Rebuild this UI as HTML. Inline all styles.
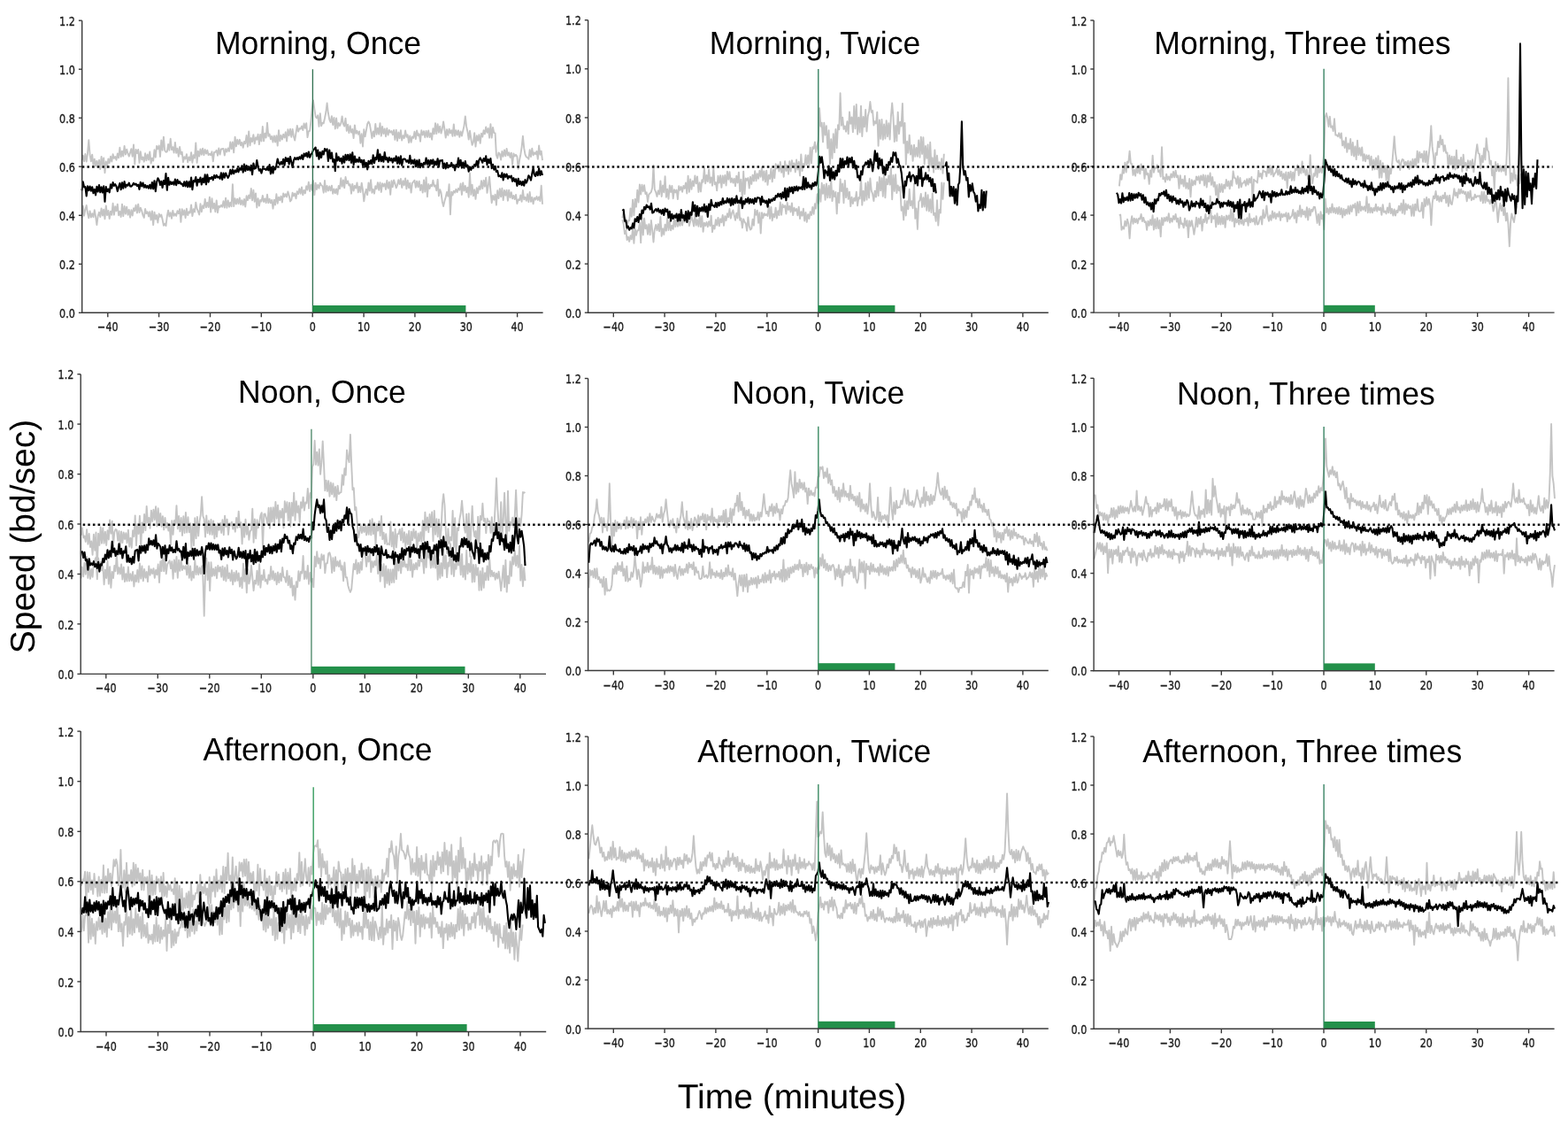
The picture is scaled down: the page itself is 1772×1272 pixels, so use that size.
<!DOCTYPE html>
<html><head><meta charset="utf-8"><title>Speed plots</title>
<style>
html,body{margin:0;padding:0;background:#fff;}
body{width:1772px;height:1272px;overflow:hidden;}
svg{display:block;}
svg text{font-family:'DejaVu Sans',sans-serif;fill:#1a1a1a;stroke:#1a1a1a;stroke-width:0.35px;}
svg text.ti{font-family:'Liberation Sans',Arial,sans-serif;font-size:35.55px;fill:#000;stroke:none;text-rendering:geometricPrecision;}
svg text.lab{font-family:'Liberation Sans',Arial,sans-serif;font-size:39.0px;fill:#000;stroke:none;text-rendering:geometricPrecision;}
</style></head><body>
<svg width="1772" height="1272" viewBox="0 0 1772 1272">
<rect width="1772" height="1272" fill="#fff"/>
<path d="M92.5 181.0 93.8 175.7 95.1 182.3 96.4 173.9 97.7 182.6 99.0 173.4 100.3 158.3 101.6 174.6 102.9 182.3 104.2 174.7 105.5 187.1 106.8 179.7 108.1 187.5 109.4 181.7 110.7 188.1 112.0 180.8 113.3 191.1 114.6 176.9 115.9 186.3 117.2 178.4 118.5 195.2 119.8 182.5 121.1 189.2 122.4 179.5 123.7 184.0 125.0 176.8 126.3 182.5 127.6 174.3 128.9 178.9 130.2 177.1 131.5 180.8 132.8 173.4 134.1 178.4 135.4 166.8 136.7 177.1 138.0 170.7 139.3 176.5 140.6 164.9 141.9 174.6 143.2 168.6 144.5 173.4 145.8 176.6 147.1 172.4 148.4 168.1 149.7 176.8 151.0 163.5 152.3 185.5 153.6 168.9 154.9 173.0 156.2 169.0 157.5 183.9 158.8 171.3 160.2 180.4 161.5 177.6 162.8 182.7 164.1 173.3 165.4 181.3 166.7 174.4 168.0 180.5 169.3 171.4 170.6 184.5 171.9 178.7 173.2 181.7 174.5 169.3 175.8 177.7 177.1 164.9 178.4 168.3 179.7 164.5 181.0 177.0 182.3 158.4 183.6 169.7 184.9 154.6 186.2 170.0 187.5 171.8 188.8 171.3 190.1 163.0 191.4 169.7 192.7 156.8 194.0 169.1 195.3 166.2 196.6 172.6 197.9 160.9 199.2 172.8 200.5 167.7 201.8 176.8 203.1 166.0 204.4 174.4 205.7 171.7 207.0 183.1 208.3 177.2 209.6 179.4 210.9 174.2 212.2 183.4 213.5 177.5 214.8 181.3 216.1 172.2 217.4 183.7 218.7 175.1 220.0 178.8 221.3 161.4 222.6 183.9 223.9 170.7 225.2 176.5 226.5 168.4 227.8 174.7 229.1 167.6 230.4 175.3 231.7 169.0 233.0 173.6 234.3 169.7 235.6 175.2 236.9 173.7 238.2 175.3 239.5 171.3 240.8 182.3 242.1 171.9 243.4 171.9 244.7 169.7 246.0 175.7 247.3 167.5 248.6 174.5 249.9 168.5 251.2 168.2 252.5 167.9 253.8 175.6 255.1 168.3 256.4 171.5 257.7 167.5 259.0 170.9 260.3 160.4 261.6 168.3 262.9 160.5 264.2 172.4 265.6 154.6 266.9 165.3 268.2 157.8 269.5 162.9 270.8 157.8 272.1 164.3 273.4 160.8 274.7 166.7 276.0 160.0 277.3 162.2 278.6 153.0 279.9 165.7 281.2 148.4 282.5 164.3 283.8 156.0 285.1 160.1 286.4 152.1 287.7 162.3 289.0 155.3 290.3 157.7 291.6 151.7 292.9 163.1 294.2 152.0 295.5 159.5 296.8 143.0 298.1 159.3 299.4 150.8 300.7 155.5 302.0 138.8 303.3 153.7 304.6 151.5 305.9 157.4 307.2 153.8 308.5 160.5 309.8 153.4 311.1 160.5 312.4 153.1 313.7 164.6 315.0 147.1 316.3 159.4 317.6 153.0 318.9 157.5 320.2 151.8 321.5 155.5 322.8 149.3 324.1 159.5 325.4 146.3 326.7 153.1 328.0 145.8 329.3 154.8 330.6 145.9 331.9 154.0 333.2 158.5 334.5 150.1 335.8 142.0 337.1 148.6 338.4 145.1 339.7 145.7 341.0 142.5 342.3 147.1 343.6 139.5 344.9 144.8 346.2 139.1 347.5 155.1 348.8 148.2 350.1 147.9 351.4 136.8 352.7 122.4 354.0 113.5 355.3 123.1 356.6 131.7 357.9 133.3 359.2 130.3 360.5 142.8 361.8 128.2 363.1 142.2 364.4 138.8 365.7 139.3 367.0 133.5 368.3 127.0 369.6 116.5 370.9 127.8 372.3 135.1 373.6 138.2 374.9 131.3 376.2 141.1 377.5 133.0 378.8 145.5 380.1 133.5 381.4 144.7 382.7 139.0 384.0 142.1 385.3 139.4 386.6 131.4 387.9 140.1 389.2 142.6 390.5 133.6 391.8 147.9 393.1 140.8 394.4 150.2 395.7 142.2 397.0 149.7 398.3 146.0 399.6 156.1 400.9 141.4 402.2 150.8 403.5 147.8 404.8 151.7 406.1 148.5 407.4 161.7 408.7 151.2 410.0 165.5 411.3 146.3 412.6 154.2 413.9 147.4 415.2 140.0 416.5 137.4 417.8 140.2 419.1 147.7 420.4 156.1 421.7 148.5 423.0 154.3 424.3 139.9 425.6 151.8 426.9 144.6 428.2 151.7 429.5 139.2 430.8 153.6 432.1 142.9 433.4 151.1 434.7 145.5 436.0 154.2 437.3 145.0 438.6 152.5 439.9 146.9 441.2 149.7 442.5 148.1 443.8 152.2 445.1 147.0 446.4 157.9 447.7 146.7 449.0 159.0 450.3 149.4 451.6 156.4 452.9 147.1 454.2 158.6 455.5 153.1 456.8 156.0 458.1 147.4 459.4 154.8 460.7 152.3 462.0 161.2 463.3 153.5 464.6 160.8 465.9 154.4 467.2 155.9 468.5 148.6 469.8 157.0 471.1 147.4 472.4 153.3 473.7 151.2 475.0 159.9 476.3 147.2 477.7 152.6 479.0 148.1 480.3 155.2 481.6 147.9 482.9 154.8 484.2 147.5 485.5 155.1 486.8 150.4 488.1 157.7 489.4 145.2 490.7 151.4 492.0 139.1 493.3 151.1 494.6 140.2 495.9 149.7 497.2 142.6 498.5 150.6 499.8 145.4 501.1 137.4 502.4 146.0 503.7 155.6 505.0 146.3 506.3 152.9 507.6 145.6 508.9 150.5 510.2 147.2 511.5 153.9 512.8 140.4 514.1 153.5 515.4 147.3 516.7 152.5 518.0 147.3 519.3 154.9 520.6 148.5 521.9 153.5 523.2 147.9 524.5 142.1 525.8 131.4 527.1 142.9 528.4 148.7 529.7 157.5 531.0 147.8 532.3 156.8 533.6 163.9 534.9 160.7 536.2 150.1 537.5 165.6 538.8 153.3 540.1 158.9 541.4 152.3 542.7 161.9 544.0 150.7 545.3 154.5 546.6 147.2 547.9 151.4 549.2 143.5 550.5 149.7 551.8 144.9 553.1 155.7 554.4 140.1 555.7 155.6 557.0 143.9 558.3 150.1 559.6 150.4 560.9 175.2 562.2 178.7 563.5 172.5 564.8 173.8 566.1 180.5 567.4 170.9 568.7 176.7 570.0 169.5 571.3 176.3 572.6 167.9 573.9 175.6 575.2 172.3 576.5 177.9 577.8 172.6 579.1 186.0 580.4 173.4 581.7 176.5 583.0 174.7 584.4 177.1 585.7 190.8 587.0 181.0 588.3 174.7 589.6 166.3 590.9 153.8 592.2 167.2 593.5 174.5 594.8 177.3 596.1 177.8 597.4 179.8 598.7 169.1 600.0 177.1 601.3 167.8 602.6 175.4 603.9 172.3 605.2 174.1 606.5 170.9 607.8 179.8 609.1 164.5 610.4 174.7 611.7 170.6 613.0 181.1" fill="none" stroke="#c4c4c4" stroke-width="1.9" stroke-linejoin="round"/>
<path d="M92.5 246.1 93.8 232.8 95.1 243.7 96.4 236.4 97.7 232.0 99.0 240.9 100.3 246.4 101.6 238.5 102.9 245.6 104.2 241.2 105.5 245.3 106.8 237.3 108.1 244.7 109.4 254.1 110.7 244.0 112.0 239.8 113.3 245.0 114.6 235.4 115.9 243.5 117.2 236.8 118.5 247.3 119.8 232.4 121.1 243.1 122.4 238.0 123.7 247.1 125.0 238.7 126.3 242.8 127.6 229.8 128.9 242.7 130.2 233.2 131.5 238.4 132.8 230.6 134.1 243.2 135.4 239.0 136.7 245.0 138.0 230.7 139.3 244.2 140.6 233.0 141.9 241.7 143.2 233.7 144.5 242.7 145.8 236.9 147.1 245.7 148.4 237.3 149.7 243.6 151.0 235.2 152.3 238.3 153.6 231.6 154.9 240.6 156.2 230.6 157.5 240.1 158.8 234.7 160.2 238.3 161.5 243.2 162.8 245.9 164.1 236.0 165.4 241.2 166.7 239.3 168.0 244.5 169.3 239.2 170.6 248.6 171.9 238.4 173.2 254.1 174.5 239.7 175.8 247.7 177.1 243.0 178.4 251.5 179.7 241.5 181.0 244.8 182.3 242.6 183.6 247.9 184.9 254.9 186.2 252.6 187.5 255.1 188.8 244.3 190.1 237.6 191.4 244.6 192.7 240.2 194.0 246.9 195.3 237.9 196.6 243.8 197.9 241.4 199.2 243.9 200.5 238.1 201.8 241.2 203.1 236.2 204.4 250.9 205.7 236.2 207.0 242.9 208.3 237.4 209.6 246.2 210.9 235.8 212.2 243.1 213.5 239.2 214.8 240.6 216.1 231.4 217.4 244.1 218.7 236.3 220.0 239.5 221.3 228.6 222.6 235.6 223.9 238.9 225.2 242.5 226.5 230.3 227.8 239.4 229.1 232.1 230.4 235.2 231.7 224.9 233.0 234.3 234.3 228.8 235.6 234.1 236.9 222.6 238.2 239.6 239.5 224.3 240.8 235.5 242.1 229.6 243.4 239.3 244.7 226.4 246.0 240.2 247.3 232.8 248.6 233.9 249.9 231.8 251.2 233.7 252.5 227.1 253.8 234.6 255.1 223.6 256.4 234.7 257.7 226.5 259.0 233.7 260.3 228.6 261.6 233.2 262.9 208.1 264.2 233.1 265.6 224.2 266.9 230.5 268.2 224.8 269.5 230.2 270.8 223.4 272.1 231.0 273.4 226.2 274.7 231.7 276.0 224.9 277.3 233.5 278.6 221.3 279.9 226.2 281.2 220.5 282.5 224.3 283.8 213.0 285.1 226.4 286.4 214.8 287.7 227.9 289.0 218.4 290.3 234.5 291.6 224.2 292.9 232.6 294.2 225.9 295.5 227.6 296.8 221.0 298.1 228.0 299.4 224.4 300.7 229.2 302.0 219.8 303.3 229.3 304.6 224.7 305.9 229.4 307.2 225.9 308.5 235.7 309.8 225.8 311.1 231.5 312.4 219.3 313.7 229.7 315.0 222.8 316.3 226.2 317.6 221.6 318.9 228.5 320.2 218.4 321.5 222.3 322.8 219.2 324.1 222.5 325.4 216.5 326.7 221.0 328.0 227.5 329.3 226.0 330.6 217.7 331.9 221.4 333.2 218.5 334.5 224.3 335.8 216.2 337.1 219.1 338.4 213.1 339.7 218.9 341.0 211.5 342.3 220.3 343.6 214.9 344.9 218.4 346.2 210.3 347.5 214.6 348.8 205.8 350.1 216.0 351.4 208.6 352.7 214.8 354.0 204.1 355.3 220.3 356.6 206.7 357.9 214.0 359.2 208.8 360.5 212.7 361.8 206.6 363.1 209.3 364.4 210.3 365.7 217.7 367.0 204.0 368.3 216.7 369.6 209.9 370.9 215.5 372.3 210.5 373.6 215.4 374.9 209.6 376.2 218.9 377.5 213.5 378.8 218.3 380.1 213.4 381.4 219.5 382.7 209.9 384.0 213.2 385.3 201.3 386.6 210.9 387.9 203.4 389.2 212.4 390.5 200.0 391.8 207.3 393.1 204.4 394.4 209.6 395.7 208.2 397.0 218.7 398.3 207.9 399.6 215.5 400.9 209.8 402.2 212.6 403.5 206.4 404.8 217.3 406.1 210.6 407.4 217.1 408.7 206.6 410.0 214.6 411.3 227.3 412.6 218.7 413.9 213.8 415.2 220.2 416.5 206.4 417.8 215.6 419.1 203.3 420.4 217.7 421.7 213.9 423.0 218.7 424.3 210.1 425.6 213.3 426.9 206.1 428.2 214.9 429.5 206.2 430.8 217.0 432.1 207.2 433.4 210.5 434.7 207.4 436.0 214.0 437.3 204.0 438.6 212.7 439.9 205.7 441.2 219.9 442.5 204.3 443.8 211.2 445.1 203.4 446.4 207.5 447.7 212.3 449.0 209.3 450.3 203.3 451.6 208.0 452.9 202.0 454.2 212.0 455.5 204.2 456.8 209.2 458.1 201.4 459.4 213.4 460.7 203.6 462.0 212.2 463.3 206.6 464.6 217.6 465.9 206.9 467.2 205.3 468.5 203.7 469.8 211.9 471.1 204.6 472.4 211.3 473.7 204.6 475.0 215.0 476.3 208.6 477.7 217.6 479.0 203.4 480.3 216.6 481.6 200.5 482.9 222.3 484.2 208.0 485.5 213.1 486.8 208.7 488.1 210.4 489.4 203.7 490.7 210.5 492.0 209.3 493.3 215.3 494.6 202.9 495.9 221.4 497.2 214.1 498.5 217.8 499.8 227.7 501.1 233.1 502.4 227.2 503.7 222.7 505.0 217.0 506.3 221.7 507.6 208.2 508.9 242.2 510.2 216.6 511.5 220.4 512.8 215.6 514.1 217.7 515.4 213.8 516.7 217.1 518.0 212.8 519.3 214.7 520.6 207.4 521.9 220.0 523.2 206.5 524.5 215.5 525.8 210.0 527.1 217.4 528.4 211.7 529.7 222.7 531.0 195.7 532.3 219.9 533.6 208.6 534.9 221.3 536.2 214.1 537.5 224.8 538.8 212.3 540.1 218.2 541.4 210.4 542.7 213.8 544.0 204.1 545.3 213.0 546.6 203.8 547.9 210.7 549.2 200.7 550.5 217.9 551.8 209.5 553.1 199.6 554.4 215.6 555.7 229.2 557.0 220.9 558.3 225.8 559.6 219.6 560.9 231.6 562.2 215.2 563.5 224.1 564.8 213.3 566.1 222.3 567.4 212.8 568.7 226.1 570.0 215.0 571.3 220.8 572.6 214.7 573.9 226.7 575.2 214.7 576.5 223.2 577.8 217.1 579.1 224.4 580.4 220.9 581.7 225.1 583.0 219.9 584.4 230.0 585.7 225.4 587.0 226.3 588.3 220.5 589.6 227.8 590.9 215.0 592.2 225.3 593.5 222.8 594.8 226.8 596.1 219.3 597.4 228.2 598.7 217.0 600.0 227.8 601.3 222.9 602.6 230.4 603.9 223.4 605.2 225.6 606.5 222.0 607.8 226.0 609.1 222.4 610.4 227.2 611.7 209.7 613.0 230.8" fill="none" stroke="#c4c4c4" stroke-width="1.9" stroke-linejoin="round"/>
<path d="M92.5 215.4 93.8 205.4 95.1 211.4 96.4 211.0 97.7 221.4 99.0 210.3 100.3 215.1 101.6 210.5 102.9 215.8 104.2 211.2 105.5 218.3 106.8 213.8 108.1 220.4 109.4 210.8 110.7 216.5 112.0 209.1 113.3 217.3 114.6 211.3 115.9 217.5 117.2 210.4 118.5 227.8 119.8 211.1 121.1 216.2 122.4 213.7 123.7 217.3 125.0 208.3 126.3 212.6 127.6 206.1 128.9 209.9 130.2 208.2 131.5 210.5 132.8 216.1 134.1 211.3 135.4 207.1 136.7 214.1 138.0 206.2 139.3 212.7 140.6 205.1 141.9 211.6 143.2 208.7 144.5 209.6 145.8 206.6 147.1 210.4 148.4 210.6 149.7 209.3 151.0 206.8 152.3 208.6 153.6 207.6 154.9 210.0 156.2 208.7 157.5 213.9 158.8 205.7 160.2 210.5 161.5 206.5 162.8 211.7 164.1 208.9 165.4 212.0 166.7 209.9 168.0 212.7 169.3 208.8 170.6 213.1 171.9 206.1 173.2 213.4 174.5 204.2 175.8 216.1 177.1 205.9 178.4 201.2 179.7 203.6 181.0 208.9 182.3 204.8 183.6 212.0 184.9 204.0 186.2 208.2 187.5 196.1 188.8 214.8 190.1 200.7 191.4 208.8 192.7 205.3 194.0 208.0 195.3 205.7 196.6 208.7 197.9 202.6 199.2 209.1 200.5 203.0 201.8 207.1 203.1 205.2 204.4 207.8 205.7 207.5 207.0 210.2 208.3 205.2 209.6 210.4 210.9 204.7 212.2 211.3 213.5 205.4 214.8 211.2 216.1 200.6 217.4 214.2 218.7 204.1 220.0 205.3 221.3 200.0 222.6 209.7 223.9 202.7 225.2 205.6 226.5 200.6 227.8 208.5 229.1 201.6 230.4 206.3 231.7 197.3 233.0 208.3 234.3 197.3 235.6 205.6 236.9 200.9 238.2 201.8 239.5 199.8 240.8 203.3 242.1 198.0 243.4 201.1 244.7 197.9 246.0 200.5 247.3 199.7 248.6 201.8 249.9 195.4 251.2 202.9 252.5 195.6 253.8 200.8 255.1 195.5 256.4 198.6 257.7 200.9 259.0 198.3 260.3 191.9 261.6 196.6 262.9 191.4 264.2 196.2 265.6 192.4 266.9 194.3 268.2 190.4 269.5 194.3 270.8 190.0 272.1 191.8 273.4 187.3 274.7 194.6 276.0 185.5 277.3 193.2 278.6 187.1 279.9 192.0 281.2 188.7 282.5 192.5 283.8 186.7 285.1 197.1 286.4 184.5 287.7 190.6 289.0 190.1 290.3 181.1 291.6 188.3 292.9 192.8 294.2 191.1 295.5 195.6 296.8 190.4 298.1 190.7 299.4 190.9 300.7 192.1 302.0 189.2 303.3 192.3 304.6 186.1 305.9 196.4 307.2 188.8 308.5 195.6 309.8 189.3 311.1 191.4 312.4 186.3 313.7 179.5 315.0 184.3 316.3 185.9 317.6 182.9 318.9 185.4 320.2 179.8 321.5 186.8 322.8 178.1 324.1 182.1 325.4 178.8 326.7 185.5 328.0 177.0 329.3 183.1 330.6 188.9 331.9 181.1 333.2 178.2 334.5 180.2 335.8 178.0 337.1 180.1 338.4 177.3 339.7 179.4 341.0 175.3 342.3 180.0 343.6 173.5 344.9 176.4 346.2 172.9 347.5 177.5 348.8 171.5 350.1 177.8 351.4 174.7 352.7 172.9 354.0 169.6 355.3 168.1 356.6 166.5 357.9 176.4 359.2 169.5 360.5 179.8 361.8 172.0 363.1 178.0 364.4 170.9 365.7 174.5 367.0 168.0 368.3 170.4 369.6 168.4 370.9 181.9 372.3 169.6 373.6 179.0 374.9 172.5 376.2 182.7 377.5 180.1 378.8 193.1 380.1 173.3 381.4 181.5 382.7 177.3 384.0 181.9 385.3 178.8 386.6 184.7 387.9 176.5 389.2 183.6 390.5 174.8 391.8 180.8 393.1 174.9 394.4 181.1 395.7 174.2 397.0 183.8 398.3 172.3 399.6 186.0 400.9 176.5 402.2 183.1 403.5 180.2 404.8 182.8 406.1 177.9 407.4 183.3 408.7 180.8 410.0 186.9 411.3 180.8 412.6 188.5 413.9 183.8 415.2 191.4 416.5 181.9 417.8 185.1 419.1 181.1 420.4 185.3 421.7 175.4 423.0 184.2 424.3 177.9 425.6 180.2 426.9 169.4 428.2 182.2 429.5 174.4 430.8 182.3 432.1 176.9 433.4 182.8 434.7 172.1 436.0 180.4 437.3 178.1 438.6 183.3 439.9 177.8 441.2 181.5 442.5 179.0 443.8 183.6 445.1 178.8 446.4 181.7 447.7 176.4 449.0 184.7 450.3 177.6 451.6 185.1 452.9 176.3 454.2 186.8 455.5 179.9 456.8 179.4 458.1 180.0 459.4 182.7 460.7 181.2 462.0 184.1 463.3 175.9 464.6 185.0 465.9 181.0 467.2 184.8 468.5 180.3 469.8 188.2 471.1 181.2 472.4 187.9 473.7 180.5 475.0 189.2 476.3 184.7 477.7 187.9 479.0 183.9 480.3 185.6 481.6 178.5 482.9 185.7 484.2 181.0 485.5 187.1 486.8 180.7 488.1 185.1 489.4 180.4 490.7 187.0 492.0 182.4 493.3 186.2 494.6 179.2 495.9 188.3 497.2 181.2 498.5 181.6 499.8 180.8 501.1 189.9 502.4 184.6 503.7 190.4 505.0 184.1 506.3 189.4 507.6 186.7 508.9 188.1 510.2 183.9 511.5 188.3 512.8 186.4 514.1 192.4 515.4 186.0 516.7 187.8 518.0 178.6 519.3 187.5 520.6 180.8 521.9 189.6 523.2 183.6 524.5 189.7 525.8 182.1 527.1 188.4 528.4 186.5 529.7 193.7 531.0 188.6 532.3 191.9 533.6 188.3 534.9 189.8 536.2 185.8 537.5 187.7 538.8 181.7 540.1 187.2 541.4 180.7 542.7 178.4 544.0 180.9 545.3 183.7 546.6 179.0 547.9 182.0 549.2 176.3 550.5 186.1 551.8 180.0 553.1 184.2 554.4 179.0 555.7 190.2 557.0 185.7 558.3 191.6 559.6 187.8 560.9 194.0 562.2 192.9 563.5 199.2 564.8 198.4 566.1 200.2 567.4 195.2 568.7 203.4 570.0 196.6 571.3 199.8 572.6 196.7 573.9 201.8 575.2 198.9 576.5 200.5 577.8 198.6 579.1 204.8 580.4 201.2 581.7 205.0 583.0 202.3 584.4 209.9 585.7 201.7 587.0 208.2 588.3 204.9 589.6 209.3 590.9 205.0 592.2 209.7 593.5 203.0 594.8 206.6 596.1 203.3 597.4 198.2 598.7 200.4 600.0 203.6 601.3 196.1 602.6 189.4 603.9 197.3 605.2 199.0 606.5 194.2 607.8 198.2 609.1 190.2 610.4 197.9 611.7 193.3 613.0 198.0" fill="none" stroke="#000" stroke-width="2.1" stroke-linejoin="round"/>
<line x1="353.4" y1="353.3" x2="353.4" y2="78.2" stroke="#2f6f4f" stroke-width="1.3"/>
<rect x="353.4" y="345.0" width="173.0" height="8.3" fill="#23904a"/>
<path d="M92.7 23.2V353.3H613.6" fill="none" stroke="#3a3a3a" stroke-width="1.4"/>
<line x1="88.9" y1="353.3" x2="92.7" y2="353.3" stroke="#3a3a3a" stroke-width="1.4"/>
<text x="0" y="0" transform="translate(84.9,358.9) scale(0.80,1)" text-anchor="end" font-size="14">0.0</text>
<line x1="88.9" y1="298.3" x2="92.7" y2="298.3" stroke="#3a3a3a" stroke-width="1.4"/>
<text x="0" y="0" transform="translate(84.9,303.9) scale(0.80,1)" text-anchor="end" font-size="14">0.2</text>
<line x1="88.9" y1="243.3" x2="92.7" y2="243.3" stroke="#3a3a3a" stroke-width="1.4"/>
<text x="0" y="0" transform="translate(84.9,248.9) scale(0.80,1)" text-anchor="end" font-size="14">0.4</text>
<line x1="88.9" y1="188.2" x2="92.7" y2="188.2" stroke="#3a3a3a" stroke-width="1.4"/>
<text x="0" y="0" transform="translate(84.9,193.8) scale(0.80,1)" text-anchor="end" font-size="14">0.6</text>
<line x1="88.9" y1="133.2" x2="92.7" y2="133.2" stroke="#3a3a3a" stroke-width="1.4"/>
<text x="0" y="0" transform="translate(84.9,138.8) scale(0.80,1)" text-anchor="end" font-size="14">0.8</text>
<line x1="88.9" y1="78.2" x2="92.7" y2="78.2" stroke="#3a3a3a" stroke-width="1.4"/>
<text x="0" y="0" transform="translate(84.9,83.8) scale(0.80,1)" text-anchor="end" font-size="14">1.0</text>
<line x1="88.9" y1="23.2" x2="92.7" y2="23.2" stroke="#3a3a3a" stroke-width="1.4"/>
<text x="0" y="0" transform="translate(84.9,28.8) scale(0.80,1)" text-anchor="end" font-size="14">1.2</text>
<line x1="121.8" y1="353.3" x2="121.8" y2="358.3" stroke="#3a3a3a" stroke-width="1.4"/>
<text x="0" y="0" transform="translate(121.8,374.3) scale(0.794,1)" text-anchor="middle" font-size="14">−40</text>
<line x1="179.6" y1="353.3" x2="179.6" y2="358.3" stroke="#3a3a3a" stroke-width="1.4"/>
<text x="0" y="0" transform="translate(179.6,374.3) scale(0.794,1)" text-anchor="middle" font-size="14">−30</text>
<line x1="237.5" y1="353.3" x2="237.5" y2="358.3" stroke="#3a3a3a" stroke-width="1.4"/>
<text x="0" y="0" transform="translate(237.5,374.3) scale(0.794,1)" text-anchor="middle" font-size="14">−20</text>
<line x1="295.3" y1="353.3" x2="295.3" y2="358.3" stroke="#3a3a3a" stroke-width="1.4"/>
<text x="0" y="0" transform="translate(295.3,374.3) scale(0.794,1)" text-anchor="middle" font-size="14">−10</text>
<line x1="353.2" y1="353.3" x2="353.2" y2="358.3" stroke="#3a3a3a" stroke-width="1.4"/>
<text x="0" y="0" transform="translate(353.2,374.3) scale(0.794,1)" text-anchor="middle" font-size="14">0</text>
<line x1="411.1" y1="353.3" x2="411.1" y2="358.3" stroke="#3a3a3a" stroke-width="1.4"/>
<text x="0" y="0" transform="translate(411.1,374.3) scale(0.794,1)" text-anchor="middle" font-size="14">10</text>
<line x1="468.9" y1="353.3" x2="468.9" y2="358.3" stroke="#3a3a3a" stroke-width="1.4"/>
<text x="0" y="0" transform="translate(468.9,374.3) scale(0.794,1)" text-anchor="middle" font-size="14">20</text>
<line x1="526.8" y1="353.3" x2="526.8" y2="358.3" stroke="#3a3a3a" stroke-width="1.4"/>
<text x="0" y="0" transform="translate(526.8,374.3) scale(0.794,1)" text-anchor="middle" font-size="14">30</text>
<line x1="584.6" y1="353.3" x2="584.6" y2="358.3" stroke="#3a3a3a" stroke-width="1.4"/>
<text x="0" y="0" transform="translate(584.6,374.3) scale(0.794,1)" text-anchor="middle" font-size="14">40</text>
<text class="ti" transform="translate(359.5,60.6) scale(1,1.02)" text-anchor="middle">Morning, Once</text>
<path d="M703.4 246.3 704.7 238.7 706.0 250.4 707.3 246.8 708.6 259.1 709.9 249.1 711.2 249.2 712.5 235.4 713.8 244.8 715.1 225.6 716.4 243.2 717.7 224.9 719.0 233.8 720.3 214.7 721.6 228.5 722.9 208.4 724.2 219.6 725.5 208.7 726.8 216.2 728.1 209.2 729.4 219.1 730.7 217.3 732.0 228.0 733.3 219.5 734.6 218.5 735.9 216.8 737.2 212.0 738.5 186.7 739.8 213.9 741.2 217.2 742.5 222.0 743.8 215.5 745.1 219.5 746.4 204.4 747.7 222.0 749.0 209.5 750.3 217.4 751.6 199.3 752.9 222.8 754.2 213.8 755.5 224.7 756.8 209.4 758.1 217.0 759.4 209.9 760.7 224.2 762.0 214.1 763.3 217.4 764.6 214.5 765.9 225.1 767.2 210.1 768.5 214.8 769.8 211.1 771.1 216.7 772.4 210.0 773.7 212.9 775.0 206.5 776.3 218.5 777.6 198.7 778.9 216.9 780.2 202.5 781.5 213.8 782.8 204.4 784.1 210.2 785.4 198.5 786.7 207.3 788.0 199.4 789.4 217.0 790.7 206.3 792.0 216.5 793.3 203.1 794.6 205.7 795.9 189.6 797.2 207.2 798.5 198.0 799.8 205.1 801.1 191.4 802.4 206.6 803.7 200.4 805.0 209.8 806.3 189.5 807.6 208.2 808.9 206.0 810.2 215.4 811.5 198.8 812.8 206.7 814.1 198.2 815.4 211.8 816.7 198.5 818.0 207.1 819.3 197.9 820.6 209.5 821.9 193.8 823.2 202.9 824.5 194.2 825.8 205.9 827.1 201.5 828.4 206.6 829.7 201.7 831.0 210.3 832.3 198.7 833.6 206.5 834.9 194.6 836.2 216.1 837.5 202.7 838.9 225.9 840.2 193.6 841.5 219.1 842.8 201.5 844.1 203.7 845.4 201.1 846.7 212.6 848.0 199.8 849.3 208.0 850.6 197.7 851.9 204.6 853.2 193.1 854.5 204.3 855.8 196.1 857.1 201.9 858.4 192.8 859.7 199.7 861.0 188.8 862.3 203.7 863.6 193.4 864.9 205.3 866.2 192.6 867.5 208.8 868.8 197.6 870.1 202.0 871.4 190.5 872.7 205.4 874.0 191.7 875.3 201.3 876.6 185.3 877.9 190.5 879.2 186.1 880.5 193.5 881.8 182.9 883.1 194.9 884.4 187.4 885.7 199.8 887.1 182.1 888.4 193.0 889.7 186.4 891.0 196.7 892.3 182.2 893.6 193.6 894.9 181.2 896.2 188.5 897.5 184.4 898.8 194.5 900.1 180.4 901.4 191.6 902.7 182.8 904.0 198.4 905.3 174.4 906.6 193.1 907.9 185.2 909.2 188.2 910.5 175.2 911.8 186.1 913.1 175.5 914.4 186.5 915.7 166.7 917.0 184.4 918.3 166.1 919.6 168.1 920.9 160.4 922.2 171.9 923.5 165.0 924.8 158.1 926.1 122.3 927.4 142.7 928.7 138.6 930.0 160.4 931.3 138.8 932.6 152.5 933.9 142.2 935.3 167.5 936.6 147.3 937.9 185.2 939.2 157.2 940.5 178.9 941.8 151.3 943.1 172.1 944.4 146.0 945.7 167.1 947.0 141.2 948.3 146.3 949.6 105.3 950.9 141.8 952.2 132.7 953.5 145.9 954.8 142.4 956.1 148.7 957.4 137.3 958.7 151.1 960.0 126.4 961.3 139.9 962.6 132.4 963.9 149.3 965.2 119.9 966.5 145.2 967.8 118.0 969.1 151.6 970.4 132.7 971.7 149.5 973.0 119.8 974.3 154.0 975.6 132.0 976.9 143.4 978.2 123.9 979.5 148.5 980.8 131.3 982.1 125.9 983.4 115.0 984.8 126.8 986.1 125.1 987.4 141.5 988.7 137.1 990.0 139.5 991.3 126.7 992.6 164.8 993.9 135.5 995.2 156.8 996.5 135.0 997.8 157.8 999.1 140.5 1000.4 156.5 1001.7 136.3 1003.0 154.2 1004.3 139.3 1005.6 157.5 1006.9 131.3 1008.2 116.5 1009.5 132.4 1010.8 160.0 1012.1 142.0 1013.4 159.1 1014.7 126.6 1016.0 151.2 1017.3 137.7 1018.6 142.6 1019.9 116.9 1021.2 161.7 1022.5 138.9 1023.8 185.6 1025.1 159.6 1026.4 172.7 1027.7 152.6 1029.0 174.6 1030.3 164.3 1031.6 181.9 1033.0 163.8 1034.3 176.8 1035.6 166.9 1036.9 176.8 1038.2 158.4 1039.5 177.8 1040.8 154.7 1042.1 173.9 1043.4 155.3 1044.7 185.5 1046.0 164.9 1047.3 178.8 1048.6 163.4 1049.9 193.0 1051.2 160.8 1052.5 188.6 1053.8 178.3 1055.1 194.6 1056.4 169.5 1057.7 191.0 1059.0 175.8 1060.3 191.1 1061.6 183.1 1062.9 191.6 1064.2 179.2 1065.5 195.7 1066.8 173.8" fill="none" stroke="#c4c4c4" stroke-width="1.9" stroke-linejoin="round"/>
<path d="M703.4 248.3 704.7 252.9 706.0 264.1 707.3 260.4 708.6 271.0 709.9 267.6 711.2 272.9 712.5 266.1 713.8 270.4 715.1 257.9 716.4 274.8 717.7 258.4 719.0 265.8 720.3 260.3 721.6 260.2 722.9 251.8 724.2 274.1 725.5 245.9 726.8 265.4 728.1 246.8 729.4 258.3 730.7 254.2 732.0 264.7 733.3 253.1 734.6 265.3 735.9 249.0 737.2 260.4 738.5 273.5 739.8 259.4 741.2 253.9 742.5 260.3 743.8 253.2 745.1 261.3 746.4 245.0 747.7 266.7 749.0 258.3 750.3 265.0 751.6 253.7 752.9 260.7 754.2 246.1 755.5 260.0 756.8 250.0 758.1 260.2 759.4 254.8 760.7 258.8 762.0 244.6 763.3 256.1 764.6 248.4 765.9 255.9 767.2 249.8 768.5 254.9 769.8 246.8 771.1 254.5 772.4 243.8 773.7 250.8 775.0 240.8 776.3 250.5 777.6 244.5 778.9 255.0 780.2 249.9 781.5 244.5 782.8 249.0 784.1 255.6 785.4 241.9 786.7 254.6 788.0 248.3 789.4 255.8 790.7 243.6 792.0 256.3 793.3 244.3 794.6 261.8 795.9 251.6 797.2 255.0 798.5 251.0 799.8 256.2 801.1 250.1 802.4 255.1 803.7 243.8 805.0 262.1 806.3 254.8 807.6 258.5 808.9 248.1 810.2 254.6 811.5 246.0 812.8 255.4 814.1 247.3 815.4 251.3 816.7 243.0 818.0 254.8 819.3 244.2 820.6 249.1 821.9 241.3 823.2 245.4 824.5 236.0 825.8 246.6 827.1 240.6 828.4 237.5 829.7 243.1 831.0 248.8 832.3 240.8 833.6 246.5 834.9 229.9 836.2 248.7 837.5 246.5 838.9 257.4 840.2 247.4 841.5 250.6 842.8 252.4 844.1 260.7 845.4 245.4 846.7 255.5 848.0 259.5 849.3 258.3 850.6 247.7 851.9 254.7 853.2 236.6 854.5 242.7 855.8 237.7 857.1 251.9 858.4 240.3 859.7 263.5 861.0 240.1 862.3 246.2 863.6 241.1 864.9 243.3 866.2 242.0 867.5 243.9 868.8 232.5 870.1 246.9 871.4 233.9 872.7 249.2 874.0 241.7 875.3 245.4 876.6 234.7 877.9 246.6 879.2 238.2 880.5 243.1 881.8 228.4 883.1 242.7 884.4 231.0 885.7 234.1 887.1 232.2 888.4 241.6 889.7 229.0 891.0 237.1 892.3 232.8 893.6 239.5 894.9 229.4 896.2 243.1 897.5 234.8 898.8 238.2 900.1 235.9 901.4 243.4 902.7 233.8 904.0 247.0 905.3 239.1 906.6 243.7 907.9 235.8 909.2 249.5 910.5 239.9 911.8 250.8 913.1 242.1 914.4 247.0 915.7 239.2 917.0 243.0 918.3 233.9 919.6 241.8 920.9 230.1 922.2 235.8 923.5 219.3 924.8 229.8 926.1 213.6 927.4 227.7 928.7 206.8 930.0 218.8 931.3 208.6 932.6 225.7 933.9 207.4 935.3 223.4 936.6 209.6 937.9 223.3 939.2 202.2 940.5 227.1 941.8 215.5 943.1 222.4 944.4 216.9 945.7 241.4 947.0 217.8 948.3 229.0 949.6 202.4 950.9 216.0 952.2 207.5 953.5 229.2 954.8 203.9 956.1 223.1 957.4 212.9 958.7 224.8 960.0 216.8 961.3 233.1 962.6 222.8 963.9 230.1 965.2 223.8 966.5 226.8 967.8 216.8 969.1 232.4 970.4 223.0 971.7 224.5 973.0 199.7 974.3 231.6 975.6 215.8 976.9 226.9 978.2 206.9 979.5 225.6 980.8 205.4 982.1 223.5 983.4 201.5 984.8 215.5 986.1 219.1 987.4 227.1 988.7 215.6 990.0 222.6 991.3 205.8 992.6 221.1 993.9 200.0 995.2 215.3 996.5 201.1 997.8 221.8 999.1 194.8 1000.4 223.2 1001.7 202.3 1003.0 208.3 1004.3 198.4 1005.6 208.6 1006.9 189.5 1008.2 225.2 1009.5 197.9 1010.8 215.9 1012.1 197.1 1013.4 218.1 1014.7 209.4 1016.0 215.2 1017.3 210.9 1018.6 237.8 1019.9 233.4 1021.2 248.4 1022.5 226.8 1023.8 243.5 1025.1 227.2 1026.4 236.3 1027.7 213.7 1029.0 232.3 1030.3 227.1 1031.6 235.2 1033.0 207.1 1034.3 246.9 1035.6 235.4 1036.9 258.9 1038.2 228.0 1039.5 226.1 1040.8 219.0 1042.1 234.0 1043.4 223.1 1044.7 233.5 1046.0 217.4 1047.3 237.8 1048.6 220.3 1049.9 238.6 1051.2 225.1 1052.5 240.0 1053.8 218.4 1055.1 242.9 1056.4 240.8 1057.7 249.9 1059.0 226.2 1060.3 254.6 1061.6 237.0 1062.9 240.5 1064.2 206.4 1065.5 224.9 1066.8 206.1" fill="none" stroke="#c4c4c4" stroke-width="1.9" stroke-linejoin="round"/>
<path d="M703.4 238.0 704.7 236.9 706.0 249.6 707.3 249.1 708.6 257.4 709.9 255.7 711.2 259.7 712.5 257.2 713.8 258.3 715.1 252.4 716.4 257.4 717.7 247.2 719.0 250.0 720.3 245.0 721.6 250.9 722.9 242.1 724.2 247.6 725.5 237.6 726.8 240.8 728.1 233.9 729.4 236.4 730.7 231.5 732.0 234.2 733.3 233.4 734.7 236.6 736.0 229.7 737.3 240.5 738.6 239.9 739.9 237.6 741.2 236.1 742.5 238.6 743.8 235.7 745.1 239.8 746.4 237.3 747.7 241.6 749.0 236.8 750.3 243.0 751.6 235.5 752.9 238.9 754.2 236.6 755.5 245.9 756.8 238.7 758.1 249.6 759.4 241.9 760.7 247.0 762.0 243.3 763.3 245.9 764.6 241.6 765.9 249.7 767.2 242.1 768.5 249.3 769.8 237.0 771.1 246.1 772.4 243.1 773.7 249.1 775.1 239.0 776.4 251.0 777.7 238.4 779.0 247.3 780.3 239.7 781.6 242.9 782.9 228.2 784.2 238.6 785.5 231.9 786.8 244.3 788.1 232.7 789.4 243.8 790.7 234.8 792.0 238.5 793.3 234.2 794.6 238.6 795.9 230.8 797.2 239.4 798.5 233.1 799.8 245.0 801.1 230.6 802.4 237.3 803.7 225.8 805.0 232.3 806.3 232.2 807.6 234.0 808.9 229.1 810.2 234.1 811.5 228.7 812.8 232.3 814.1 228.0 815.4 231.2 816.8 224.0 818.1 229.9 819.4 227.3 820.7 229.1 822.0 223.9 823.3 228.7 824.6 224.6 825.9 232.2 827.2 224.1 828.5 231.2 829.8 224.8 831.1 229.5 832.4 221.3 833.7 229.1 835.0 226.5 836.3 229.3 837.6 223.3 838.9 235.1 840.2 227.0 841.5 230.4 842.8 224.9 844.1 228.5 845.4 223.6 846.7 229.8 848.0 224.7 849.3 229.0 850.6 225.2 851.9 230.3 853.2 223.9 854.5 228.2 855.8 223.3 857.2 223.4 858.5 223.7 859.8 231.4 861.1 222.1 862.4 228.2 863.7 226.4 865.0 229.4 866.3 226.6 867.6 233.7 868.9 225.1 870.2 228.8 871.5 225.3 872.8 226.9 874.1 223.9 875.4 226.0 876.7 221.0 878.0 222.6 879.3 218.8 880.6 222.2 881.9 218.8 883.2 224.5 884.5 217.4 885.8 223.1 887.1 212.6 888.4 226.3 889.7 213.1 891.0 222.3 892.3 211.6 893.6 216.5 894.9 211.5 896.2 218.2 897.6 211.0 898.9 215.2 900.2 210.6 901.5 215.5 902.8 211.3 904.1 213.2 905.4 211.4 906.7 214.0 908.0 199.8 909.3 213.8 910.6 201.2 911.9 212.2 913.2 206.3 914.5 211.6 915.8 209.2 917.1 213.6 918.4 207.1 919.7 210.1 921.0 205.7 922.3 209.4 923.6 204.8 924.9 192.6 926.2 176.8 927.5 183.8 928.8 177.3 930.1 186.5 931.4 201.3 932.7 192.2 934.0 194.3 935.3 198.3 936.6 187.6 938.0 203.8 939.3 190.1 940.6 201.7 941.9 194.4 943.2 202.6 944.5 192.7 945.8 198.5 947.1 186.5 948.4 194.0 949.7 179.0 951.0 189.5 952.3 179.3 953.6 189.2 954.9 182.1 956.2 185.5 957.5 177.5 958.8 187.8 960.1 178.9 961.4 183.5 962.7 177.8 964.0 189.4 965.3 181.9 966.6 190.7 967.9 187.2 969.2 200.4 970.5 198.7 971.8 203.8 973.1 193.4 974.4 197.3 975.7 187.4 977.0 187.0 978.4 183.4 979.7 185.7 981.0 181.7 982.3 188.9 983.6 179.8 984.9 183.5 986.2 193.4 987.5 184.4 988.8 170.4 990.1 182.0 991.4 173.2 992.7 190.4 994.0 178.9 995.3 186.8 996.6 180.2 997.9 195.7 999.2 188.8 1000.5 197.4 1001.8 186.0 1003.1 192.0 1004.4 183.0 1005.7 186.1 1007.0 178.3 1008.3 182.9 1009.6 172.0 1010.9 175.5 1012.2 172.4 1013.5 183.9 1014.8 179.4 1016.1 186.2 1017.4 187.7 1018.8 195.8 1020.1 208.8 1021.4 223.5 1022.7 204.7 1024.0 209.7 1025.3 199.2 1026.6 200.1 1027.9 194.6 1029.2 204.7 1030.5 199.1 1031.8 197.6 1033.1 199.5 1034.4 207.3 1035.7 198.7 1037.0 209.4 1038.3 190.6 1039.6 201.8 1040.9 188.9 1042.2 210.3 1043.5 201.3 1044.8 202.8 1046.1 195.4 1047.4 202.6 1048.7 197.8 1050.0 204.9 1051.3 200.8 1052.6 210.3 1053.9 202.2 1055.2 216.1 1056.5 207.7 1057.8 218.4 M1068.3 188.0 1069.6 183.3 1071.0 203.5 1072.3 195.9 1073.6 221.5 1074.9 210.9 1076.3 221.3 1077.6 211.1 1078.9 229.7 1080.2 213.5 1081.6 231.4 1082.9 208.9 1084.2 206.1 1085.5 184.6 1086.9 137.4 1088.2 188.2 1089.5 197.5 1090.8 193.2 1092.2 203.5 1093.5 201.0 1094.8 222.4 1096.1 208.9 1097.5 215.7 1098.8 207.3 1100.1 216.5 1101.4 218.7 1102.8 227.6 1104.1 221.1 1105.4 238.5 1106.7 231.4 1108.1 235.0 1109.4 214.9 1110.7 237.5 1112.0 216.9 1113.4 234.5 1114.7 215.5" fill="none" stroke="#000" stroke-width="2.1" stroke-linejoin="round"/>
<line x1="924.8" y1="353.2" x2="924.8" y2="77.9" stroke="#2a7a58" stroke-width="1.3"/>
<rect x="924.8" y="344.9" width="86.6" height="8.3" fill="#23904a"/>
<path d="M664.6 22.7V353.2H1184.8" fill="none" stroke="#3a3a3a" stroke-width="1.4"/>
<line x1="660.8" y1="353.2" x2="664.6" y2="353.2" stroke="#3a3a3a" stroke-width="1.4"/>
<text x="0" y="0" transform="translate(656.8,358.8) scale(0.80,1)" text-anchor="end" font-size="14">0.0</text>
<line x1="660.8" y1="298.1" x2="664.6" y2="298.1" stroke="#3a3a3a" stroke-width="1.4"/>
<text x="0" y="0" transform="translate(656.8,303.7) scale(0.80,1)" text-anchor="end" font-size="14">0.2</text>
<line x1="660.8" y1="243.0" x2="664.6" y2="243.0" stroke="#3a3a3a" stroke-width="1.4"/>
<text x="0" y="0" transform="translate(656.8,248.6) scale(0.80,1)" text-anchor="end" font-size="14">0.4</text>
<line x1="660.8" y1="188.0" x2="664.6" y2="188.0" stroke="#3a3a3a" stroke-width="1.4"/>
<text x="0" y="0" transform="translate(656.8,193.6) scale(0.80,1)" text-anchor="end" font-size="14">0.6</text>
<line x1="660.8" y1="132.9" x2="664.6" y2="132.9" stroke="#3a3a3a" stroke-width="1.4"/>
<text x="0" y="0" transform="translate(656.8,138.5) scale(0.80,1)" text-anchor="end" font-size="14">0.8</text>
<line x1="660.8" y1="77.8" x2="664.6" y2="77.8" stroke="#3a3a3a" stroke-width="1.4"/>
<text x="0" y="0" transform="translate(656.8,83.4) scale(0.80,1)" text-anchor="end" font-size="14">1.0</text>
<line x1="660.8" y1="22.7" x2="664.6" y2="22.7" stroke="#3a3a3a" stroke-width="1.4"/>
<text x="0" y="0" transform="translate(656.8,28.3) scale(0.80,1)" text-anchor="end" font-size="14">1.2</text>
<line x1="693.3" y1="353.2" x2="693.3" y2="358.2" stroke="#3a3a3a" stroke-width="1.4"/>
<text x="0" y="0" transform="translate(693.3,374.2) scale(0.794,1)" text-anchor="middle" font-size="14">−40</text>
<line x1="751.1" y1="353.2" x2="751.1" y2="358.2" stroke="#3a3a3a" stroke-width="1.4"/>
<text x="0" y="0" transform="translate(751.1,374.2) scale(0.794,1)" text-anchor="middle" font-size="14">−30</text>
<line x1="808.9" y1="353.2" x2="808.9" y2="358.2" stroke="#3a3a3a" stroke-width="1.4"/>
<text x="0" y="0" transform="translate(808.9,374.2) scale(0.794,1)" text-anchor="middle" font-size="14">−20</text>
<line x1="866.8" y1="353.2" x2="866.8" y2="358.2" stroke="#3a3a3a" stroke-width="1.4"/>
<text x="0" y="0" transform="translate(866.8,374.2) scale(0.794,1)" text-anchor="middle" font-size="14">−10</text>
<line x1="924.6" y1="353.2" x2="924.6" y2="358.2" stroke="#3a3a3a" stroke-width="1.4"/>
<text x="0" y="0" transform="translate(924.6,374.2) scale(0.794,1)" text-anchor="middle" font-size="14">0</text>
<line x1="982.4" y1="353.2" x2="982.4" y2="358.2" stroke="#3a3a3a" stroke-width="1.4"/>
<text x="0" y="0" transform="translate(982.4,374.2) scale(0.794,1)" text-anchor="middle" font-size="14">10</text>
<line x1="1040.3" y1="353.2" x2="1040.3" y2="358.2" stroke="#3a3a3a" stroke-width="1.4"/>
<text x="0" y="0" transform="translate(1040.3,374.2) scale(0.794,1)" text-anchor="middle" font-size="14">20</text>
<line x1="1098.1" y1="353.2" x2="1098.1" y2="358.2" stroke="#3a3a3a" stroke-width="1.4"/>
<text x="0" y="0" transform="translate(1098.1,374.2) scale(0.794,1)" text-anchor="middle" font-size="14">30</text>
<line x1="1155.9" y1="353.2" x2="1155.9" y2="358.2" stroke="#3a3a3a" stroke-width="1.4"/>
<text x="0" y="0" transform="translate(1155.9,374.2) scale(0.794,1)" text-anchor="middle" font-size="14">40</text>
<text class="ti" transform="translate(921.0,60.6) scale(1,1.02)" text-anchor="middle">Morning, Twice</text>
<path d="M1264.9 210.4 1266.2 197.1 1267.5 202.9 1268.8 191.3 1270.1 195.7 1271.4 183.7 1272.7 194.6 1274.0 182.6 1275.3 183.6 1276.6 170.6 1277.9 184.6 1279.2 185.4 1280.5 197.8 1281.8 191.6 1283.1 198.7 1284.4 188.8 1285.7 195.4 1287.0 187.0 1288.3 196.4 1289.6 185.4 1290.9 192.1 1292.2 187.3 1293.5 201.9 1294.8 190.7 1296.1 197.3 1297.4 195.9 1298.7 207.8 1300.0 192.4 1301.3 199.9 1302.6 175.6 1303.9 194.7 1305.2 189.3 1306.5 189.6 1307.8 186.3 1309.1 194.3 1310.4 192.3 1311.7 199.5 1313.0 166.1 1314.3 202.1 1315.6 200.2 1316.9 205.6 1318.2 196.6 1319.5 203.0 1320.8 199.4 1322.1 203.6 1323.4 196.5 1324.7 200.4 1326.0 194.0 1327.3 200.3 1328.6 192.6 1329.9 200.3 1331.2 198.4 1332.5 212.9 1333.8 198.3 1335.1 207.8 1336.4 202.6 1337.7 210.6 1339.0 198.6 1340.3 212.7 1341.6 206.7 1342.9 213.5 1344.2 202.0 1345.5 222.4 1346.8 203.3 1348.1 209.4 1349.4 204.2 1350.7 208.6 1352.0 199.4 1353.3 203.3 1354.6 199.2 1355.9 207.2 1357.2 198.5 1358.5 203.6 1359.8 197.5 1361.1 209.5 1362.4 198.1 1363.7 211.5 1365.0 198.3 1366.3 205.4 1367.6 195.5 1368.9 208.8 1370.2 200.0 1371.5 210.7 1372.8 205.7 1374.1 220.1 1375.4 209.0 1376.7 230.0 1378.0 208.0 1379.3 216.9 1380.6 208.0 1381.9 217.1 1383.2 208.7 1384.5 212.8 1385.8 202.9 1387.1 210.3 1388.4 204.7 1389.7 213.4 1391.0 204.3 1392.3 209.8 1393.6 193.4 1394.9 200.9 1396.2 201.4 1397.5 207.8 1398.8 199.2 1400.1 212.2 1401.4 201.0 1402.7 211.4 1404.0 206.9 1405.3 206.6 1406.6 204.1 1407.9 209.8 1409.2 202.3 1410.5 208.6 1411.8 201.7 1413.1 206.4 1414.4 199.9 1415.7 229.9 1417.0 202.8 1418.3 204.3 1419.6 204.7 1420.9 206.5 1422.2 192.8 1423.5 199.6 1424.8 195.9 1426.1 201.7 1427.4 192.3 1428.7 193.9 1430.0 193.6 1431.3 199.4 1432.6 190.3 1433.9 195.5 1435.2 187.2 1436.5 197.3 1437.8 189.1 1439.1 199.4 1440.4 196.4 1441.7 194.7 1443.0 190.3 1444.3 197.5 1445.6 191.5 1446.9 199.1 1448.2 193.6 1449.5 202.0 1450.8 196.2 1452.1 203.5 1453.4 194.4 1454.7 212.2 1456.0 194.6 1457.3 201.0 1458.6 193.6 1459.9 203.8 1461.2 194.6 1462.5 203.8 1463.8 190.6 1465.1 192.1 1466.4 186.5 1467.7 198.0 1469.0 189.6 1470.3 195.7 1471.6 182.5 1472.9 194.8 1474.2 190.7 1475.5 197.8 1476.8 191.4 1478.1 202.2 1479.4 200.0 1480.7 175.1 1482.0 201.9 1483.3 207.2 1484.6 196.3 1485.9 198.7 1487.2 187.9 1488.5 200.1 1489.8 190.4 1491.1 194.9 1492.4 188.5 1493.7 195.1 1495.0 186.6 1496.3 172.6 1497.6 132.5 1498.9 127.9 1500.2 133.3 1501.5 143.1 1502.8 131.7 1504.1 143.9 1505.4 142.5 1506.7 148.1 1508.0 134.2 1509.3 152.6 1510.6 152.5 1511.9 154.3 1513.2 150.3 1514.5 155.8 1515.8 150.4 1517.1 164.4 1518.4 159.4 1519.7 167.1 1521.0 155.4 1522.3 171.9 1523.6 162.1 1524.9 168.3 1526.2 157.0 1527.5 175.3 1528.8 160.9 1530.1 176.5 1531.4 165.5 1532.7 180.1 1534.0 158.6 1535.3 175.2 1536.6 167.2 1537.9 175.9 1539.2 166.4 1540.5 181.6 1541.8 174.2 1543.1 182.3 1544.4 175.2 1545.7 179.3 1547.0 175.5 1548.3 187.0 1549.6 176.7 1551.0 191.8 1552.3 180.4 1553.6 191.4 1554.9 178.5 1556.2 191.2 1557.5 176.2 1558.8 200.8 1560.1 181.5 1561.4 200.5 1562.7 184.2 1564.0 194.5 1565.3 187.4 1566.6 203.5 1567.9 186.8 1569.2 208.7 1570.5 189.6 1571.8 196.4 1573.1 187.1 1574.4 171.2 1575.7 154.1 1577.0 172.5 1578.3 181.6 1579.6 183.3 1580.9 181.0 1582.2 192.0 1583.5 183.4 1584.8 179.9 1586.1 180.8 1587.4 187.4 1588.7 182.8 1590.0 188.2 1591.3 181.8 1592.6 191.1 1593.9 182.3 1595.2 189.3 1596.5 179.8 1597.8 188.0 1599.1 179.4 1600.4 188.7 1601.7 170.6 1603.0 183.6 1604.3 172.0 1605.6 178.1 1606.9 173.6 1608.2 182.8 1609.5 170.6 1610.8 183.1 1612.1 170.9 1613.4 186.3 1614.7 175.1 1616.0 163.7 1617.3 142.2 1618.6 165.4 1619.9 175.4 1621.2 190.1 1622.5 172.9 1623.8 174.9 1625.1 159.9 1626.4 166.4 1627.7 153.2 1629.0 163.4 1630.3 157.8 1631.6 170.8 1632.9 164.2 1634.2 172.8 1635.5 172.4 1636.8 190.4 1638.1 175.5 1639.4 185.9 1640.7 176.8 1642.0 190.9 1643.3 176.9 1644.6 191.5 1645.9 169.7 1647.2 190.4 1648.5 180.6 1649.8 186.9 1651.1 177.9 1652.4 193.7 1653.7 174.7 1655.0 187.6 1656.3 184.0 1657.6 192.8 1658.9 181.2 1660.2 190.1 1661.5 181.7 1662.8 189.5 1664.1 180.1 1665.4 194.3 1666.7 184.4 1668.0 172.5 1669.3 163.1 1670.6 173.2 1671.9 173.8 1673.2 190.3 1674.5 176.0 1675.8 183.2 1677.1 167.5 1678.4 180.4 1679.7 156.3 1681.0 169.5 1682.3 171.8 1683.6 185.2 1684.9 181.6 1686.2 198.3 1687.5 191.1 1688.8 213.9 1690.1 182.9 1691.4 193.2 1692.7 185.2 1694.0 193.5 1695.3 187.2 1696.6 193.8 1697.9 188.0 1699.2 193.1 1700.5 187.3 1701.8 197.6 1703.1 165.9 1704.4 88.3 1705.7 171.9 1707.0 206.8 1708.3 195.8 1709.6 204.6 1710.9 190.0 1712.2 202.6 1713.5 197.8 1714.8 209.6 1716.1 202.1 1717.4 207.1 1718.7 197.0 1720.0 204.1 1721.3 214.9 1722.6 199.7" fill="none" stroke="#c4c4c4" stroke-width="1.9" stroke-linejoin="round"/>
<path d="M1264.9 243.5 1266.2 242.5 1267.5 259.6 1268.8 256.3 1270.1 258.6 1271.4 249.8 1272.7 255.3 1274.0 247.7 1275.3 252.9 1276.6 269.3 1277.9 251.7 1279.2 244.1 1280.5 252.9 1281.8 246.6 1283.1 251.2 1284.4 247.1 1285.7 252.4 1287.0 246.6 1288.3 247.4 1289.6 241.9 1290.9 250.1 1292.2 245.8 1293.5 251.1 1294.8 250.2 1296.1 259.9 1297.4 249.8 1298.7 254.8 1300.0 248.3 1301.3 254.2 1302.6 243.3 1303.9 259.5 1305.2 247.5 1306.5 258.1 1307.8 246.2 1309.1 258.0 1310.4 248.8 1311.7 267.3 1313.0 246.1 1314.3 254.2 1315.6 245.9 1316.9 249.7 1318.2 245.2 1319.5 249.9 1320.8 241.2 1322.1 251.5 1323.4 246.7 1324.7 250.5 1326.0 244.0 1327.3 247.9 1328.6 241.9 1329.9 250.6 1331.2 246.6 1332.5 257.5 1333.8 245.7 1335.1 253.1 1336.4 252.4 1337.7 257.4 1339.0 246.7 1340.3 255.1 1341.6 249.1 1342.9 268.1 1344.2 249.4 1345.5 255.6 1346.8 249.2 1348.1 256.0 1349.4 264.9 1350.7 256.6 1352.0 245.6 1353.3 256.1 1354.6 246.6 1355.9 252.7 1357.2 245.0 1358.5 260.6 1359.8 247.9 1361.1 250.9 1362.4 242.0 1363.7 252.0 1365.0 245.9 1366.3 247.0 1367.7 221.8 1369.0 251.2 1370.3 244.3 1371.6 246.9 1372.9 243.3 1374.2 256.4 1375.5 241.2 1376.8 253.3 1378.1 244.7 1379.4 253.5 1380.7 243.8 1382.0 253.1 1383.3 244.7 1384.6 256.9 1385.9 243.4 1387.2 247.9 1388.5 243.4 1389.8 249.0 1391.1 236.5 1392.4 249.8 1393.7 239.2 1395.0 256.0 1396.3 246.9 1397.6 251.3 1398.9 247.2 1400.2 253.5 1401.5 244.9 1402.8 252.7 1404.1 248.2 1405.4 254.3 1406.7 247.6 1408.0 250.1 1409.3 246.2 1410.6 254.9 1411.9 241.4 1413.2 251.3 1414.5 247.3 1415.8 250.4 1417.1 246.4 1418.4 253.7 1419.7 244.1 1421.0 253.6 1422.3 252.7 1423.6 246.9 1424.9 244.4 1426.2 253.5 1427.5 237.2 1428.8 246.4 1430.1 243.5 1431.4 232.4 1432.7 244.5 1434.0 249.7 1435.3 243.1 1436.6 248.8 1437.9 238.4 1439.2 246.0 1440.5 240.1 1441.8 247.2 1443.1 241.5 1444.4 244.7 1445.7 239.2 1447.0 249.0 1448.3 241.5 1449.6 245.2 1450.9 241.9 1452.2 244.5 1453.5 240.3 1454.8 250.2 1456.1 241.0 1457.4 247.5 1458.7 245.3 1460.0 243.7 1461.3 236.9 1462.6 246.7 1463.9 240.1 1465.2 251.5 1466.5 238.2 1467.8 244.1 1469.1 232.2 1470.4 244.9 1471.7 236.7 1473.0 242.4 1474.3 238.5 1475.6 245.6 1476.9 234.1 1478.2 248.5 1479.5 235.6 1480.8 243.5 1482.1 236.7 1483.4 238.8 1484.7 233.8 1486.0 233.9 1487.3 241.6 1488.6 252.0 1489.9 241.9 1491.2 254.2 1492.5 239.3 1493.8 247.4 1495.1 242.8 1496.4 259.1 1497.7 224.7 1499.0 240.0 1500.3 235.4 1501.6 241.8 1502.9 234.6 1504.2 240.2 1505.5 230.4 1506.8 240.1 1508.1 235.0 1509.4 241.1 1510.7 234.8 1512.0 241.7 1513.3 234.0 1514.6 242.4 1515.9 235.3 1517.2 245.7 1518.5 236.0 1519.8 243.2 1521.1 236.6 1522.4 241.7 1523.7 233.0 1525.0 241.7 1526.3 232.3 1527.6 239.1 1528.9 231.4 1530.2 234.6 1531.5 230.0 1532.8 243.3 1534.1 228.3 1535.4 240.4 1536.7 227.7 1538.0 238.1 1539.3 233.5 1540.6 236.9 1541.9 233.3 1543.2 238.5 1544.5 222.3 1545.8 240.2 1547.1 230.5 1548.4 240.2 1549.7 234.7 1551.0 240.3 1552.3 235.0 1553.6 238.0 1554.9 230.6 1556.2 238.7 1557.5 234.0 1558.8 237.3 1560.1 234.6 1561.4 242.9 1562.7 231.2 1564.0 239.8 1565.3 238.6 1566.6 241.4 1567.9 234.4 1569.2 240.3 1570.5 229.6 1571.8 241.1 1573.1 235.8 1574.4 243.6 1575.7 236.5 1577.0 243.5 1578.3 237.7 1579.6 239.9 1580.9 232.6 1582.2 237.9 1583.5 229.7 1584.8 240.7 1586.1 225.9 1587.4 241.9 1588.7 230.2 1590.0 237.0 1591.3 231.3 1592.6 235.3 1594.0 232.8 1595.3 243.8 1596.6 231.2 1597.9 243.9 1599.2 230.6 1600.5 237.6 1601.8 225.2 1603.1 237.9 1604.4 238.9 1605.7 238.2 1607.0 229.0 1608.3 246.0 1609.6 224.7 1610.9 233.0 1612.2 222.9 1613.5 231.5 1614.8 224.6 1616.1 231.2 1617.4 254.3 1618.7 229.4 1620.0 221.4 1621.3 224.2 1622.6 216.0 1623.9 226.1 1625.2 221.3 1626.5 227.7 1627.8 221.9 1629.1 227.6 1630.4 220.7 1631.7 224.1 1633.0 217.7 1634.3 229.1 1635.6 221.2 1636.9 232.9 1638.2 220.6 1639.5 230.0 1640.8 231.0 1642.1 223.1 1643.4 213.3 1644.7 221.1 1646.0 217.4 1647.3 223.2 1648.6 213.6 1649.9 218.8 1651.2 213.7 1652.5 218.3 1653.8 215.9 1655.1 219.2 1656.4 216.8 1657.7 227.4 1659.0 216.9 1660.3 223.9 1661.6 215.4 1662.9 226.2 1664.2 223.2 1665.5 225.2 1666.8 219.7 1668.1 223.2 1669.4 221.3 1670.7 221.7 1672.0 221.1 1673.3 227.0 1674.6 216.6 1675.9 229.3 1677.2 216.9 1678.5 229.0 1679.8 220.4 1681.1 227.2 1682.4 225.8 1683.7 230.2 1685.0 225.8 1686.3 229.1 1687.6 238.6 1688.9 232.7 1690.2 222.3 1691.5 235.1 1692.8 251.0 1694.1 237.7 1695.4 229.7 1696.7 238.2 1698.0 231.6 1699.3 243.1 1700.6 234.9 1701.9 249.4 1703.2 240.7 1704.5 253.6 1705.8 278.3 1707.1 251.7 1708.4 241.4 1709.7 246.6 1711.0 251.0 1712.3 242.1 1713.6 232.8" fill="none" stroke="#c4c4c4" stroke-width="1.9" stroke-linejoin="round"/>
<path d="M1261.9 217.8 1263.2 220.0 1264.5 229.3 1265.8 225.2 1267.1 229.6 1268.4 218.2 1269.7 228.3 1271.0 223.4 1272.3 226.0 1273.6 222.7 1274.9 226.7 1276.2 218.0 1277.6 226.7 1278.9 218.7 1280.2 226.0 1281.5 219.4 1282.8 223.7 1284.1 219.3 1285.4 223.5 1286.7 217.7 1288.0 221.2 1289.3 219.2 1290.6 225.8 1291.9 220.2 1293.2 228.9 1294.5 223.0 1295.8 230.9 1297.1 228.5 1298.4 232.5 1299.7 229.3 1301.0 236.5 1302.3 229.1 1303.6 239.1 1304.9 225.4 1306.2 230.0 1307.5 224.9 1308.8 226.4 1310.1 218.8 1311.4 220.8 1312.7 217.8 1314.0 219.4 1315.3 216.3 1316.6 221.4 1317.9 214.7 1319.2 224.1 1320.6 219.8 1321.9 226.9 1323.2 221.5 1324.5 228.4 1325.8 221.9 1327.1 226.1 1328.4 224.0 1329.7 230.2 1331.0 226.3 1332.3 230.8 1333.6 224.9 1334.9 229.0 1336.2 227.4 1337.5 233.7 1338.8 228.5 1340.1 231.6 1341.4 226.0 1342.7 228.7 1344.0 237.5 1345.3 234.1 1346.6 227.4 1347.9 233.2 1349.2 229.8 1350.5 233.5 1351.8 227.8 1353.1 230.2 1354.4 229.5 1355.7 234.7 1357.0 224.5 1358.3 231.9 1359.6 226.6 1360.9 234.1 1362.2 229.7 1363.6 238.7 1364.9 231.7 1366.2 241.0 1367.5 232.2 1368.8 235.0 1370.1 228.5 1371.4 230.9 1372.7 230.0 1374.0 230.4 1375.3 224.8 1376.6 229.1 1377.9 227.8 1379.2 234.4 1380.5 229.1 1381.8 233.4 1383.1 228.6 1384.4 230.2 1385.7 229.1 1387.0 232.5 1388.3 226.6 1389.6 232.8 1390.9 227.9 1392.2 233.8 1393.5 228.4 1394.8 238.9 1396.1 231.6 1397.4 235.2 1398.7 228.1 1400.0 245.9 1401.3 225.6 1402.6 246.7 1403.9 231.0 1405.3 232.0 1406.6 228.0 1407.9 239.0 1409.2 229.5 1410.5 232.6 1411.8 225.1 1413.1 233.8 1414.4 228.3 1415.7 233.5 1417.0 220.0 1418.3 226.8 1419.6 224.5 1420.9 223.2 1422.2 219.9 1423.5 216.2 1424.8 218.6 1426.1 223.3 1427.4 215.9 1428.7 226.1 1430.0 217.5 1431.3 220.0 1432.6 217.4 1433.9 222.2 1435.2 219.1 1436.5 228.6 1437.8 215.8 1439.1 221.5 1440.4 216.9 1441.7 222.3 1443.0 217.8 1444.3 221.3 1445.6 218.8 1446.9 220.4 1448.3 214.2 1449.6 220.1 1450.9 219.4 1452.2 220.1 1453.5 215.9 1454.8 219.6 1456.1 216.7 1457.4 219.2 1458.7 210.4 1460.0 218.0 1461.3 214.4 1462.6 217.2 1463.9 211.8 1465.2 217.2 1466.5 214.5 1467.8 218.1 1469.1 216.1 1470.4 218.8 1471.7 212.1 1473.0 218.4 1474.3 213.0 1475.6 216.2 1476.9 210.6 1478.2 217.7 1479.5 198.5 1480.8 215.2 1482.1 210.7 1483.4 219.3 1484.7 210.8 1486.0 217.2 1487.3 215.3 1488.6 219.9 1490.0 217.1 1491.3 224.4 1492.6 218.2 1493.9 223.2 1495.2 218.9 1496.5 204.0 1497.8 180.6 1499.1 184.6 1500.4 187.5 1501.7 192.2 1503.0 187.8 1504.3 194.2 1505.6 191.3 1506.9 198.3 1508.2 191.0 1509.5 199.1 1510.8 193.8 1512.1 199.3 1513.4 196.5 1514.7 201.5 1516.0 198.1 1517.3 203.1 1518.6 203.4 1519.9 205.2 1521.2 201.5 1522.5 206.5 1523.8 201.5 1525.1 207.8 1526.4 204.5 1527.7 211.3 1529.0 202.3 1530.3 208.3 1531.6 204.3 1533.0 208.6 1534.3 205.5 1535.6 205.1 1536.9 206.5 1538.2 210.0 1539.5 207.4 1540.8 211.7 1542.1 204.4 1543.4 211.1 1544.7 209.5 1546.0 214.9 1547.3 210.1 1548.6 214.2 1549.9 206.4 1551.2 214.9 1552.5 212.9 1553.8 220.4 1555.1 213.3 1556.4 216.6 1557.7 210.7 1559.0 214.8 1560.3 207.1 1561.6 214.8 1562.9 206.8 1564.2 212.8 1565.5 207.0 1566.8 210.8 1568.1 205.5 1569.4 211.2 1570.7 209.5 1572.0 213.8 1573.3 211.0 1574.7 217.3 1576.0 210.4 1577.3 213.3 1578.6 210.5 1579.9 212.6 1581.2 207.0 1582.5 213.5 1583.8 207.0 1585.1 217.1 1586.4 209.4 1587.7 214.4 1589.0 209.6 1590.3 211.1 1591.6 207.1 1592.9 210.0 1594.2 206.2 1595.5 211.3 1596.8 203.2 1598.1 208.8 1599.4 200.3 1600.7 206.8 1602.0 198.5 1603.3 208.2 1604.6 203.5 1605.9 206.6 1607.2 204.3 1608.5 208.5 1609.8 206.4 1611.1 209.7 1612.4 206.6 1613.7 209.4 1615.0 204.1 1616.3 208.2 1617.7 204.5 1619.0 207.3 1620.3 201.8 1621.6 204.1 1622.9 197.4 1624.2 204.2 1625.5 200.2 1626.8 206.6 1628.1 200.2 1629.4 199.9 1630.7 199.1 1632.0 204.2 1633.3 201.0 1634.6 202.6 1635.9 197.4 1637.2 202.1 1638.5 195.2 1639.8 199.9 1641.1 198.1 1642.4 201.1 1643.7 196.9 1645.0 199.6 1646.3 197.7 1647.6 201.5 1648.9 198.4 1650.2 205.5 1651.5 199.5 1652.8 210.2 1654.1 199.1 1655.4 207.3 1656.7 196.1 1658.0 203.7 1659.3 201.4 1660.7 206.2 1662.0 202.3 1663.3 207.2 1664.6 210.2 1665.9 207.4 1667.2 200.0 1668.5 207.4 1669.8 203.1 1671.1 207.8 1672.4 194.7 1673.7 207.8 1675.0 210.4 1676.3 212.7 1677.6 206.2 1678.9 213.7 1680.2 206.6 1681.5 219.1 1682.8 211.9 1684.1 219.1 1685.4 213.4 1686.7 229.1 1688.0 220.4 1689.3 227.1 1690.6 217.5 1691.9 225.1 1693.2 214.9 1694.5 225.4 1695.8 210.9 1697.1 221.4 1698.4 216.6 1699.7 232.8 1701.0 214.0 1702.4 227.4 1703.7 212.9 1705.0 219.7 1706.3 222.7 1707.6 226.8 1708.9 219.2 1710.2 225.0 1711.5 221.2 1712.8 241.2 1714.1 221.6 1715.4 227.5 1716.7 171.9 1718.0 49.4 1719.3 181.3 1720.6 235.3 1721.9 191.2 1723.2 230.9 1724.5 194.1 1725.8 222.1 1727.1 195.8 1728.4 214.9 1729.7 207.4 1731.0 230.2 1732.3 201.6 1733.6 210.9 1734.9 196.0 1736.2 212.9 1737.5 180.3" fill="none" stroke="#000" stroke-width="2.1" stroke-linejoin="round"/>
<line x1="1496.1" y1="353.1" x2="1496.1" y2="77.8" stroke="#2a7a58" stroke-width="1.3"/>
<rect x="1496.1" y="344.8" width="57.7" height="8.3" fill="#23904a"/>
<path d="M1236.1 23.0V353.1H1756.6" fill="none" stroke="#3a3a3a" stroke-width="1.4"/>
<line x1="1232.3" y1="353.1" x2="1236.1" y2="353.1" stroke="#3a3a3a" stroke-width="1.4"/>
<text x="0" y="0" transform="translate(1228.3,358.7) scale(0.80,1)" text-anchor="end" font-size="14">0.0</text>
<line x1="1232.3" y1="298.1" x2="1236.1" y2="298.1" stroke="#3a3a3a" stroke-width="1.4"/>
<text x="0" y="0" transform="translate(1228.3,303.7) scale(0.80,1)" text-anchor="end" font-size="14">0.2</text>
<line x1="1232.3" y1="243.1" x2="1236.1" y2="243.1" stroke="#3a3a3a" stroke-width="1.4"/>
<text x="0" y="0" transform="translate(1228.3,248.7) scale(0.80,1)" text-anchor="end" font-size="14">0.4</text>
<line x1="1232.3" y1="188.0" x2="1236.1" y2="188.0" stroke="#3a3a3a" stroke-width="1.4"/>
<text x="0" y="0" transform="translate(1228.3,193.6) scale(0.80,1)" text-anchor="end" font-size="14">0.6</text>
<line x1="1232.3" y1="133.0" x2="1236.1" y2="133.0" stroke="#3a3a3a" stroke-width="1.4"/>
<text x="0" y="0" transform="translate(1228.3,138.6) scale(0.80,1)" text-anchor="end" font-size="14">0.8</text>
<line x1="1232.3" y1="78.0" x2="1236.1" y2="78.0" stroke="#3a3a3a" stroke-width="1.4"/>
<text x="0" y="0" transform="translate(1228.3,83.6) scale(0.80,1)" text-anchor="end" font-size="14">1.0</text>
<line x1="1232.3" y1="23.0" x2="1236.1" y2="23.0" stroke="#3a3a3a" stroke-width="1.4"/>
<text x="0" y="0" transform="translate(1228.3,28.6) scale(0.80,1)" text-anchor="end" font-size="14">1.2</text>
<line x1="1264.5" y1="353.1" x2="1264.5" y2="358.1" stroke="#3a3a3a" stroke-width="1.4"/>
<text x="0" y="0" transform="translate(1264.5,374.1) scale(0.794,1)" text-anchor="middle" font-size="14">−40</text>
<line x1="1322.4" y1="353.1" x2="1322.4" y2="358.1" stroke="#3a3a3a" stroke-width="1.4"/>
<text x="0" y="0" transform="translate(1322.4,374.1) scale(0.794,1)" text-anchor="middle" font-size="14">−30</text>
<line x1="1380.3" y1="353.1" x2="1380.3" y2="358.1" stroke="#3a3a3a" stroke-width="1.4"/>
<text x="0" y="0" transform="translate(1380.3,374.1) scale(0.794,1)" text-anchor="middle" font-size="14">−20</text>
<line x1="1438.2" y1="353.1" x2="1438.2" y2="358.1" stroke="#3a3a3a" stroke-width="1.4"/>
<text x="0" y="0" transform="translate(1438.2,374.1) scale(0.794,1)" text-anchor="middle" font-size="14">−10</text>
<line x1="1496.0" y1="353.1" x2="1496.0" y2="358.1" stroke="#3a3a3a" stroke-width="1.4"/>
<text x="0" y="0" transform="translate(1496.0,374.1) scale(0.794,1)" text-anchor="middle" font-size="14">0</text>
<line x1="1553.9" y1="353.1" x2="1553.9" y2="358.1" stroke="#3a3a3a" stroke-width="1.4"/>
<text x="0" y="0" transform="translate(1553.9,374.1) scale(0.794,1)" text-anchor="middle" font-size="14">10</text>
<line x1="1611.8" y1="353.1" x2="1611.8" y2="358.1" stroke="#3a3a3a" stroke-width="1.4"/>
<text x="0" y="0" transform="translate(1611.8,374.1) scale(0.794,1)" text-anchor="middle" font-size="14">20</text>
<line x1="1669.7" y1="353.1" x2="1669.7" y2="358.1" stroke="#3a3a3a" stroke-width="1.4"/>
<text x="0" y="0" transform="translate(1669.7,374.1) scale(0.794,1)" text-anchor="middle" font-size="14">30</text>
<line x1="1727.6" y1="353.1" x2="1727.6" y2="358.1" stroke="#3a3a3a" stroke-width="1.4"/>
<text x="0" y="0" transform="translate(1727.6,374.1) scale(0.794,1)" text-anchor="middle" font-size="14">40</text>
<text class="ti" transform="translate(1471.9,60.6) scale(1,1.02)" text-anchor="middle">Morning, Three times</text>
<path d="M91.6 604.9 92.9 596.2 94.2 607.5 95.5 605.5 96.8 612.0 98.1 598.2 99.4 614.7 100.7 603.0 102.0 618.0 103.3 611.5 104.6 626.7 105.9 603.6 107.2 621.7 108.5 601.5 109.8 643.4 111.1 602.7 112.4 615.9 113.7 595.5 115.0 613.7 116.3 596.5 117.6 613.7 118.9 600.6 120.2 616.0 121.5 599.3 122.8 609.5 124.1 587.5 125.4 602.7 126.7 588.8 128.0 616.7 129.3 601.1 130.6 597.9 131.9 598.7 133.2 610.7 134.5 600.0 135.8 617.9 137.1 600.4 138.4 613.1 139.7 601.4 141.0 609.1 142.3 602.3 143.6 613.4 144.9 598.6 146.2 617.6 147.5 607.8 148.8 618.8 150.1 599.2 151.4 606.0 152.7 582.4 154.0 616.1 155.3 592.2 156.6 603.0 157.9 582.8 159.2 618.9 160.5 590.4 161.8 601.7 163.1 581.0 164.4 599.1 165.7 571.9 167.0 590.3 168.3 584.9 169.6 596.8 170.9 576.6 172.2 589.0 173.5 575.6 174.8 587.2 176.1 572.2 177.4 594.5 178.7 574.2 180.0 592.2 181.3 579.9 182.6 594.8 183.9 583.2 185.2 598.3 186.5 584.9 187.8 596.0 189.1 590.9 190.4 599.6 191.7 593.5 193.0 615.2 194.3 588.1 195.6 603.9 196.9 588.0 198.2 592.5 199.5 571.1 200.8 597.3 202.1 582.9 203.4 600.4 204.7 584.9 206.0 604.9 207.3 583.3 208.6 602.0 209.9 578.9 211.2 601.5 212.5 584.1 213.8 601.2 215.1 591.1 216.4 619.2 217.7 592.0 219.0 616.1 220.3 585.3 221.6 608.1 222.9 583.9 224.2 605.4 225.5 589.0 226.8 581.5 228.1 561.2 229.4 583.0 230.7 586.4 232.0 606.5 233.3 582.5 234.6 602.3 235.9 588.3 237.2 603.7 238.5 587.0 239.8 604.0 241.1 588.4 242.4 608.4 243.7 592.5 245.0 606.3 246.3 591.1 247.6 598.9 248.9 591.0 250.2 602.0 251.5 587.2 252.8 604.2 254.1 582.6 255.4 594.9 256.7 586.7 258.0 604.0 259.3 591.2 260.6 593.6 261.9 589.7 263.2 597.5 264.5 592.5 265.8 600.7 267.1 584.9 268.4 596.2 269.7 577.6 271.0 595.5 272.3 590.2 273.6 614.4 274.9 591.7 276.2 606.7 277.5 586.8 278.8 603.8 280.1 594.4 281.4 609.7 282.7 600.0 284.0 598.8 285.3 574.8 286.6 612.8 287.9 586.5 289.2 608.3 290.5 587.3 291.8 596.3 293.1 590.6 294.4 582.3 295.7 579.2 297.0 618.8 298.3 580.9 299.6 580.5 300.9 585.4 302.3 591.7 303.6 573.8 304.9 596.8 306.2 573.4 307.5 589.4 308.8 573.2 310.1 590.4 311.4 566.9 312.7 585.7 314.0 570.6 315.3 591.5 316.6 576.9 317.9 584.8 319.2 574.7 320.5 596.4 321.8 566.3 323.1 578.7 324.4 567.3 325.7 588.0 327.0 567.9 328.3 594.7 329.6 567.9 330.9 582.6 332.2 556.6 333.5 587.8 334.8 566.2 336.1 579.0 337.4 571.5 338.7 589.8 340.0 567.3 341.3 573.7 342.6 561.6 343.9 576.6 345.2 567.5 346.5 568.5 347.8 552.0 349.1 574.2 350.4 557.0 351.7 562.5 353.0 527.4 354.3 524.4 355.6 497.8 356.9 524.9 358.2 510.8 359.5 525.7 360.8 507.4 362.1 535.8 363.4 522.4 364.7 498.4 366.0 524.2 367.3 554.3 368.6 542.6 369.9 555.0 371.2 543.1 372.5 560.7 373.8 545.1 375.1 558.3 376.4 546.1 377.7 561.4 379.0 549.9 380.3 565.1 381.6 548.6 382.9 558.0 384.2 556.6 385.5 556.2 386.8 536.5 388.1 547.9 389.4 529.3 390.7 536.7 392.0 508.5 393.3 517.3 394.6 522.2 395.9 490.9 397.2 524.6 398.5 553.2 399.8 551.2 401.1 576.2 402.4 573.1 403.7 590.1 405.0 607.6 406.3 601.5 407.6 592.2 408.9 602.1 410.2 594.9 411.5 601.1 412.8 593.3 414.1 604.5 415.4 593.9 416.7 603.8 418.0 587.8 419.3 604.4 420.6 586.1 421.9 603.1 423.2 590.4 424.5 615.2 425.8 592.0 427.1 599.5 428.4 589.0 429.7 605.0 431.0 582.9 432.3 609.2 433.6 601.7 434.9 614.2 436.2 603.1 437.5 615.1 438.8 614.3 440.1 615.3 441.4 589.4 442.7 617.3 444.0 601.1 445.3 622.1 446.6 597.8 447.9 618.3 449.2 603.3 450.5 603.1 451.8 598.0 453.1 610.4 454.4 596.8 455.7 612.7 457.0 601.1 458.3 618.0 459.6 603.3 460.9 615.0 462.2 599.7 463.5 626.1 464.8 600.4 466.1 610.3 467.4 597.7 468.7 607.8 470.0 600.1 471.3 623.6 472.6 602.5 473.9 611.2 475.2 601.3 476.5 611.9 477.8 588.1 479.1 610.6 480.4 578.6 481.7 599.0 483.0 584.4 484.3 601.2 485.6 581.0 486.9 595.3 488.2 578.5 489.5 611.3 490.8 577.0 492.1 603.7 493.4 586.2 494.7 606.3 496.0 586.7 497.3 611.9 498.6 597.8 499.9 569.9 501.2 558.2 502.5 570.8 503.8 600.6 505.1 625.0 506.4 597.2 507.7 613.9 509.0 606.8 510.3 610.5 511.6 577.0 512.9 617.8 514.2 585.2 515.5 637.8 516.8 596.4 518.1 599.1 519.4 586.5 520.7 579.5 522.0 565.7 523.3 580.6 524.6 595.5 525.9 601.7 527.2 580.8 528.5 615.2 529.8 580.1 531.1 628.6 532.4 595.7 533.7 571.7 535.0 597.5 536.3 606.2 537.6 600.0 538.9 623.9 540.2 583.7 541.5 613.5 542.8 582.9 544.1 587.2 545.4 568.7 546.7 588.6 548.0 585.8 549.3 602.2 550.6 585.8 551.9 589.1 553.2 588.8 554.5 601.9 555.8 584.2 557.1 611.4 558.4 595.7 559.7 570.8 561.0 540.3 562.3 573.2 563.6 592.5 564.9 602.2 566.2 567.2 567.5 605.8 568.8 586.6 570.1 556.7 571.4 588.8 572.7 614.1 574.0 554.6 575.3 599.7 576.6 589.8 577.9 593.4 579.2 584.7 580.5 595.4 581.8 582.3 583.1 553.8 584.4 584.5 585.7 600.4 587.0 585.4 588.3 594.1 589.6 581.0 590.9 556.0 592.2 556.7 593.5 556.0" fill="none" stroke="#c4c4c4" stroke-width="1.9" stroke-linejoin="round"/>
<path d="M91.6 653.4 92.9 640.5 94.2 651.4 95.5 635.9 96.8 648.7 98.1 629.2 99.4 652.9 100.7 638.1 102.0 653.8 103.3 643.0 104.6 651.8 105.9 635.9 107.2 632.6 108.5 629.7 109.8 654.3 111.1 630.5 112.4 643.1 113.7 634.9 115.0 644.3 116.3 639.6 117.6 660.3 118.9 643.7 120.2 653.1 121.5 633.8 122.8 659.6 124.1 640.2 125.4 663.9 126.7 645.9 128.0 653.1 129.3 639.0 130.6 645.3 131.9 624.8 133.2 648.4 134.5 641.1 135.8 648.5 137.1 637.4 138.4 654.6 139.7 640.7 141.0 657.1 142.3 648.3 143.6 656.5 144.9 640.5 146.2 656.4 147.5 648.3 148.8 656.0 150.1 645.9 151.4 662.5 152.7 649.8 154.0 657.0 155.3 643.9 156.6 657.6 157.9 636.4 159.2 653.6 160.5 639.5 161.8 656.3 163.1 643.0 164.4 652.7 165.7 646.0 167.0 657.1 168.3 639.5 169.6 649.7 170.9 643.3 172.2 648.1 173.5 642.1 174.8 652.9 176.1 643.9 177.4 649.4 178.7 637.5 180.0 658.0 181.3 634.2 182.6 645.1 183.9 622.9 185.2 645.3 186.5 631.3 187.8 648.2 189.1 637.4 190.4 635.3 191.7 633.3 193.0 642.4 194.3 634.3 195.6 653.8 196.9 632.4 198.2 646.2 199.5 628.9 200.8 652.8 202.1 632.8 203.4 644.8 204.7 632.7 206.0 644.0 207.3 639.3 208.6 642.6 209.9 639.1 211.2 649.3 212.5 636.2 213.8 652.8 215.1 639.5 216.4 655.5 217.7 645.8 219.0 652.9 220.3 632.9 221.6 649.0 222.9 639.4 224.2 649.2 225.5 641.1 226.8 648.4 228.1 639.1 229.4 652.2 230.7 695.8 232.0 648.9 233.3 630.6 234.6 655.3 235.9 635.2 237.2 667.2 238.5 635.2 239.8 650.9 241.1 642.5 242.4 650.4 243.7 640.6 245.0 653.2 246.3 639.0 247.6 645.6 248.9 640.6 250.2 651.7 251.5 639.7 252.8 655.3 254.1 641.3 255.4 656.5 256.7 638.3 258.0 653.4 259.3 647.5 260.6 656.3 261.9 644.3 263.2 660.3 264.5 646.7 265.8 656.7 267.1 645.0 268.4 655.9 269.7 647.4 271.0 662.6 272.3 652.5 273.6 664.2 274.9 636.7 276.2 656.8 277.5 642.6 278.8 669.5 280.1 643.1 281.4 659.4 282.7 653.8 284.0 638.8 285.3 652.1 286.6 667.2 287.9 655.8 289.2 659.5 290.5 644.7 291.8 660.7 293.1 637.2 294.4 663.7 295.7 649.9 297.0 655.1 298.3 643.7 299.6 656.5 300.9 654.5 302.3 659.7 303.6 649.4 304.9 655.1 306.2 640.0 307.5 654.4 308.8 645.1 310.1 655.7 311.4 647.7 312.7 660.2 314.0 646.5 315.3 658.1 316.6 647.9 317.9 656.2 319.2 641.0 320.5 652.0 321.8 652.1 323.1 657.7 324.4 644.7 325.7 661.1 327.0 650.6 328.3 663.6 329.6 652.8 330.9 672.9 332.2 661.4 333.5 677.6 334.8 657.2 336.1 663.2 337.4 645.2 338.7 656.2 340.0 645.8 341.3 647.4 342.6 628.0 343.9 654.0 345.2 645.5 346.5 653.9 347.8 638.9 349.1 659.8 350.4 647.0 351.7 657.4 353.0 653.8 354.3 663.4 355.6 628.7 356.9 640.0 358.2 623.3 359.5 636.6 360.8 630.5 362.1 642.0 363.4 626.3 364.7 632.5 366.0 627.2 367.3 647.4 368.6 636.5 369.9 636.4 371.2 625.2 372.5 624.3 373.8 629.5 375.1 647.0 376.4 630.1 377.7 645.1 379.0 629.3 380.3 639.6 381.6 634.2 382.9 640.1 384.2 633.2 385.5 643.7 386.8 639.1 388.1 656.3 389.4 635.4 390.7 652.2 392.0 652.1 393.3 661.4 394.6 665.8 395.9 668.9 397.2 665.6 398.5 650.5 399.8 636.9 401.1 643.4 402.4 632.4 403.7 648.1 405.0 635.9 406.3 647.1 407.6 635.0 408.9 643.8 410.2 623.3 411.5 623.3 412.8 627.8 414.1 640.0 415.4 628.4 416.7 634.5 418.0 622.7 419.3 646.2 420.6 634.3 421.9 640.9 423.2 633.9 424.5 638.7 425.8 627.5 427.1 648.0 428.4 631.8 429.7 656.8 431.0 637.9 432.3 650.8 433.6 637.3 434.9 663.4 436.2 639.4 437.5 658.9 438.8 643.1 440.1 660.6 441.4 643.4 442.7 658.1 444.0 643.3 445.3 657.9 446.6 632.6 447.9 654.1 449.2 629.1 450.5 644.6 451.8 627.4 453.1 647.5 454.4 633.5 455.7 640.1 457.0 632.9 458.3 640.6 459.6 637.6 460.9 644.3 462.2 623.8 463.5 644.3 464.8 632.4 466.1 651.8 467.4 637.3 468.7 643.4 470.0 636.0 471.3 643.2 472.6 632.6 473.9 639.5 475.2 627.6 476.5 634.3 477.8 631.9 479.1 647.5 480.4 621.1 481.7 640.9 483.0 614.2 484.3 630.0 485.6 625.7 486.9 641.6 488.2 628.5 489.5 640.9 490.8 623.7 492.1 641.6 493.4 623.9 494.7 654.7 496.0 631.8 497.3 652.8 498.6 636.3 499.9 650.6 501.2 621.0 502.5 642.3 503.8 627.4 505.1 652.1 506.4 635.5 507.7 639.8 509.0 614.1 510.3 648.6 511.6 618.4 512.9 651.0 514.2 637.1 515.5 642.8 516.8 631.0 518.1 638.6 519.4 627.4 520.7 649.3 522.0 625.9 523.3 651.8 524.6 639.3 525.9 654.5 527.2 621.8 528.5 648.1 529.8 636.9 531.1 646.3 532.4 628.8 533.7 657.5 535.0 638.0 536.3 657.1 537.6 638.0 538.9 649.7 540.2 641.5 541.5 666.7 542.8 645.3 544.1 666.6 545.4 641.6 546.7 663.9 548.0 647.2 549.3 655.3 550.6 639.4 551.9 655.2 553.2 629.9 554.5 651.3 555.8 644.6 557.1 651.1 558.4 646.6 559.7 654.8 561.0 647.6 562.3 653.6 563.6 645.7 564.9 655.0 566.2 667.4 567.5 654.0 568.8 639.0 570.1 663.1 571.4 632.8 572.7 668.6 574.0 650.6 575.3 659.0 576.6 634.3 577.9 650.8 579.2 629.1 580.5 637.5 581.8 622.3 583.1 639.1 584.4 627.7 585.7 640.8 587.0 616.3 588.3 655.6 589.6 638.0 590.9 662.2 592.2 641.1 593.5 656.2" fill="none" stroke="#c4c4c4" stroke-width="1.9" stroke-linejoin="round"/>
<path d="M91.6 624.3 92.9 623.2 94.2 630.0 95.5 623.9 96.8 633.2 98.1 632.0 99.4 643.6 100.7 631.2 102.0 638.5 103.3 636.3 104.6 638.2 105.9 634.2 107.2 640.2 108.5 637.2 109.8 641.9 111.1 634.8 112.4 645.6 113.7 637.4 115.0 638.6 116.3 631.0 117.6 635.2 118.9 626.5 120.2 631.8 121.5 621.4 122.8 630.3 124.1 622.4 125.4 628.8 126.7 611.8 128.0 624.0 129.3 619.5 130.6 628.0 131.9 622.4 133.2 626.2 134.5 614.4 135.8 625.6 137.1 619.8 138.4 630.5 139.7 622.5 141.0 624.4 142.3 617.2 143.6 634.7 144.9 627.4 146.2 634.9 147.5 630.8 148.8 637.3 150.1 629.0 151.4 635.7 152.7 622.4 154.0 621.4 155.3 620.9 156.6 633.4 157.9 617.1 159.2 624.6 160.5 616.9 161.8 622.5 163.1 616.4 164.4 624.5 165.7 615.5 167.0 621.3 168.3 608.4 169.6 615.3 170.9 611.0 172.2 615.6 173.5 610.2 174.8 617.1 176.1 604.3 177.4 619.7 178.7 613.9 180.0 615.6 181.3 618.1 182.6 630.0 183.9 617.9 185.2 625.6 186.5 616.2 187.8 633.2 189.1 620.2 190.4 625.1 191.7 616.1 193.0 622.1 194.3 618.4 195.6 624.0 196.9 621.0 198.2 623.8 199.5 611.2 200.8 621.6 202.1 619.9 203.4 623.3 204.7 622.5 206.0 632.5 207.3 617.7 208.6 630.4 209.9 614.0 211.2 636.7 212.5 624.1 213.8 628.2 215.1 622.6 216.4 627.9 217.7 619.9 219.0 631.6 220.3 619.7 221.6 627.7 222.9 621.4 224.2 627.5 225.5 622.8 226.8 626.8 228.1 618.0 229.4 625.5 230.7 648.0 232.0 623.8 233.3 616.7 234.6 620.2 235.9 613.6 237.2 620.8 238.5 613.5 239.8 620.8 241.1 614.9 242.4 620.9 243.7 615.6 245.0 621.1 246.3 615.4 247.6 624.5 248.9 621.7 250.2 631.9 251.5 619.5 252.8 627.6 254.1 619.1 255.4 626.2 256.7 622.1 258.0 629.5 259.3 618.3 260.6 624.9 261.9 620.8 263.2 632.4 264.5 622.6 265.8 627.5 267.1 631.3 268.4 628.5 269.7 618.7 271.0 629.2 272.3 623.6 273.6 630.3 274.9 623.1 276.2 630.6 277.5 622.1 278.8 648.4 280.1 625.7 281.4 630.7 282.7 621.9 284.0 634.3 285.3 627.1 286.6 637.2 287.9 620.7 289.2 635.3 290.5 623.3 291.8 633.6 293.1 627.8 294.4 634.6 295.7 622.6 297.0 629.4 298.3 616.7 299.6 627.0 300.9 618.7 302.3 623.3 303.6 615.4 304.9 624.9 306.2 617.5 307.5 625.3 308.8 616.7 310.1 622.1 311.4 614.5 312.7 623.8 314.0 615.1 315.3 619.9 316.6 610.1 317.9 623.2 319.2 608.5 320.5 612.9 321.8 603.8 323.1 608.1 324.4 606.1 325.7 613.4 327.0 610.6 328.3 620.1 329.6 616.2 330.9 625.2 332.2 613.6 333.5 614.9 334.8 606.3 336.1 610.0 337.4 603.7 338.7 608.2 340.0 603.9 341.3 608.6 342.6 597.5 343.9 610.1 345.2 606.2 346.5 610.9 347.8 608.0 349.1 612.1 350.4 606.0 351.7 607.7 353.0 590.0 354.3 598.3 355.6 581.8 356.9 572.4 358.2 564.2 359.5 573.0 360.8 570.6 362.1 579.6 363.4 571.2 364.7 578.7 366.0 564.3 367.3 585.3 368.6 587.7 369.9 600.9 371.2 595.8 372.5 610.0 373.8 599.3 375.1 609.2 376.4 593.9 377.7 602.1 379.0 591.1 380.3 599.6 381.6 587.9 382.9 597.2 384.2 588.7 385.5 599.3 386.8 587.1 388.1 590.4 389.4 582.3 390.7 586.0 392.0 573.3 393.3 592.1 394.6 575.1 395.9 579.8 397.2 580.6 398.5 594.7 399.8 599.0 401.1 611.7 402.4 603.9 403.7 615.6 405.0 614.7 406.3 622.5 407.6 615.0 408.9 628.9 410.2 619.3 411.5 622.3 412.8 618.1 414.1 627.0 415.4 616.8 416.7 623.4 418.0 619.5 419.3 624.4 420.6 620.0 421.9 627.2 423.2 617.9 424.5 623.4 425.8 615.7 427.1 626.1 428.4 619.2 429.7 644.2 431.0 617.4 432.3 624.8 433.6 627.1 434.9 627.0 436.2 621.2 437.5 630.3 438.8 626.8 440.1 629.6 441.4 628.7 442.7 630.4 444.0 622.9 445.3 637.3 446.6 624.1 447.9 628.9 449.2 627.1 450.5 635.8 451.8 626.0 453.1 630.9 454.4 619.2 455.7 632.2 457.0 621.1 458.3 626.7 459.6 619.6 460.9 621.9 462.2 617.9 463.5 629.1 464.8 618.3 466.1 623.4 467.4 615.4 468.7 624.2 470.0 619.5 471.3 625.1 472.6 620.2 473.9 630.1 475.2 616.7 476.5 620.5 477.8 613.7 479.1 630.5 480.4 612.6 481.7 620.2 483.0 612.1 484.3 623.4 485.6 617.9 486.9 632.5 488.2 621.5 489.5 625.2 490.8 616.1 492.1 621.5 493.4 615.0 494.7 636.9 496.0 611.2 497.3 618.7 498.6 610.1 499.9 626.6 501.2 606.3 502.5 617.5 503.8 612.2 505.1 620.1 506.4 618.4 507.7 627.8 509.0 622.8 510.3 629.0 511.6 619.0 512.9 632.7 514.2 627.3 515.5 634.1 516.8 624.8 518.1 633.5 519.4 617.0 520.7 617.4 522.0 608.8 523.3 617.6 524.6 607.6 525.9 615.1 527.2 608.9 528.5 618.2 529.8 611.5 531.1 621.5 532.4 613.3 533.7 622.7 535.0 626.0 536.3 631.2 537.6 610.4 538.9 619.0 540.2 618.9 541.5 636.2 542.8 613.9 544.1 628.7 545.4 621.4 546.7 634.4 548.0 625.1 549.3 632.1 550.6 624.5 551.9 631.5 553.2 616.9 554.5 623.2 555.8 609.4 557.1 610.9 558.4 601.7 559.7 604.3 561.0 590.9 562.3 608.1 563.6 601.2 564.9 615.1 566.2 602.6 567.5 611.4 568.8 608.8 570.1 621.1 571.4 604.3 572.7 619.3 574.0 614.5 575.3 623.4 576.6 612.8 577.9 624.4 579.2 605.1 580.5 622.2 581.8 604.7 583.1 585.2 584.4 606.2 585.7 613.9 587.0 598.0 588.3 606.6 589.6 599.8 590.9 607.9 592.2 617.2 593.5 639.1" fill="none" stroke="#000" stroke-width="2.1" stroke-linejoin="round"/>
<line x1="351.9" y1="761.4" x2="351.9" y2="484.7" stroke="#5f9478" stroke-width="1.5"/>
<rect x="351.9" y="752.9" width="173.6" height="8.5" fill="#23904a"/>
<path d="M91.2 422.7V761.4H617.0" fill="none" stroke="#3a3a3a" stroke-width="1.4"/>
<line x1="87.4" y1="761.4" x2="91.2" y2="761.4" stroke="#3a3a3a" stroke-width="1.4"/>
<text x="0" y="0" transform="translate(83.4,767.0) scale(0.80,1)" text-anchor="end" font-size="14">0.0</text>
<line x1="87.4" y1="704.9" x2="91.2" y2="704.9" stroke="#3a3a3a" stroke-width="1.4"/>
<text x="0" y="0" transform="translate(83.4,710.5) scale(0.80,1)" text-anchor="end" font-size="14">0.2</text>
<line x1="87.4" y1="648.5" x2="91.2" y2="648.5" stroke="#3a3a3a" stroke-width="1.4"/>
<text x="0" y="0" transform="translate(83.4,654.1) scale(0.80,1)" text-anchor="end" font-size="14">0.4</text>
<line x1="87.4" y1="592.0" x2="91.2" y2="592.0" stroke="#3a3a3a" stroke-width="1.4"/>
<text x="0" y="0" transform="translate(83.4,597.6) scale(0.80,1)" text-anchor="end" font-size="14">0.6</text>
<line x1="87.4" y1="535.6" x2="91.2" y2="535.6" stroke="#3a3a3a" stroke-width="1.4"/>
<text x="0" y="0" transform="translate(83.4,541.2) scale(0.80,1)" text-anchor="end" font-size="14">0.8</text>
<line x1="87.4" y1="479.1" x2="91.2" y2="479.1" stroke="#3a3a3a" stroke-width="1.4"/>
<text x="0" y="0" transform="translate(83.4,484.8) scale(0.80,1)" text-anchor="end" font-size="14">1.0</text>
<line x1="87.4" y1="422.7" x2="91.2" y2="422.7" stroke="#3a3a3a" stroke-width="1.4"/>
<text x="0" y="0" transform="translate(83.4,428.3) scale(0.80,1)" text-anchor="end" font-size="14">1.2</text>
<line x1="119.8" y1="761.4" x2="119.8" y2="766.4" stroke="#3a3a3a" stroke-width="1.4"/>
<text x="0" y="0" transform="translate(119.8,782.4) scale(0.794,1)" text-anchor="middle" font-size="14">−40</text>
<line x1="178.3" y1="761.4" x2="178.3" y2="766.4" stroke="#3a3a3a" stroke-width="1.4"/>
<text x="0" y="0" transform="translate(178.3,782.4) scale(0.794,1)" text-anchor="middle" font-size="14">−30</text>
<line x1="236.8" y1="761.4" x2="236.8" y2="766.4" stroke="#3a3a3a" stroke-width="1.4"/>
<text x="0" y="0" transform="translate(236.8,782.4) scale(0.794,1)" text-anchor="middle" font-size="14">−20</text>
<line x1="295.3" y1="761.4" x2="295.3" y2="766.4" stroke="#3a3a3a" stroke-width="1.4"/>
<text x="0" y="0" transform="translate(295.3,782.4) scale(0.794,1)" text-anchor="middle" font-size="14">−10</text>
<line x1="353.8" y1="761.4" x2="353.8" y2="766.4" stroke="#3a3a3a" stroke-width="1.4"/>
<text x="0" y="0" transform="translate(353.8,782.4) scale(0.794,1)" text-anchor="middle" font-size="14">0</text>
<line x1="412.3" y1="761.4" x2="412.3" y2="766.4" stroke="#3a3a3a" stroke-width="1.4"/>
<text x="0" y="0" transform="translate(412.3,782.4) scale(0.794,1)" text-anchor="middle" font-size="14">10</text>
<line x1="470.8" y1="761.4" x2="470.8" y2="766.4" stroke="#3a3a3a" stroke-width="1.4"/>
<text x="0" y="0" transform="translate(470.8,782.4) scale(0.794,1)" text-anchor="middle" font-size="14">20</text>
<line x1="529.3" y1="761.4" x2="529.3" y2="766.4" stroke="#3a3a3a" stroke-width="1.4"/>
<text x="0" y="0" transform="translate(529.3,782.4) scale(0.794,1)" text-anchor="middle" font-size="14">30</text>
<line x1="587.8" y1="761.4" x2="587.8" y2="766.4" stroke="#3a3a3a" stroke-width="1.4"/>
<text x="0" y="0" transform="translate(587.8,782.4) scale(0.794,1)" text-anchor="middle" font-size="14">40</text>
<text class="ti" transform="translate(363.9,454.9) scale(1,1.02)" text-anchor="middle">Noon, Once</text>
<path d="M665.4 612.6 666.7 603.2 668.0 601.7 669.3 595.6 670.6 594.5 671.9 582.5 673.2 577.6 674.5 564.2 675.8 578.6 677.1 582.8 678.4 590.9 679.7 584.7 681.0 601.5 682.3 585.1 683.6 595.3 684.9 591.9 686.2 599.6 687.5 584.8 688.8 546.3 690.1 587.8 691.4 616.4 692.7 590.7 694.0 605.5 695.3 587.9 696.6 600.3 697.9 589.8 699.2 597.1 700.5 591.1 701.8 597.5 703.1 591.6 704.4 593.5 705.7 587.7 707.0 597.4 708.3 584.2 709.6 596.5 710.9 588.4 712.2 595.0 713.5 584.7 714.9 596.4 716.2 586.3 717.5 593.8 718.8 588.5 720.1 608.4 721.4 589.4 722.7 598.2 724.0 584.3 725.3 603.9 726.6 589.4 727.9 592.3 729.2 586.4 730.5 590.6 731.8 584.1 733.1 591.0 734.4 580.1 735.7 590.0 737.0 583.5 738.3 587.1 739.6 589.7 740.9 586.3 742.2 580.4 743.5 584.8 744.8 581.7 746.1 585.1 747.4 572.8 748.7 589.6 750.0 580.7 751.3 576.9 752.6 564.2 753.9 577.9 755.2 589.5 756.5 595.0 757.8 588.0 759.1 593.1 760.4 586.3 761.7 596.3 763.0 594.2 764.3 601.6 765.6 585.8 766.9 596.0 768.2 588.3 769.5 582.1 770.8 567.2 772.1 583.2 773.4 588.2 774.7 596.8 776.0 577.4 777.3 598.3 778.6 589.2 779.9 597.0 781.2 585.9 782.5 599.0 783.8 591.9 785.1 584.5 786.4 587.2 787.7 595.4 789.1 582.3 790.4 591.3 791.7 583.4 793.0 586.9 794.3 580.2 795.6 589.4 796.9 581.3 798.2 598.4 799.5 581.8 800.8 587.5 802.1 583.5 803.4 589.7 804.7 574.4 806.0 591.7 807.3 584.4 808.6 589.1 809.9 586.7 811.2 595.8 812.5 582.9 813.8 589.4 815.1 582.9 816.4 589.4 817.7 576.9 819.0 592.1 820.3 575.6 821.6 595.2 822.9 585.1 824.2 589.1 825.5 574.5 826.8 590.7 828.1 575.2 829.4 581.9 830.7 568.9 832.0 571.5 833.3 559.6 834.6 577.7 835.9 556.6 837.2 576.3 838.5 566.9 839.8 582.0 841.1 573.4 842.4 585.9 843.7 576.6 845.0 582.5 846.3 575.8 847.6 588.3 848.9 580.9 850.2 588.6 851.5 581.5 852.8 588.3 854.1 584.8 855.4 587.2 856.7 578.8 858.0 587.7 859.3 579.0 860.6 583.5 861.9 571.8 863.3 558.2 864.6 572.8 865.9 580.3 867.2 577.7 868.5 583.2 869.8 572.3 871.1 577.4 872.4 569.4 873.7 582.9 875.0 572.3 876.3 579.8 877.6 569.0 878.9 578.5 880.2 575.3 881.5 587.4 882.8 575.2 884.1 580.3 885.4 571.5 886.7 571.4 888.0 565.8 889.3 566.9 890.6 562.5 891.9 545.1 893.2 531.3 894.5 546.2 895.8 552.7 897.1 562.2 898.4 533.1 899.7 557.7 901.0 545.5 902.3 555.6 903.6 541.7 904.9 551.3 906.2 545.5 907.5 553.1 908.8 545.3 910.1 555.5 911.4 551.5 912.7 569.1 914.0 551.6 915.3 559.5 916.6 554.3 917.9 559.3 919.2 556.9 920.5 560.4 921.8 550.7 923.1 550.8 924.4 538.4 925.7 538.4 927.0 527.6 928.3 529.7 929.6 527.3 930.9 540.1 932.2 533.5 933.5 538.8 934.8 529.3 936.1 545.7 937.5 535.7 938.8 547.5 940.1 542.5 941.4 556.7 942.7 549.9 944.0 560.6 945.3 554.5 946.6 564.4 947.9 550.8 949.2 566.9 950.5 553.5 951.8 560.8 953.1 546.3 954.4 560.7 955.7 554.9 957.0 561.2 958.3 557.6 959.6 565.2 960.9 548.7 962.2 563.5 963.5 558.6 964.8 565.5 966.1 560.9 967.4 570.7 968.7 560.5 970.0 572.3 971.3 556.8 972.6 577.6 973.9 564.1 975.2 574.8 976.5 570.0 977.8 577.8 979.1 569.3 980.4 580.5 981.7 569.0 983.0 546.3 984.3 570.8 985.6 584.3 986.9 578.2 988.2 583.1 989.5 587.3 990.8 584.1 992.1 561.9 993.4 589.3 994.7 578.7 996.0 589.5 997.3 582.9 998.6 585.9 999.9 581.8 1001.2 587.5 1002.5 582.1 1003.8 595.6 1005.1 573.1 1006.4 550.8 1007.7 574.9 1009.0 587.0 1010.3 567.5 1011.7 580.7 1013.0 565.7 1014.3 574.0 1015.6 572.6 1016.9 573.2 1018.2 565.5 1019.5 569.6 1020.8 561.4 1022.1 552.3 1023.4 561.5 1024.7 569.1 1026.0 554.0 1027.3 570.7 1028.6 567.4 1029.9 570.8 1031.2 566.0 1032.5 572.9 1033.8 569.1 1035.1 562.2 1036.4 553.8 1037.7 562.9 1039.0 565.7 1040.3 572.9 1041.6 562.1 1042.9 568.3 1044.2 550.5 1045.5 571.7 1046.8 555.6 1048.1 565.5 1049.4 560.5 1050.7 570.5 1052.0 558.8 1053.3 569.4 1054.6 560.3 1055.9 565.4 1057.2 556.9 1058.5 548.4 1059.8 534.3 1061.1 549.5 1062.4 556.8 1063.7 558.9 1065.0 551.8 1066.3 564.0 1067.6 549.6 1068.9 562.5 1070.2 553.9 1071.5 564.9 1072.8 561.1 1074.1 570.1 1075.4 567.5 1076.7 573.0 1078.0 568.3 1079.3 574.2 1080.6 568.9 1081.9 582.5 1083.2 575.2 1084.5 579.6 1085.9 578.2 1087.2 589.4 1088.5 574.9 1089.8 585.8 1091.1 576.4 1092.4 584.2 1093.7 572.7 1095.0 575.8 1096.3 566.4 1097.6 570.7 1098.9 559.4 1100.2 563.8 1101.5 551.5 1102.8 567.4 1104.1 563.5 1105.4 573.4 1106.7 563.8 1108.0 573.6 1109.3 570.6 1110.6 578.4 1111.9 569.0 1113.2 578.3 1114.5 575.8 1115.8 582.0 1117.1 575.7 1118.4 586.2 1119.7 587.4 1121.0 593.9 1122.3 590.4 1123.6 606.3 1124.9 598.3 1126.2 612.0 1127.5 600.5 1128.8 607.4 1130.1 601.9 1131.4 612.9 1132.7 601.7 1134.0 609.8 1135.3 598.3 1136.6 602.1 1137.9 595.1 1139.2 605.3 1140.5 598.2 1141.8 609.7 1143.1 599.4 1144.4 608.0 1145.7 597.5 1147.0 605.0 1148.3 601.8 1149.6 608.3 1150.9 603.6 1152.2 606.8 1153.5 605.7 1154.8 608.3 1156.1 605.8 1157.4 615.3 1158.7 607.7 1160.1 610.4 1161.4 613.3 1162.7 613.8 1164.0 609.0 1165.3 614.0 1166.6 611.4 1167.9 617.1 1169.2 603.6 1170.5 612.2 1171.8 601.9 1173.1 617.1 1174.4 605.9 1175.7 616.0 1177.0 613.6 1178.3 620.7 1179.6 611.9 1180.9 620.7 1182.2 618.2 1183.5 622.3" fill="none" stroke="#c4c4c4" stroke-width="1.9" stroke-linejoin="round"/>
<path d="M665.4 664.2 666.7 643.9 668.0 649.8 669.3 644.6 670.6 652.4 671.9 642.4 673.2 653.3 674.5 642.3 675.8 654.4 677.1 652.0 678.4 658.3 679.7 654.3 681.0 663.0 682.3 651.8 683.6 671.8 684.9 653.6 686.2 667.6 687.5 666.3 688.8 667.4 690.1 666.2 691.4 660.9 692.7 642.7 694.0 648.3 695.3 639.4 696.6 648.4 697.9 636.0 699.2 644.2 700.5 639.2 701.8 645.3 703.1 635.0 704.4 650.4 705.7 642.4 707.0 656.4 708.3 639.6 709.6 656.7 710.9 653.8 712.2 655.1 713.5 646.5 714.9 651.7 716.2 644.3 717.5 628.0 718.8 641.6 720.1 654.1 721.4 643.4 722.7 649.3 724.0 662.9 725.3 655.7 726.6 635.3 727.9 647.2 729.2 640.5 730.5 646.0 731.8 635.6 733.1 646.4 734.4 639.3 735.7 643.5 737.0 629.8 738.3 647.7 739.6 639.0 740.9 648.7 742.2 640.7 743.5 648.8 744.8 639.8 746.1 653.2 747.4 640.6 748.7 652.7 750.0 643.3 751.3 646.9 752.6 642.5 753.9 647.1 755.2 639.1 756.5 646.8 757.8 639.7 759.1 645.4 760.4 640.4 761.7 650.7 763.0 637.9 764.3 648.9 765.6 654.0 766.9 643.6 768.2 639.9 769.5 649.9 770.8 642.7 772.1 649.5 773.4 642.8 774.7 646.4 776.0 637.4 777.3 647.4 778.6 635.7 779.9 641.0 781.2 637.7 782.5 643.0 783.8 635.2 785.1 649.5 786.4 640.6 787.7 646.7 789.1 645.4 790.4 653.7 791.7 654.1 793.0 653.3 794.3 639.6 795.6 651.8 796.9 651.6 798.2 649.6 799.5 652.9 800.8 649.9 802.1 635.3 803.4 653.2 804.7 643.2 806.0 649.6 807.3 647.1 808.6 652.2 809.9 645.3 811.2 650.8 812.5 647.4 813.8 653.1 815.1 643.9 816.4 654.3 817.7 646.8 819.0 651.2 820.3 641.8 821.6 650.7 822.9 638.4 824.2 649.2 825.5 646.4 826.8 651.3 828.1 642.2 829.4 654.8 830.7 647.9 832.0 660.3 833.3 673.4 834.6 659.3 835.9 649.9 837.2 661.5 838.5 649.6 839.8 667.9 841.1 649.4 842.4 662.7 843.7 648.8 845.0 668.7 846.3 656.0 847.6 660.9 848.9 652.6 850.2 660.3 851.5 653.3 852.8 659.7 854.1 652.4 855.4 664.0 856.7 650.7 858.0 659.2 859.3 654.7 860.6 657.2 861.9 649.3 863.3 658.4 864.6 647.1 865.9 657.7 867.2 649.5 868.5 655.6 869.8 644.3 871.1 658.3 872.4 648.0 873.7 651.0 875.0 645.5 876.3 654.2 877.6 648.1 878.9 651.5 880.2 645.9 881.5 654.9 882.8 643.6 884.1 656.9 885.4 632.4 886.7 656.9 888.0 643.1 889.3 654.9 890.6 641.5 891.9 652.4 893.2 641.0 894.5 647.5 895.8 640.0 897.1 646.2 898.4 637.7 899.7 643.2 901.0 638.0 902.3 643.7 903.6 632.8 904.9 641.9 906.2 637.9 907.5 651.1 908.8 637.6 910.1 646.5 911.4 635.7 912.7 649.0 914.0 638.0 915.3 643.2 916.6 637.6 917.9 642.0 919.2 640.6 920.5 652.5 921.8 641.5 923.1 647.7 924.4 641.0 925.7 642.7 927.0 630.2 928.3 639.1 929.6 626.1 930.9 641.3 932.2 632.4 933.5 644.0 934.8 636.7 936.1 645.2 937.5 638.6 938.8 644.2 940.1 639.1 941.4 637.9 942.7 641.7 944.0 654.5 945.3 642.9 946.6 651.0 947.9 638.3 949.2 652.3 950.5 643.4 951.8 661.8 953.1 645.1 954.4 649.4 955.7 639.6 957.0 646.7 958.3 639.8 959.6 648.4 960.9 632.0 962.2 645.4 963.5 640.1 964.8 652.6 966.1 640.5 967.4 654.1 968.7 658.4 970.0 653.8 971.3 632.3 972.6 646.6 973.9 635.1 975.2 646.6 976.5 634.1 977.8 664.7 979.1 637.0 980.4 643.1 981.7 639.7 983.0 648.5 984.3 636.1 985.6 645.6 986.9 637.8 988.2 645.9 989.5 642.3 990.8 646.3 992.1 641.0 993.4 649.8 994.7 637.1 996.0 646.4 997.3 639.2 998.6 648.6 999.9 642.0 1001.2 649.2 1002.5 640.1 1003.8 650.5 1005.1 640.4 1006.4 644.8 1007.7 640.6 1009.0 644.8 1010.3 633.7 1011.7 644.4 1013.0 632.2 1014.3 640.0 1015.6 630.4 1016.9 636.2 1018.2 627.3 1019.5 635.6 1020.8 621.6 1022.1 636.7 1023.4 630.6 1024.7 641.5 1026.0 638.5 1027.3 645.5 1028.6 642.4 1029.9 652.2 1031.2 641.0 1032.5 648.8 1033.8 642.9 1035.1 652.1 1036.4 644.5 1037.7 653.6 1039.0 642.7 1040.3 658.4 1041.6 653.2 1042.9 641.5 1044.2 651.7 1045.5 648.3 1046.8 653.3 1048.1 657.5 1049.4 652.3 1050.7 658.8 1052.0 645.2 1053.3 653.7 1054.6 644.7 1055.9 652.2 1057.2 645.0 1058.5 653.9 1059.8 646.8 1061.1 650.2 1062.4 647.5 1063.7 648.7 1065.0 642.8 1066.3 653.0 1067.6 650.3 1068.9 654.9 1070.2 649.9 1071.5 653.9 1072.8 649.3 1074.1 657.0 1075.4 647.1 1076.7 659.2 1078.0 643.5 1079.3 663.0 1080.6 664.7 1081.9 664.3 1083.2 668.9 1084.5 663.9 1085.9 664.0 1087.2 663.8 1088.5 657.6 1089.8 663.3 1091.1 645.6 1092.4 650.2 1093.7 638.0 1095.0 669.6 1096.3 643.1 1097.6 649.4 1098.9 644.5 1100.2 653.6 1101.5 641.4 1102.8 647.1 1104.1 642.4 1105.4 647.9 1106.7 639.4 1108.0 653.3 1109.3 639.4 1110.6 641.6 1111.9 637.4 1113.2 641.1 1114.5 630.3 1115.8 644.7 1117.1 631.9 1118.4 651.3 1119.7 632.9 1121.0 647.4 1122.3 641.0 1123.6 650.8 1124.9 639.9 1126.2 648.2 1127.5 640.6 1128.8 652.3 1130.1 645.3 1131.4 653.2 1132.7 649.5 1134.0 653.6 1135.3 649.4 1136.6 657.1 1137.9 647.7 1139.2 668.6 1140.5 652.0 1141.8 658.0 1143.1 653.7 1144.4 661.6 1145.7 652.2 1147.0 657.9 1148.3 648.9 1149.6 658.3 1150.9 655.3 1152.2 647.8 1153.5 650.1 1154.8 653.9 1156.1 651.1 1157.4 651.7 1158.7 647.3 1160.1 654.5 1161.4 652.8 1162.7 651.3 1164.0 646.4 1165.3 652.1 1166.6 647.2 1167.9 662.8 1169.2 641.9 1170.5 654.0 1171.8 645.7 1173.1 657.3 1174.4 633.1 1175.7 653.3 1177.0 643.2 1178.3 651.6 1179.6 637.2 1180.9 654.5 1182.2 647.7 1183.5 651.5" fill="none" stroke="#c4c4c4" stroke-width="1.9" stroke-linejoin="round"/>
<path d="M665.4 635.7 666.7 616.3 668.0 613.5 669.3 615.1 670.6 613.4 671.9 610.5 673.2 616.5 674.5 608.3 675.8 611.6 677.1 609.4 678.4 616.7 679.7 612.1 681.0 620.5 682.3 617.4 683.6 620.9 684.9 618.2 686.2 622.4 687.5 620.1 688.8 606.1 690.1 621.2 691.4 622.9 692.7 616.7 694.0 623.1 695.3 615.2 696.6 621.4 697.9 621.2 699.2 623.0 700.5 620.2 701.8 624.9 703.1 623.1 704.4 625.4 705.7 620.1 707.0 625.6 708.3 619.1 709.6 624.1 710.9 614.8 712.2 621.3 713.5 618.0 714.9 621.8 716.2 616.7 717.5 626.9 718.8 619.3 720.1 627.2 721.4 622.8 722.7 622.9 724.0 617.3 725.3 624.7 726.6 614.9 727.9 620.4 729.2 616.5 730.5 620.1 731.8 616.9 733.1 623.5 734.4 614.1 735.7 618.3 737.0 614.1 738.3 616.7 739.6 607.4 740.9 614.0 742.2 611.4 743.5 615.8 744.8 615.3 746.1 619.5 747.4 614.5 748.7 625.1 750.0 615.3 751.3 614.5 752.6 606.1 753.9 615.1 755.2 617.0 756.5 622.9 757.8 619.3 759.1 624.3 760.4 619.3 761.7 621.1 763.0 615.5 764.3 621.7 765.6 616.3 766.9 621.4 768.2 618.7 769.5 622.3 770.8 613.8 772.1 623.8 773.4 612.5 774.7 619.1 776.0 616.4 777.3 619.9 778.6 609.3 779.9 618.2 781.2 615.7 782.5 622.9 783.8 615.4 785.1 621.7 786.4 617.7 787.7 620.3 789.1 620.0 790.4 625.9 791.7 620.7 793.0 628.9 794.3 609.8 795.6 623.6 796.9 617.4 798.2 618.8 799.5 618.3 800.8 624.9 802.1 618.9 803.4 619.4 804.7 617.0 806.0 625.4 807.3 621.1 808.6 623.9 809.9 620.7 811.2 626.7 812.5 618.1 813.8 619.3 815.1 615.5 816.4 619.6 817.7 617.2 819.0 618.2 820.3 613.0 821.6 625.1 822.9 612.5 824.2 617.4 825.5 612.6 826.8 620.4 828.1 615.6 829.4 617.5 830.7 613.5 832.0 613.6 833.3 615.6 834.6 618.4 835.9 611.8 837.2 616.3 838.5 616.1 839.8 620.2 841.1 613.8 842.4 622.6 843.7 615.6 845.0 622.2 846.3 616.1 847.6 624.7 848.9 623.9 850.2 632.0 851.5 624.8 852.8 630.2 854.1 625.4 855.4 632.7 856.7 628.1 858.0 631.2 859.3 625.7 860.6 628.4 861.9 625.0 863.3 625.6 864.6 623.9 865.9 624.7 867.2 617.7 868.5 623.8 869.8 621.3 871.1 622.5 872.4 621.1 873.7 624.7 875.0 618.4 876.3 622.0 877.6 616.3 878.9 620.6 880.2 614.7 881.5 616.2 882.8 607.7 884.1 614.7 885.4 606.9 886.7 613.8 888.0 602.2 889.3 607.0 890.6 597.7 891.9 602.4 893.2 599.3 894.5 600.3 895.8 592.7 897.1 596.9 898.4 593.3 899.7 595.2 901.0 587.9 902.3 598.1 903.6 591.2 904.9 595.3 906.2 586.8 907.5 600.4 908.8 591.8 910.1 604.0 911.4 596.5 912.7 601.9 914.0 597.9 915.3 603.7 916.6 597.1 917.9 599.9 919.2 593.0 920.5 597.2 921.8 582.0 923.1 584.9 924.4 576.7 925.7 564.2 927.0 577.7 928.3 583.2 929.6 581.9 930.9 585.1 932.2 584.8 933.5 591.0 934.8 589.7 936.1 593.9 937.5 593.3 938.8 599.7 940.1 595.4 941.4 601.4 942.7 596.7 944.0 603.9 945.3 601.8 946.6 607.5 947.9 605.7 949.2 611.5 950.5 604.7 951.8 607.0 953.1 603.4 954.4 611.4 955.7 602.5 957.0 607.0 958.3 600.7 959.6 608.5 960.9 597.3 962.2 604.2 963.5 600.6 964.8 616.1 966.1 602.9 967.4 610.5 968.7 599.4 970.0 606.1 971.3 601.0 972.6 608.1 973.9 602.4 975.2 607.1 976.5 603.7 977.8 607.2 979.1 602.4 980.4 610.7 981.7 605.5 983.0 609.7 984.3 606.3 985.6 614.0 986.9 604.3 988.2 617.2 989.5 610.7 990.8 617.5 992.1 614.5 993.4 617.0 994.7 612.6 996.0 615.1 997.3 612.7 998.6 617.1 999.9 613.5 1001.2 618.4 1002.5 610.5 1003.8 614.7 1005.1 609.3 1006.4 615.6 1007.7 610.4 1009.0 625.4 1010.3 610.9 1011.7 619.5 1013.0 615.9 1014.3 622.1 1015.6 611.3 1016.9 616.3 1018.2 609.1 1019.5 597.1 1020.8 610.1 1022.1 614.3 1023.4 606.8 1024.7 618.4 1026.0 602.1 1027.3 612.4 1028.6 608.1 1029.9 610.9 1031.2 607.0 1032.5 610.2 1033.8 606.5 1035.1 611.5 1036.4 608.6 1037.7 613.7 1039.0 608.6 1040.3 616.2 1041.6 611.5 1042.9 613.9 1044.2 606.5 1045.5 610.6 1046.8 607.5 1048.1 612.7 1049.4 605.7 1050.7 606.8 1052.0 603.7 1053.3 605.1 1054.6 603.1 1055.9 607.4 1057.2 602.0 1058.5 607.4 1059.8 601.0 1061.1 604.7 1062.4 600.0 1063.7 602.4 1065.0 597.3 1066.3 607.6 1067.6 604.4 1068.9 610.5 1070.2 608.0 1071.5 611.8 1072.8 609.1 1074.1 616.7 1075.4 610.1 1076.7 618.6 1078.0 616.1 1079.3 620.2 1080.6 614.6 1081.9 626.3 1083.2 622.4 1084.5 623.9 1085.9 612.4 1087.2 625.3 1088.5 621.3 1089.8 622.3 1091.1 618.0 1092.4 621.2 1093.7 611.5 1095.0 621.7 1096.3 609.1 1097.6 614.1 1098.9 607.9 1100.2 617.2 1101.5 598.7 1102.8 612.8 1104.1 610.1 1105.4 617.6 1106.7 613.6 1108.0 621.1 1109.3 617.2 1110.6 623.8 1111.9 615.9 1113.2 622.6 1114.5 618.7 1115.8 627.4 1117.1 624.0 1118.4 627.3 1119.7 623.4 1121.0 625.4 1122.3 619.0 1123.6 625.2 1124.9 622.2 1126.2 627.1 1127.5 620.3 1128.8 626.6 1130.1 622.2 1131.4 625.1 1132.7 622.2 1134.0 625.9 1135.3 622.3 1136.6 632.5 1137.9 623.9 1139.2 637.7 1140.5 626.0 1141.8 634.8 1143.1 631.5 1144.4 637.1 1145.7 627.5 1147.0 638.2 1148.3 632.2 1149.6 642.8 1150.9 630.3 1152.2 639.2 1153.5 635.1 1154.8 636.9 1156.1 634.7 1157.4 636.1 1158.7 630.6 1160.1 636.4 1161.4 629.8 1162.7 640.0 1164.0 632.2 1165.3 631.8 1166.6 626.3 1167.9 637.4 1169.2 634.5 1170.5 642.5 1171.8 633.1 1173.1 640.0 1174.4 634.8 1175.7 638.6 1177.0 635.8 1178.3 637.4 1179.6 632.0 1180.9 640.5 1182.2 629.9 1183.5 636.1" fill="none" stroke="#000" stroke-width="2.1" stroke-linejoin="round"/>
<line x1="924.8" y1="757.5" x2="924.8" y2="481.8" stroke="#3a8a62" stroke-width="1.4"/>
<rect x="924.8" y="749.2" width="86.6" height="8.2" fill="#23904a"/>
<path d="M664.6 427.5V757.5H1184.8" fill="none" stroke="#3a3a3a" stroke-width="1.4"/>
<line x1="660.8" y1="757.5" x2="664.6" y2="757.5" stroke="#3a3a3a" stroke-width="1.4"/>
<text x="0" y="0" transform="translate(656.8,763.1) scale(0.80,1)" text-anchor="end" font-size="14">0.0</text>
<line x1="660.8" y1="702.5" x2="664.6" y2="702.5" stroke="#3a3a3a" stroke-width="1.4"/>
<text x="0" y="0" transform="translate(656.8,708.1) scale(0.80,1)" text-anchor="end" font-size="14">0.2</text>
<line x1="660.8" y1="647.5" x2="664.6" y2="647.5" stroke="#3a3a3a" stroke-width="1.4"/>
<text x="0" y="0" transform="translate(656.8,653.1) scale(0.80,1)" text-anchor="end" font-size="14">0.4</text>
<line x1="660.8" y1="592.5" x2="664.6" y2="592.5" stroke="#3a3a3a" stroke-width="1.4"/>
<text x="0" y="0" transform="translate(656.8,598.1) scale(0.80,1)" text-anchor="end" font-size="14">0.6</text>
<line x1="660.8" y1="537.5" x2="664.6" y2="537.5" stroke="#3a3a3a" stroke-width="1.4"/>
<text x="0" y="0" transform="translate(656.8,543.1) scale(0.80,1)" text-anchor="end" font-size="14">0.8</text>
<line x1="660.8" y1="482.5" x2="664.6" y2="482.5" stroke="#3a3a3a" stroke-width="1.4"/>
<text x="0" y="0" transform="translate(656.8,488.1) scale(0.80,1)" text-anchor="end" font-size="14">1.0</text>
<line x1="660.8" y1="427.5" x2="664.6" y2="427.5" stroke="#3a3a3a" stroke-width="1.4"/>
<text x="0" y="0" transform="translate(656.8,433.1) scale(0.80,1)" text-anchor="end" font-size="14">1.2</text>
<line x1="693.3" y1="757.5" x2="693.3" y2="762.5" stroke="#3a3a3a" stroke-width="1.4"/>
<text x="0" y="0" transform="translate(693.3,778.5) scale(0.794,1)" text-anchor="middle" font-size="14">−40</text>
<line x1="751.1" y1="757.5" x2="751.1" y2="762.5" stroke="#3a3a3a" stroke-width="1.4"/>
<text x="0" y="0" transform="translate(751.1,778.5) scale(0.794,1)" text-anchor="middle" font-size="14">−30</text>
<line x1="808.9" y1="757.5" x2="808.9" y2="762.5" stroke="#3a3a3a" stroke-width="1.4"/>
<text x="0" y="0" transform="translate(808.9,778.5) scale(0.794,1)" text-anchor="middle" font-size="14">−20</text>
<line x1="866.8" y1="757.5" x2="866.8" y2="762.5" stroke="#3a3a3a" stroke-width="1.4"/>
<text x="0" y="0" transform="translate(866.8,778.5) scale(0.794,1)" text-anchor="middle" font-size="14">−10</text>
<line x1="924.6" y1="757.5" x2="924.6" y2="762.5" stroke="#3a3a3a" stroke-width="1.4"/>
<text x="0" y="0" transform="translate(924.6,778.5) scale(0.794,1)" text-anchor="middle" font-size="14">0</text>
<line x1="982.4" y1="757.5" x2="982.4" y2="762.5" stroke="#3a3a3a" stroke-width="1.4"/>
<text x="0" y="0" transform="translate(982.4,778.5) scale(0.794,1)" text-anchor="middle" font-size="14">10</text>
<line x1="1040.3" y1="757.5" x2="1040.3" y2="762.5" stroke="#3a3a3a" stroke-width="1.4"/>
<text x="0" y="0" transform="translate(1040.3,778.5) scale(0.794,1)" text-anchor="middle" font-size="14">20</text>
<line x1="1098.1" y1="757.5" x2="1098.1" y2="762.5" stroke="#3a3a3a" stroke-width="1.4"/>
<text x="0" y="0" transform="translate(1098.1,778.5) scale(0.794,1)" text-anchor="middle" font-size="14">30</text>
<line x1="1155.9" y1="757.5" x2="1155.9" y2="762.5" stroke="#3a3a3a" stroke-width="1.4"/>
<text x="0" y="0" transform="translate(1155.9,778.5) scale(0.794,1)" text-anchor="middle" font-size="14">40</text>
<text class="ti" transform="translate(924.8,456.3) scale(1,1.02)" text-anchor="middle">Noon, Twice</text>
<path d="M1236.5 560.1 1237.8 559.3 1239.1 574.0 1240.4 570.4 1241.7 583.7 1243.0 578.4 1244.3 582.4 1245.6 579.4 1246.9 587.3 1248.2 579.8 1249.5 587.3 1250.8 581.5 1252.1 590.9 1253.4 581.9 1254.7 584.4 1256.0 574.1 1257.3 583.9 1258.6 573.9 1259.9 586.0 1261.2 576.3 1262.5 584.3 1263.8 572.1 1265.1 580.4 1266.4 571.5 1267.7 579.3 1269.0 572.3 1270.3 579.2 1271.6 573.2 1272.9 577.2 1274.2 573.4 1275.5 580.0 1276.8 573.4 1278.1 565.8 1279.4 573.4 1280.7 577.7 1282.0 572.3 1283.3 577.8 1284.6 554.4 1285.9 576.0 1287.2 571.8 1288.5 577.1 1289.8 572.5 1291.1 581.9 1292.4 576.0 1293.7 568.8 1295.0 561.2 1296.3 569.3 1297.6 569.0 1298.9 583.6 1300.2 572.7 1301.5 583.5 1302.8 576.0 1304.2 576.9 1305.5 573.3 1306.8 580.1 1308.1 568.1 1309.4 578.2 1310.7 568.8 1312.0 574.1 1313.3 570.7 1314.6 572.1 1315.9 563.6 1317.2 575.8 1318.5 563.9 1319.8 576.9 1321.1 566.3 1322.4 572.4 1323.7 564.1 1325.0 577.0 1326.3 573.0 1327.6 582.5 1328.9 573.2 1330.2 586.7 1331.5 578.2 1332.8 581.5 1334.1 576.4 1335.4 585.5 1336.7 578.2 1338.0 583.3 1339.3 578.4 1340.6 583.9 1341.9 580.8 1343.2 583.1 1344.5 581.3 1345.8 569.0 1347.1 555.3 1348.4 570.1 1349.7 579.1 1351.0 582.5 1352.3 582.2 1353.6 586.3 1354.9 572.3 1356.2 585.9 1357.5 577.0 1358.8 580.8 1360.1 575.3 1361.4 584.1 1362.7 553.4 1364.0 580.2 1365.3 564.6 1366.6 579.3 1367.9 565.5 1369.2 581.6 1370.5 540.8 1371.8 560.9 1373.1 549.3 1374.4 561.8 1375.7 569.7 1377.0 578.8 1378.3 569.0 1379.6 583.7 1380.9 575.3 1382.2 580.5 1383.5 571.8 1384.8 594.7 1386.1 572.9 1387.4 575.7 1388.7 572.5 1390.0 582.3 1391.3 569.6 1392.6 575.3 1393.9 570.7 1395.2 574.0 1396.5 569.1 1397.8 556.9 1399.1 567.8 1400.4 564.2 1401.7 573.0 1403.0 581.7 1404.3 570.9 1405.6 580.2 1406.9 576.1 1408.2 580.6 1409.6 574.1 1410.9 581.6 1412.2 575.8 1413.5 581.1 1414.8 579.6 1416.1 586.5 1417.4 586.9 1418.7 586.6 1420.0 578.5 1421.3 584.0 1422.6 578.7 1423.9 585.1 1425.2 577.0 1426.5 594.1 1427.8 571.1 1429.1 579.2 1430.4 574.6 1431.7 578.6 1433.0 569.6 1434.3 574.2 1435.6 567.1 1436.9 576.4 1438.2 571.7 1439.5 574.8 1440.8 561.1 1442.1 573.1 1443.4 566.1 1444.7 568.8 1446.0 561.1 1447.3 569.9 1448.6 554.6 1449.9 564.2 1451.2 560.9 1452.5 566.7 1453.8 561.6 1455.1 567.2 1456.4 561.9 1457.7 569.7 1459.0 559.1 1460.3 569.1 1461.6 563.4 1462.9 555.3 1464.2 564.1 1465.5 572.8 1466.8 562.5 1468.1 574.3 1469.4 560.4 1470.7 571.7 1472.0 564.8 1473.3 572.9 1474.6 563.4 1475.9 551.9 1477.2 558.9 1478.5 568.3 1479.8 559.5 1481.1 567.8 1482.4 561.4 1483.7 567.1 1485.0 557.4 1486.3 562.6 1487.6 554.6 1488.9 560.1 1490.2 549.3 1491.5 556.5 1492.8 551.1 1494.1 554.2 1495.4 541.6 1496.7 524.7 1498.0 495.4 1499.3 527.0 1500.6 533.0 1501.9 538.7 1503.2 531.2 1504.5 535.7 1505.8 527.2 1507.1 536.7 1508.4 532.2 1509.7 539.4 1511.0 533.5 1512.3 548.5 1513.6 546.4 1514.9 553.4 1516.3 547.7 1517.6 543.7 1518.9 551.8 1520.2 563.2 1521.5 551.0 1522.8 567.6 1524.1 562.9 1525.4 574.6 1526.7 557.7 1528.0 566.3 1529.3 563.0 1530.6 567.4 1531.9 565.0 1533.2 570.9 1534.5 566.2 1535.8 571.0 1537.1 565.7 1538.4 575.0 1539.7 567.0 1541.0 573.4 1542.3 570.5 1543.6 574.8 1544.9 566.9 1546.2 575.8 1547.5 571.0 1548.8 577.9 1550.1 572.4 1551.4 571.9 1552.7 567.6 1554.0 576.4 1555.3 569.9 1556.6 580.0 1557.9 570.9 1559.2 559.7 1560.5 571.8 1561.8 573.1 1563.1 566.6 1564.4 574.7 1565.7 564.6 1567.0 576.5 1568.3 576.6 1569.6 570.3 1570.9 567.1 1572.2 571.1 1573.5 560.5 1574.8 564.7 1576.1 557.6 1577.4 575.8 1578.7 568.4 1580.0 581.4 1581.3 576.5 1582.6 583.8 1583.9 579.6 1585.2 585.9 1586.5 578.4 1587.8 587.7 1589.1 580.5 1590.4 591.1 1591.7 577.3 1593.0 585.1 1594.3 582.0 1595.6 585.3 1596.9 581.6 1598.2 587.6 1599.5 580.1 1600.8 582.0 1602.1 568.4 1603.4 581.2 1604.7 572.0 1606.0 579.4 1607.3 567.7 1608.6 574.7 1609.9 559.7 1611.2 568.9 1612.5 559.3 1613.8 580.6 1615.1 561.3 1616.4 570.7 1617.7 566.1 1619.0 573.8 1620.3 569.5 1621.7 577.1 1623.0 574.9 1624.3 581.8 1625.6 574.7 1626.9 588.2 1628.2 582.5 1629.5 592.1 1630.8 584.5 1632.1 588.5 1633.4 584.5 1634.7 582.9 1636.0 575.3 1637.3 581.1 1638.6 574.4 1639.9 580.9 1641.2 573.1 1642.5 577.9 1643.8 569.7 1645.1 578.7 1646.4 566.9 1647.7 575.9 1649.0 573.0 1650.3 579.3 1651.6 570.9 1652.9 576.8 1654.2 570.7 1655.5 576.3 1656.8 565.3 1658.1 577.4 1659.4 569.6 1660.7 576.2 1662.0 566.3 1663.3 575.3 1664.6 564.0 1665.9 575.3 1667.2 567.7 1668.5 578.7 1669.8 567.3 1671.1 577.7 1672.4 570.3 1673.7 566.2 1675.0 552.3 1676.3 567.3 1677.6 568.2 1678.9 578.6 1680.2 573.0 1681.5 581.5 1682.8 570.3 1684.1 577.3 1685.4 565.5 1686.7 579.6 1688.0 573.6 1689.3 578.9 1690.6 567.1 1691.9 582.2 1693.2 571.7 1694.5 579.4 1695.8 572.4 1697.1 584.1 1698.4 569.7 1699.7 577.8 1701.0 566.8 1702.3 573.6 1703.6 568.3 1704.9 566.8 1706.2 569.1 1707.5 572.4 1708.8 561.8 1710.1 546.3 1711.4 563.0 1712.7 567.6 1714.0 562.3 1715.3 568.1 1716.6 553.5 1717.9 567.3 1719.2 564.4 1720.5 567.3 1721.8 562.8 1723.1 569.6 1724.4 569.4 1725.7 574.3 1727.0 569.9 1728.4 582.3 1729.7 565.2 1731.0 578.2 1732.3 570.3 1733.6 579.7 1734.9 573.5 1736.2 580.6 1737.5 571.4 1738.8 560.3 1740.1 573.8 1741.4 577.3 1742.7 571.6 1744.0 579.2 1745.3 562.6 1746.6 574.7 1747.9 565.0 1749.2 573.7 1750.5 565.3 1751.8 533.3 1753.1 479.0 1754.4 537.5 1755.7 546.4 1757.0 563.2" fill="none" stroke="#c4c4c4" stroke-width="1.9" stroke-linejoin="round"/>
<path d="M1236.5 631.5 1237.8 625.8 1239.1 619.2 1240.4 613.1 1241.7 620.2 1243.0 613.2 1244.3 622.9 1245.6 614.2 1246.9 626.1 1248.2 617.3 1249.5 624.0 1250.8 613.4 1252.1 647.3 1253.4 620.7 1254.7 629.7 1256.0 621.0 1257.3 636.7 1258.6 621.5 1259.9 626.0 1261.2 621.0 1262.5 627.8 1263.8 617.1 1265.1 634.6 1266.4 624.6 1267.7 635.5 1269.0 622.1 1270.3 627.1 1271.6 621.9 1272.9 623.0 1274.2 618.4 1275.5 627.2 1276.8 623.4 1278.1 635.7 1279.4 619.6 1280.7 629.4 1282.0 623.2 1283.3 627.2 1284.6 638.8 1285.9 627.7 1287.2 624.9 1288.5 629.4 1289.8 624.8 1291.1 632.8 1292.4 621.7 1293.7 628.0 1295.0 631.7 1296.3 634.2 1297.6 624.8 1298.9 627.6 1300.2 620.5 1301.5 629.8 1302.8 625.1 1304.2 628.7 1305.5 616.8 1306.8 625.9 1308.1 618.7 1309.4 630.2 1310.7 618.0 1312.0 625.3 1313.3 615.6 1314.6 626.3 1315.9 621.2 1317.2 624.9 1318.5 622.9 1319.8 629.5 1321.1 621.4 1322.4 629.7 1323.7 623.3 1325.0 631.3 1326.3 620.8 1327.6 626.8 1328.9 625.2 1330.2 626.7 1331.5 625.4 1332.8 635.8 1334.1 623.3 1335.4 629.8 1336.7 623.2 1338.0 634.0 1339.3 625.6 1340.6 626.2 1341.9 611.7 1343.2 627.8 1344.5 616.9 1345.8 627.8 1347.1 619.0 1348.4 619.9 1349.7 621.3 1351.0 629.0 1352.3 619.5 1353.6 625.4 1354.9 622.1 1356.2 629.7 1357.5 621.8 1358.8 626.5 1360.1 613.9 1361.4 623.8 1362.7 620.5 1364.0 626.6 1365.3 621.3 1366.6 624.6 1367.9 621.1 1369.2 628.2 1370.5 621.8 1371.8 627.7 1373.1 623.8 1374.4 625.2 1375.7 619.3 1377.0 631.7 1378.3 622.3 1379.6 627.4 1380.9 619.7 1382.2 628.2 1383.5 622.5 1384.8 628.6 1386.1 617.8 1387.4 622.9 1388.7 614.5 1390.0 628.4 1391.3 618.3 1392.6 638.6 1393.9 614.1 1395.2 624.5 1396.5 617.9 1397.8 629.2 1399.1 618.0 1400.4 629.6 1401.7 618.0 1403.0 628.0 1404.3 623.9 1405.6 629.3 1406.9 632.5 1408.2 626.7 1409.6 624.6 1410.9 634.0 1412.2 621.9 1413.5 627.7 1414.8 617.4 1416.1 627.4 1417.4 624.4 1418.7 630.4 1420.0 627.1 1421.3 630.8 1422.6 623.1 1423.9 630.7 1425.2 627.2 1426.5 630.4 1427.8 619.0 1429.1 628.5 1430.4 621.9 1431.7 629.2 1433.0 622.4 1434.3 626.8 1435.6 622.0 1436.9 627.4 1438.2 621.6 1439.5 631.8 1440.8 621.9 1442.1 630.9 1443.4 621.1 1444.7 630.9 1446.0 621.2 1447.3 627.9 1448.6 615.6 1449.9 627.8 1451.2 621.4 1452.5 629.1 1453.8 620.8 1455.1 632.9 1456.4 622.3 1457.7 625.9 1459.0 621.8 1460.3 629.4 1461.6 621.0 1462.9 627.2 1464.2 622.0 1465.5 627.1 1466.8 616.8 1468.1 625.7 1469.4 619.1 1470.7 627.4 1472.0 621.4 1473.3 626.8 1474.6 618.8 1475.9 631.3 1477.2 621.0 1478.5 633.8 1479.8 620.6 1481.1 626.1 1482.4 617.9 1483.7 627.4 1485.0 623.3 1486.3 628.3 1487.6 622.9 1488.9 630.7 1490.2 623.5 1491.5 636.7 1492.8 633.1 1494.1 636.0 1495.4 623.8 1496.7 610.0 1498.0 610.3 1499.3 616.8 1500.6 609.2 1501.9 619.9 1503.2 612.9 1504.5 622.6 1505.8 611.5 1507.1 620.1 1508.4 612.9 1509.7 620.6 1511.0 617.1 1512.3 619.6 1513.6 610.8 1514.9 622.0 1516.3 615.8 1517.6 622.5 1518.9 610.3 1520.2 625.9 1521.5 614.4 1522.8 623.7 1524.1 618.5 1525.4 626.3 1526.7 616.3 1528.0 613.3 1529.3 614.2 1530.6 623.1 1531.9 614.1 1533.2 620.9 1534.5 617.2 1535.8 621.1 1537.1 615.3 1538.4 627.6 1539.7 611.8 1541.0 624.1 1542.3 614.9 1543.6 626.7 1544.9 620.2 1546.2 622.2 1547.5 613.2 1548.8 624.4 1550.1 615.8 1551.4 623.2 1552.7 620.0 1554.0 626.7 1555.3 618.0 1556.6 629.7 1557.9 620.8 1559.2 623.4 1560.5 619.8 1561.8 630.4 1563.1 620.5 1564.4 627.9 1565.7 623.0 1567.0 627.3 1568.3 620.8 1569.6 634.0 1570.9 620.9 1572.2 634.2 1573.5 636.8 1574.8 635.6 1576.1 629.6 1577.4 633.8 1578.7 628.8 1580.0 635.7 1581.3 632.2 1582.6 635.3 1583.9 632.4 1585.2 636.0 1586.5 631.0 1587.8 636.2 1589.1 627.5 1590.4 639.6 1591.7 632.4 1593.0 635.8 1594.3 630.0 1595.6 633.6 1596.9 631.9 1598.2 638.5 1599.5 626.2 1600.8 632.8 1602.1 625.2 1603.4 630.7 1604.7 629.6 1606.0 636.4 1607.3 627.9 1608.6 632.2 1609.9 629.1 1611.2 641.4 1612.5 632.0 1613.8 635.0 1615.1 628.4 1616.4 653.8 1617.7 628.2 1619.0 632.5 1620.3 636.1 1621.7 650.3 1623.0 626.5 1624.3 632.3 1625.6 627.9 1626.9 635.8 1628.2 627.9 1629.5 635.7 1630.8 623.9 1632.1 632.7 1633.4 629.3 1634.7 635.4 1636.0 631.7 1637.3 637.6 1638.6 633.1 1639.9 642.4 1641.2 634.1 1642.5 638.7 1643.8 631.0 1645.1 638.1 1646.4 634.7 1647.7 639.2 1649.0 630.8 1650.3 642.9 1651.6 628.7 1652.9 638.3 1654.2 633.9 1655.5 640.6 1656.8 631.4 1658.1 637.2 1659.4 634.3 1660.7 650.1 1662.0 635.0 1663.3 642.5 1664.6 631.2 1665.9 638.5 1667.2 628.5 1668.5 635.9 1669.8 631.4 1671.1 658.1 1672.4 632.7 1673.7 634.7 1675.0 624.3 1676.3 632.2 1677.6 623.9 1678.9 630.7 1680.2 621.5 1681.5 629.7 1682.8 621.5 1684.1 630.0 1685.4 624.8 1686.7 629.9 1688.0 624.1 1689.3 633.6 1690.6 622.4 1691.9 634.1 1693.2 625.6 1694.5 626.9 1695.8 626.0 1697.1 627.4 1698.4 621.0 1699.7 647.8 1701.0 627.0 1702.3 628.7 1703.6 624.5 1704.9 632.2 1706.2 624.6 1707.5 630.9 1708.8 622.0 1710.1 631.4 1711.4 625.9 1712.7 638.6 1714.0 608.1 1715.3 634.2 1716.6 628.3 1717.9 635.5 1719.2 628.9 1720.5 633.2 1721.8 631.8 1723.1 635.4 1724.4 630.0 1725.7 638.7 1727.0 628.3 1728.4 633.5 1729.7 628.2 1731.0 635.8 1732.3 625.1 1733.6 632.0 1734.9 625.7 1736.2 629.4 1737.5 637.0 1738.8 643.2 1740.1 631.1 1741.4 643.7 1742.7 633.4 1744.0 637.6 1745.3 634.4 1746.6 636.0 1747.9 626.1 1749.2 639.3 1750.5 628.2 1751.8 642.4 1753.1 648.5 1754.4 662.9 1755.7 647.4 1757.0 638.2" fill="none" stroke="#c4c4c4" stroke-width="1.9" stroke-linejoin="round"/>
<path d="M1236.5 602.1 1237.8 593.4 1239.1 588.8 1240.4 582.2 1241.7 589.4 1243.0 597.7 1244.3 601.9 1245.6 599.0 1246.9 602.3 1248.2 600.2 1249.5 605.2 1250.8 601.3 1252.1 607.1 1253.4 602.3 1254.7 609.3 1256.0 603.2 1257.3 608.8 1258.6 604.8 1259.9 607.6 1261.2 598.8 1262.5 603.6 1263.8 597.8 1265.1 601.3 1266.4 603.8 1267.7 602.7 1269.0 595.6 1270.3 610.0 1271.6 598.4 1272.9 603.2 1274.2 596.1 1275.5 600.2 1276.8 597.9 1278.1 602.9 1279.4 597.6 1280.7 598.5 1282.0 599.3 1283.3 604.4 1284.6 600.1 1285.9 606.9 1287.2 600.8 1288.5 602.9 1289.8 599.8 1291.1 605.1 1292.4 601.5 1293.7 604.6 1295.0 602.0 1296.3 607.9 1297.6 602.7 1298.9 607.6 1300.2 601.0 1301.5 604.8 1302.8 600.2 1304.2 601.4 1305.5 599.1 1306.8 605.0 1308.1 600.3 1309.4 604.1 1310.7 599.2 1312.0 606.3 1313.3 601.9 1314.6 604.0 1315.9 607.7 1317.2 604.5 1318.5 603.0 1319.8 607.4 1321.1 600.1 1322.4 606.5 1323.7 599.3 1325.0 606.6 1326.3 603.0 1327.6 607.3 1328.9 603.9 1330.2 606.0 1331.5 603.7 1332.8 608.9 1334.1 602.8 1335.4 606.6 1336.7 601.2 1338.0 607.0 1339.3 600.2 1340.6 606.9 1341.9 599.3 1343.2 601.0 1344.5 597.2 1345.8 600.8 1347.1 596.4 1348.4 603.0 1349.7 599.1 1351.0 602.1 1352.3 598.9 1353.6 605.1 1354.9 589.7 1356.2 604.2 1357.5 597.9 1358.8 601.0 1360.1 597.7 1361.4 601.6 1362.7 596.1 1364.0 600.5 1365.3 596.6 1366.6 600.1 1367.9 595.3 1369.2 597.0 1370.5 596.0 1371.8 598.3 1373.1 595.0 1374.4 599.5 1375.7 597.0 1377.0 602.1 1378.3 600.0 1379.6 606.2 1380.9 601.2 1382.2 609.0 1383.5 601.4 1384.8 602.0 1386.1 593.9 1387.4 597.6 1388.7 595.0 1390.0 598.0 1391.3 597.5 1392.6 602.9 1393.9 597.8 1395.2 602.3 1396.5 597.3 1397.8 602.4 1399.1 597.5 1400.4 607.5 1401.7 599.8 1403.0 603.3 1404.3 599.7 1405.6 607.8 1406.9 599.7 1408.2 607.1 1409.6 601.4 1410.9 605.7 1412.2 597.8 1413.5 606.0 1414.8 594.3 1416.1 606.4 1417.4 601.6 1418.7 608.8 1420.0 603.9 1421.3 606.5 1422.6 602.7 1423.9 607.2 1425.2 603.8 1426.5 605.1 1427.8 599.6 1429.1 604.9 1430.4 601.8 1431.7 605.8 1433.0 600.3 1434.3 602.6 1435.6 594.7 1436.9 603.5 1438.2 594.9 1439.5 601.1 1440.8 596.8 1442.1 601.6 1443.4 594.0 1444.7 600.7 1446.0 597.4 1447.3 599.1 1448.6 596.4 1449.9 599.3 1451.2 595.5 1452.5 600.6 1453.8 592.9 1455.1 598.5 1456.4 593.3 1457.7 597.0 1459.0 593.4 1460.3 600.7 1461.6 594.0 1462.9 601.5 1464.2 592.1 1465.5 598.1 1466.8 597.4 1468.1 597.4 1469.4 592.8 1470.7 598.5 1472.0 594.8 1473.3 597.7 1474.6 594.7 1475.9 598.2 1477.2 593.1 1478.5 601.0 1479.8 594.3 1481.1 599.3 1482.4 596.9 1483.7 600.2 1485.0 592.6 1486.3 596.0 1487.6 594.7 1488.9 601.2 1490.2 591.7 1491.5 594.3 1492.8 590.9 1494.1 594.7 1495.4 590.8 1496.7 572.1 1498.0 555.3 1499.3 573.4 1500.6 573.2 1501.9 576.2 1503.2 575.2 1504.5 580.3 1505.8 578.2 1507.1 584.0 1508.4 583.2 1509.7 586.2 1511.0 583.6 1512.3 587.5 1513.6 584.6 1514.9 590.0 1516.3 588.7 1517.6 591.0 1518.9 587.6 1520.2 596.4 1521.5 589.8 1522.8 595.4 1524.1 588.7 1525.4 596.6 1526.7 593.6 1528.0 596.1 1529.3 589.8 1530.6 596.1 1531.9 595.2 1533.2 599.6 1534.5 593.5 1535.8 597.8 1537.1 595.8 1538.4 601.8 1539.7 594.6 1541.0 599.4 1542.3 595.6 1543.6 600.0 1544.9 598.7 1546.2 600.4 1547.5 598.3 1548.8 596.4 1550.1 600.2 1551.4 601.7 1552.7 597.9 1554.0 603.5 1555.3 597.9 1556.6 604.4 1557.9 595.6 1559.2 602.9 1560.5 597.8 1561.8 600.5 1563.1 596.6 1564.4 600.6 1565.7 596.5 1567.0 601.7 1568.3 594.3 1569.6 601.1 1570.9 596.5 1572.2 594.2 1573.5 596.8 1574.8 606.3 1576.1 601.1 1577.4 605.4 1578.7 601.5 1580.0 611.2 1581.3 606.4 1582.6 612.3 1583.9 606.9 1585.2 614.5 1586.5 603.1 1587.8 611.7 1589.1 605.4 1590.4 610.8 1591.7 604.6 1593.0 612.5 1594.3 605.5 1595.6 614.2 1596.9 605.0 1598.2 609.3 1599.5 604.6 1600.8 609.3 1602.1 602.8 1603.4 609.1 1604.7 604.2 1606.0 607.9 1607.3 606.2 1608.6 610.5 1609.9 600.9 1611.2 605.9 1612.5 604.9 1613.8 609.8 1615.1 601.9 1616.4 608.7 1617.7 600.4 1619.0 610.1 1620.3 600.9 1621.7 608.0 1623.0 604.5 1624.3 611.5 1625.6 609.5 1626.9 618.1 1628.2 613.4 1629.5 616.6 1630.8 612.6 1632.1 616.0 1633.4 607.0 1634.7 610.3 1636.0 601.0 1637.3 605.4 1638.6 603.5 1639.9 608.0 1641.2 602.8 1642.5 605.9 1643.8 598.5 1645.1 607.4 1646.4 603.2 1647.7 607.3 1649.0 609.5 1650.3 608.2 1651.6 605.6 1652.9 608.0 1654.2 605.0 1655.5 611.3 1656.8 607.0 1658.1 609.6 1659.4 607.7 1660.7 611.7 1662.0 608.4 1663.3 612.1 1664.6 607.2 1665.9 609.3 1667.2 604.0 1668.5 604.5 1669.8 599.5 1671.1 605.5 1672.4 599.6 1673.7 602.5 1675.0 592.7 1676.3 600.3 1677.6 599.5 1678.9 604.9 1680.2 598.6 1681.5 603.9 1682.8 600.0 1684.1 605.2 1685.4 599.7 1686.7 606.3 1688.0 598.3 1689.3 609.7 1690.6 600.6 1691.9 602.4 1693.2 596.7 1694.5 608.7 1695.8 600.9 1697.1 604.2 1698.4 600.2 1699.7 601.2 1701.0 597.4 1702.3 602.3 1703.6 595.7 1704.9 602.8 1706.2 593.4 1707.5 595.1 1708.8 592.7 1710.1 593.1 1711.4 590.9 1712.7 595.7 1714.0 595.9 1715.3 599.9 1716.6 597.7 1717.9 600.3 1719.2 600.3 1720.5 603.8 1721.8 601.4 1723.1 606.0 1724.4 601.0 1725.7 614.0 1727.0 605.3 1728.4 607.7 1729.7 603.0 1731.0 606.6 1732.3 603.3 1733.6 608.7 1734.9 599.8 1736.2 610.5 1737.5 601.8 1738.8 606.9 1740.1 601.0 1741.4 603.7 1742.7 601.0 1744.0 599.6 1745.3 601.5 1746.6 606.4 1747.9 591.8 1749.2 604.5 1750.5 598.8 1751.8 592.1 1753.1 570.2 1754.4 593.7 1755.7 595.2 1757.0 599.4" fill="none" stroke="#000" stroke-width="2.1" stroke-linejoin="round"/>
<line x1="1496.1" y1="757.7" x2="1496.1" y2="482.1" stroke="#2a7a58" stroke-width="1.3"/>
<rect x="1496.1" y="749.4" width="57.7" height="8.3" fill="#23904a"/>
<path d="M1236.1 427.3V757.7H1756.6" fill="none" stroke="#3a3a3a" stroke-width="1.4"/>
<line x1="1232.3" y1="757.7" x2="1236.1" y2="757.7" stroke="#3a3a3a" stroke-width="1.4"/>
<text x="0" y="0" transform="translate(1228.3,763.3) scale(0.80,1)" text-anchor="end" font-size="14">0.0</text>
<line x1="1232.3" y1="702.6" x2="1236.1" y2="702.6" stroke="#3a3a3a" stroke-width="1.4"/>
<text x="0" y="0" transform="translate(1228.3,708.2) scale(0.80,1)" text-anchor="end" font-size="14">0.2</text>
<line x1="1232.3" y1="647.6" x2="1236.1" y2="647.6" stroke="#3a3a3a" stroke-width="1.4"/>
<text x="0" y="0" transform="translate(1228.3,653.2) scale(0.80,1)" text-anchor="end" font-size="14">0.4</text>
<line x1="1232.3" y1="592.5" x2="1236.1" y2="592.5" stroke="#3a3a3a" stroke-width="1.4"/>
<text x="0" y="0" transform="translate(1228.3,598.1) scale(0.80,1)" text-anchor="end" font-size="14">0.6</text>
<line x1="1232.3" y1="537.5" x2="1236.1" y2="537.5" stroke="#3a3a3a" stroke-width="1.4"/>
<text x="0" y="0" transform="translate(1228.3,543.1) scale(0.80,1)" text-anchor="end" font-size="14">0.8</text>
<line x1="1232.3" y1="482.4" x2="1236.1" y2="482.4" stroke="#3a3a3a" stroke-width="1.4"/>
<text x="0" y="0" transform="translate(1228.3,488.0) scale(0.80,1)" text-anchor="end" font-size="14">1.0</text>
<line x1="1232.3" y1="427.3" x2="1236.1" y2="427.3" stroke="#3a3a3a" stroke-width="1.4"/>
<text x="0" y="0" transform="translate(1228.3,432.9) scale(0.80,1)" text-anchor="end" font-size="14">1.2</text>
<line x1="1264.5" y1="757.7" x2="1264.5" y2="762.7" stroke="#3a3a3a" stroke-width="1.4"/>
<text x="0" y="0" transform="translate(1264.5,778.7) scale(0.794,1)" text-anchor="middle" font-size="14">−40</text>
<line x1="1322.4" y1="757.7" x2="1322.4" y2="762.7" stroke="#3a3a3a" stroke-width="1.4"/>
<text x="0" y="0" transform="translate(1322.4,778.7) scale(0.794,1)" text-anchor="middle" font-size="14">−30</text>
<line x1="1380.3" y1="757.7" x2="1380.3" y2="762.7" stroke="#3a3a3a" stroke-width="1.4"/>
<text x="0" y="0" transform="translate(1380.3,778.7) scale(0.794,1)" text-anchor="middle" font-size="14">−20</text>
<line x1="1438.2" y1="757.7" x2="1438.2" y2="762.7" stroke="#3a3a3a" stroke-width="1.4"/>
<text x="0" y="0" transform="translate(1438.2,778.7) scale(0.794,1)" text-anchor="middle" font-size="14">−10</text>
<line x1="1496.0" y1="757.7" x2="1496.0" y2="762.7" stroke="#3a3a3a" stroke-width="1.4"/>
<text x="0" y="0" transform="translate(1496.0,778.7) scale(0.794,1)" text-anchor="middle" font-size="14">0</text>
<line x1="1553.9" y1="757.7" x2="1553.9" y2="762.7" stroke="#3a3a3a" stroke-width="1.4"/>
<text x="0" y="0" transform="translate(1553.9,778.7) scale(0.794,1)" text-anchor="middle" font-size="14">10</text>
<line x1="1611.8" y1="757.7" x2="1611.8" y2="762.7" stroke="#3a3a3a" stroke-width="1.4"/>
<text x="0" y="0" transform="translate(1611.8,778.7) scale(0.794,1)" text-anchor="middle" font-size="14">20</text>
<line x1="1669.7" y1="757.7" x2="1669.7" y2="762.7" stroke="#3a3a3a" stroke-width="1.4"/>
<text x="0" y="0" transform="translate(1669.7,778.7) scale(0.794,1)" text-anchor="middle" font-size="14">30</text>
<line x1="1727.6" y1="757.7" x2="1727.6" y2="762.7" stroke="#3a3a3a" stroke-width="1.4"/>
<text x="0" y="0" transform="translate(1727.6,778.7) scale(0.794,1)" text-anchor="middle" font-size="14">40</text>
<text class="ti" transform="translate(1475.8,456.5) scale(1,1.02)" text-anchor="middle">Noon, Three times</text>
<path d="M92.2 1000.6 93.5 993.2 94.8 995.1 96.1 984.7 97.4 1023.2 98.7 985.2 100.0 1007.7 101.3 985.8 102.6 1005.3 103.9 994.5 105.2 1009.9 106.5 987.0 107.8 1002.2 109.1 996.0 110.4 1012.5 111.7 990.5 113.0 1011.9 114.3 994.0 115.6 1008.2 116.9 977.5 118.2 1008.7 119.5 990.0 120.8 1008.3 122.1 981.7 123.4 996.2 124.7 986.7 126.0 1001.4 127.3 988.2 128.6 971.1 129.9 978.6 131.2 970.6 132.5 976.1 133.8 1000.4 135.1 995.2 136.4 960.0 137.7 997.9 139.0 1002.8 140.3 983.1 141.7 1007.7 143.0 974.7 144.3 1001.2 145.6 988.4 146.9 995.1 148.2 982.9 149.5 1001.5 150.8 974.8 152.1 999.6 153.4 976.7 154.7 994.4 156.0 980.9 157.3 995.5 158.6 986.4 159.9 1005.1 161.2 982.8 162.5 1005.5 163.8 990.9 165.1 995.9 166.4 990.5 167.7 1017.4 169.0 983.4 170.3 1014.2 171.6 988.6 172.9 1010.9 174.2 995.2 175.5 1010.1 176.8 990.3 178.1 996.9 179.4 993.1 180.7 1007.2 182.0 990.3 183.3 1019.0 184.6 985.9 185.9 1012.1 187.2 1001.3 188.5 1013.3 189.8 997.8 191.1 1005.2 192.4 999.6 193.7 1006.5 195.0 1004.4 196.3 1010.3 197.7 992.3 199.0 1030.4 200.3 996.1 201.6 1027.8 202.9 1000.8 204.2 1037.0 205.5 1004.0 206.8 1028.1 208.1 1014.5 209.4 1025.7 210.7 1009.1 212.0 1025.1 213.3 1007.1 214.6 1033.9 215.9 997.3 217.2 1024.2 218.5 1011.4 219.8 1016.2 221.1 1008.9 222.4 1008.9 223.7 999.2 225.0 1019.0 226.3 988.2 227.6 1010.3 228.9 1001.8 230.2 1009.1 231.5 998.1 232.8 1010.8 234.1 1003.6 235.4 1020.8 236.7 991.0 238.0 1020.1 239.3 998.4 240.6 1006.9 241.9 990.1 243.2 1013.0 244.5 982.2 245.8 1006.9 247.1 994.5 248.4 1004.2 249.7 989.4 251.0 1007.6 252.3 979.0 253.6 1009.0 255.0 979.7 256.3 993.9 257.6 963.7 258.9 994.3 260.2 989.1 261.5 1004.0 262.8 968.4 264.1 1002.6 265.4 992.1 266.7 978.6 268.0 993.2 269.3 1000.3 270.6 974.3 271.9 983.8 273.2 974.8 274.5 990.2 275.8 970.9 277.1 989.4 278.4 970.7 279.7 996.9 281.0 973.6 282.3 997.9 283.6 986.5 284.9 996.0 286.2 984.9 287.5 1012.6 288.8 998.4 290.1 1006.3 291.4 976.7 292.7 1011.6 294.0 981.1 295.3 1000.2 296.6 999.3 297.9 1005.5 299.2 982.9 300.5 1012.1 301.8 992.5 303.1 1014.9 304.4 990.0 305.7 1011.0 307.0 1000.8 308.3 1027.3 309.6 1001.1 310.9 1010.2 312.3 985.2 313.6 1001.2 314.9 987.6 316.2 1004.5 317.5 998.4 318.8 1007.0 320.1 985.7 321.4 1003.7 322.7 981.9 324.0 1009.8 325.3 985.7 326.6 1004.3 327.9 981.2 329.2 1012.5 330.5 997.2 331.8 1005.8 333.1 992.2 334.4 1006.2 335.7 987.2 337.0 994.2 338.3 963.1 339.6 1001.4 340.9 973.6 342.2 1000.0 343.5 988.8 344.8 970.2 346.1 990.2 347.4 998.2 348.7 980.2 350.0 1001.0 351.3 979.0 352.6 987.5 353.9 964.6 355.2 956.3 356.5 955.2 357.8 956.4 359.1 949.1 360.4 979.7 361.7 959.2 363.0 990.4 364.3 964.7 365.6 979.9 366.9 973.1 368.2 987.4 369.6 972.9 370.9 1003.0 372.2 988.5 373.5 999.5 374.8 992.1 376.1 994.2 377.4 979.8 378.7 1007.2 380.0 982.9 381.3 1009.8 382.6 973.4 383.9 984.2 385.2 985.9 386.5 1008.0 387.8 987.7 389.1 1005.8 390.4 982.0 391.7 1004.3 393.0 980.7 394.3 995.6 395.6 986.4 396.9 1014.4 398.2 970.2 399.5 994.5 400.8 978.0 402.1 1007.7 403.4 987.8 404.7 1002.9 406.0 983.8 407.3 996.4 408.6 975.5 409.9 995.0 411.2 983.2 412.5 1035.0 413.8 982.4 415.1 1006.8 416.4 979.6 417.7 1013.8 419.0 982.5 420.3 999.8 421.6 993.3 422.9 1013.6 424.2 990.3 425.6 1003.8 426.9 989.5 428.2 1001.9 429.5 994.5 430.8 1007.7 432.1 982.4 433.4 995.7 434.7 986.5 436.0 987.7 437.3 969.9 438.6 990.2 439.9 958.8 441.2 962.4 442.5 950.2 443.8 963.3 445.1 967.2 446.4 981.2 447.7 956.3 449.0 994.6 450.3 966.8 451.6 959.2 452.9 941.7 454.2 960.5 455.5 961.2 456.8 964.2 458.1 970.2 459.4 964.7 460.7 955.2 462.0 965.4 463.3 968.9 464.6 987.6 465.9 970.1 467.2 985.0 468.5 974.9 469.8 988.4 471.1 956.9 472.4 989.6 473.7 969.8 475.0 994.2 476.3 966.8 477.6 982.6 478.9 974.1 480.2 986.0 481.5 964.6 482.9 987.9 484.2 988.5 485.5 995.4 486.8 972.2 488.1 1007.3 489.4 966.8 490.7 989.8 492.0 973.0 493.3 982.4 494.6 962.5 495.9 977.1 497.2 968.4 498.5 986.5 499.8 962.6 501.1 984.2 502.4 952.0 503.7 976.6 505.0 960.8 506.3 988.0 507.6 962.1 508.9 978.2 510.2 954.2 511.5 995.4 512.8 972.7 514.1 991.2 515.4 967.2 516.7 1005.6 518.0 960.7 519.3 984.8 520.6 946.2 521.9 981.0 523.2 957.8 524.5 980.6 525.8 970.3 527.1 1009.0 528.4 980.9 529.7 993.5 531.0 973.1 532.3 994.4 533.6 975.8 534.9 989.8 536.2 964.1 537.5 982.8 538.8 976.7 540.2 994.5 541.5 973.5 542.8 983.7 544.1 967.3 545.4 999.4 546.7 975.2 548.0 981.2 549.3 973.8 550.6 999.0 551.9 965.8 553.2 986.7 554.5 967.4 555.8 977.6 557.1 951.3 558.4 949.4 559.7 951.9 561.0 949.2 562.3 950.2 563.6 967.7 564.9 950.4 566.2 942.1 567.5 941.7 568.8 942.1 570.1 967.1 571.4 979.1 572.7 973.3 574.0 990.8 575.3 973.8 576.6 1005.8 577.9 979.5 579.2 992.6 580.5 976.3 581.8 989.7 583.1 983.7 584.4 991.5 585.7 965.8 587.0 1001.7 588.3 973.1 589.6 991.0 590.9 973.3 592.2 958.6" fill="none" stroke="#c4c4c4" stroke-width="1.9" stroke-linejoin="round"/>
<path d="M92.2 1053.0 93.5 1033.9 94.8 1051.3 96.1 1034.7 97.4 1033.5 98.7 1024.8 100.0 1064.7 101.3 1032.8 102.6 1060.7 103.9 1037.8 105.2 1057.5 106.5 1043.7 107.8 1066.0 109.1 1041.1 110.4 1050.7 111.7 1036.4 113.0 1049.9 114.3 1039.5 115.6 1054.9 116.9 1030.9 118.2 1053.0 119.5 1037.7 120.8 1058.3 122.1 1030.1 123.4 1048.1 124.7 1021.5 126.0 1050.3 127.3 1028.9 128.6 1041.9 129.9 1029.5 131.2 1042.6 132.5 1018.2 133.8 1052.1 135.1 1033.7 136.4 1052.3 137.7 1043.5 139.0 1068.6 140.3 1041.5 141.6 1044.8 142.9 1022.7 144.2 1058.1 145.5 1035.9 146.8 1054.8 148.1 1026.6 149.4 1056.0 150.7 1038.2 152.0 1053.4 153.3 1026.2 154.6 1047.6 155.9 1032.6 157.2 1052.5 158.5 1035.8 159.8 1059.7 161.1 1031.2 162.4 1057.6 163.7 1044.9 165.0 1059.0 166.3 1042.7 167.6 1065.1 168.9 1056.1 170.2 1061.6 171.5 1055.7 172.8 1066.0 174.1 1044.9 175.4 1063.5 176.7 1036.5 178.0 1063.3 179.4 1045.1 180.7 1065.3 182.0 1047.8 183.3 1060.7 184.6 1051.0 185.9 1057.7 187.2 1038.5 188.5 1074.0 189.8 1044.6 191.1 1054.1 192.4 1034.7 193.7 1070.2 195.0 1051.6 196.3 1067.9 197.6 1050.0 198.9 1065.3 200.2 1053.1 201.5 1057.1 202.8 1048.1 204.1 1048.0 205.4 1036.5 206.7 1047.5 208.0 1030.0 209.3 1051.1 210.6 1032.7 211.9 1058.9 213.2 1037.2 214.5 1057.5 215.8 1032.7 217.1 1051.9 218.4 1027.4 219.7 1054.7 221.0 1040.7 222.3 1051.4 223.6 1035.2 224.9 1043.8 226.2 1033.7 227.5 1045.2 228.8 1036.6 230.1 1042.9 231.4 1046.2 232.7 1042.6 234.0 1036.3 235.3 1041.1 236.6 1021.6 237.9 1045.6 239.2 1022.3 240.5 1043.0 241.8 1029.7 243.1 1042.1 244.4 1024.2 245.7 1044.7 247.0 1026.3 248.3 1055.9 249.6 1035.7 250.9 1055.3 252.2 1023.4 253.5 1038.5 254.8 1018.1 256.1 1042.1 257.4 1022.9 258.7 1040.9 260.0 1007.0 261.3 1027.4 262.6 1013.2 263.9 1025.5 265.2 1001.1 266.5 1019.4 267.8 1011.2 269.1 1029.5 270.4 1005.4 271.7 1046.3 273.0 1007.5 274.3 1029.5 275.6 996.8 276.9 1022.7 278.2 1012.1 279.5 1023.2 280.8 1014.2 282.2 1025.6 283.5 1020.7 284.8 1026.7 286.1 1014.1 287.4 1028.7 288.7 1016.6 290.0 1033.1 291.3 1028.0 292.6 1038.7 293.9 1023.2 295.2 1037.3 296.5 1028.5 297.8 1050.4 299.1 1025.9 300.4 1052.4 301.7 1031.5 303.0 1048.4 304.3 1036.0 305.6 1045.3 306.9 1038.1 308.2 1056.2 309.5 1026.9 310.8 1062.3 312.1 1036.7 313.4 1060.6 314.7 1042.5 316.0 1049.1 317.3 1033.3 318.6 1053.4 319.9 1032.1 321.2 1065.5 322.5 1032.1 323.8 1050.2 325.1 1031.9 326.4 1048.0 327.7 1033.5 329.0 1060.5 330.3 1027.2 331.6 1053.4 332.9 1033.3 334.2 1044.5 335.5 1025.8 336.8 1052.1 338.1 1033.0 339.4 1054.1 340.7 1025.7 342.0 1045.1 343.3 1035.3 344.6 1056.3 345.9 1034.0 347.2 1049.1 348.5 1036.2 349.8 1043.2 351.1 1026.2 352.4 1038.7 353.7 1023.2 355.0 1026.0 356.3 1025.9 357.6 1045.2 358.9 1030.8 360.2 1039.6 361.5 1031.7 362.8 1043.6 364.1 1019.7 365.4 1044.0 366.7 1021.9 368.0 1038.6 369.3 1022.9 370.6 1032.5 371.9 1025.6 373.2 1030.7 374.5 1002.2 375.8 1035.4 377.1 1026.3 378.4 1042.0 379.7 1029.0 381.0 1045.5 382.3 1023.5 383.6 1047.7 385.0 1026.7 386.3 1061.9 387.6 1040.2 388.9 1054.7 390.2 1029.4 391.5 1046.6 392.8 1030.8 394.1 1045.4 395.4 1037.7 396.7 1058.9 398.0 1039.9 399.3 1056.8 400.6 1045.1 401.9 1052.2 403.2 1042.6 404.5 1056.9 405.8 1042.0 407.1 1052.7 408.4 1047.0 409.7 1060.8 411.0 1031.8 412.3 1047.7 413.6 1031.0 414.9 1048.2 416.2 1039.2 417.5 1061.1 418.8 1041.8 420.1 1062.1 421.4 1036.1 422.7 1062.6 424.0 1041.0 425.3 1046.0 426.6 1054.1 427.9 1061.1 429.2 1047.5 430.5 1059.5 431.8 1023.7 433.1 1066.9 434.4 1048.5 435.7 1055.8 437.0 1038.5 438.3 1053.6 439.6 1040.8 440.9 1048.1 442.2 1033.6 443.5 1072.1 444.8 1039.7 446.1 1051.5 447.4 1040.8 448.7 1062.1 450.0 1036.9 451.3 1043.6 452.6 1057.0 453.9 1061.9 455.2 1056.6 456.5 1043.8 457.8 1030.2 459.1 1037.5 460.4 1018.7 461.7 1038.7 463.0 1027.1 464.3 1045.1 465.6 1016.4 466.9 1042.0 468.2 1030.0 469.5 1065.8 470.8 1028.6 472.1 1044.2 473.4 1024.9 474.7 1057.9 476.0 1033.8 477.3 1047.0 478.6 1033.3 479.9 1049.0 481.2 1036.2 482.5 1042.9 483.8 1037.3 485.1 1048.0 486.4 1031.4 487.8 1059.4 489.1 1024.7 490.4 1043.6 491.7 1036.9 493.0 1047.1 494.3 1041.8 495.6 1054.3 496.9 1047.2 498.2 1058.5 499.5 1041.2 500.8 1071.1 502.1 1048.5 503.4 1053.7 504.7 1044.0 506.0 1061.8 507.3 1044.6 508.6 1058.3 509.9 1042.5 511.2 1057.5 512.5 1044.8 513.8 1060.2 515.1 1044.7 516.4 1052.3 517.7 1027.0 519.0 1050.5 520.3 1024.7 521.6 1048.6 522.9 1028.7 524.2 1056.7 525.5 1032.7 526.8 1043.4 528.1 1036.1 529.4 1050.6 530.7 1043.5 532.0 1049.8 533.3 1035.6 534.6 1042.4 535.9 1031.2 537.2 1048.1 538.5 1031.3 539.8 1033.5 541.1 1018.4 542.4 1044.9 543.7 1026.8 545.0 1048.9 546.3 1023.3 547.6 1044.8 548.9 1037.3 550.2 1052.2 551.5 1034.5 552.8 1049.8 554.1 1037.9 555.4 1054.0 556.7 1046.9 558.0 1062.8 559.3 1041.6 560.6 1055.6 561.9 1044.2 563.2 1069.7 564.5 1044.0 565.8 1059.3 567.1 1059.4 568.4 1065.3 569.7 1045.9 571.0 1071.4 572.3 1042.8 573.6 1071.5 574.9 1053.7 576.2 1076.4 577.5 1042.9 578.8 1069.0 580.1 1053.2 581.4 1083.8 582.7 1053.5 584.0 1066.6 585.3 1085.6 586.6 1065.1 587.9 1048.4 589.2 1062.0 590.6 1044.5" fill="none" stroke="#c4c4c4" stroke-width="1.9" stroke-linejoin="round"/>
<path d="M92.2 1033.1 93.5 1025.9 94.8 1031.0 96.1 1013.4 97.4 1030.7 98.7 1019.3 100.0 1033.6 101.3 1016.6 102.6 1029.6 103.9 1022.5 105.2 1030.8 106.5 1019.5 107.8 1028.9 109.1 1018.0 110.4 1027.7 111.7 1019.1 113.0 1034.1 114.3 1021.6 115.6 1041.2 116.9 1017.5 118.2 1032.4 119.5 1019.6 120.8 1026.6 122.1 1018.3 123.4 1021.8 124.7 1012.2 126.0 1027.2 127.3 1003.1 128.6 1023.1 130.0 1013.1 131.3 1024.4 132.6 1016.7 133.9 1021.9 135.2 1013.0 136.5 1000.6 137.8 1014.0 139.1 1023.8 140.4 1017.4 141.7 1029.8 143.0 1007.8 144.3 1002.6 145.6 1013.9 146.9 1027.5 148.2 1013.9 149.5 1023.9 150.8 1015.2 152.1 1021.8 153.4 1014.7 154.7 1020.5 156.0 1008.5 157.3 1029.1 158.6 1016.7 159.9 1023.3 161.2 1017.8 162.5 1027.4 163.8 1020.3 165.1 1031.4 166.4 1027.2 167.7 1036.2 169.0 1012.4 170.3 1032.7 171.6 1018.2 172.9 1027.1 174.2 1016.3 175.6 1033.1 176.9 1013.4 178.2 1033.9 179.5 1014.5 180.8 1022.0 182.1 1014.2 183.4 1022.6 184.7 1027.4 186.0 1031.4 187.3 1027.7 188.6 1038.2 189.9 1019.1 191.2 1036.4 192.5 1026.3 193.8 1038.4 195.1 1021.6 196.4 1034.1 197.7 1021.3 199.0 1039.0 200.3 1032.9 201.6 1043.3 202.9 1016.2 204.2 1039.4 205.5 1031.3 206.8 1038.6 208.1 1031.4 209.4 1047.4 210.7 1035.1 212.0 1047.8 213.3 1029.8 214.6 1039.2 215.9 1033.3 217.2 1032.6 218.5 1044.6 219.9 1031.7 221.2 1027.5 222.5 1035.2 223.8 1023.3 225.1 1039.9 226.4 1008.0 227.7 1045.3 229.0 1031.0 230.3 1019.5 231.6 1030.0 232.9 1038.7 234.2 1024.7 235.5 1040.2 236.8 1037.0 238.1 1044.4 239.4 1031.2 240.7 1045.4 242.0 1031.6 243.3 1038.3 244.6 1025.1 245.9 1037.7 247.2 1025.6 248.5 1032.0 249.8 1018.0 251.1 1035.0 252.4 1014.8 253.7 1024.0 255.0 1013.1 256.3 1019.0 257.6 1010.5 258.9 1019.8 260.2 1005.5 261.5 1012.4 262.8 997.3 264.2 1018.5 265.5 1004.0 266.8 1016.6 268.1 1007.0 269.4 1021.6 270.7 992.4 272.0 1010.4 273.3 1000.4 274.6 1014.1 275.9 1004.1 277.2 1012.2 278.5 1004.0 279.8 1016.2 281.1 1007.7 282.4 1011.0 283.7 1005.1 285.0 1021.9 286.3 1006.7 287.6 1018.6 288.9 1016.5 290.2 1026.2 291.5 1014.6 292.8 1026.9 294.1 1028.1 295.4 1039.6 296.7 1027.2 298.0 1031.1 299.3 1016.7 300.6 1032.8 301.9 1013.6 303.2 1034.1 304.5 1018.1 305.8 1025.5 307.1 1018.0 308.5 1024.9 309.8 1020.2 311.1 1029.4 312.4 1023.0 313.7 1031.4 315.0 1026.1 316.3 1051.7 317.6 1025.8 318.9 1046.3 320.2 1018.7 321.5 1042.7 322.8 1025.0 324.1 1029.5 325.4 1016.6 326.7 1021.2 328.0 1015.5 329.3 1027.5 330.6 1011.6 331.9 1032.4 333.2 1015.1 334.5 1035.7 335.8 1023.3 337.1 1027.7 338.4 1016.9 339.7 1030.3 341.0 1020.6 342.3 1028.4 343.6 1019.7 344.9 1030.2 346.2 1019.3 347.5 1021.5 348.8 1015.2 350.1 1025.6 351.4 1011.0 352.8 1011.9 354.1 1004.3 355.4 1001.8 356.7 994.2 358.0 1002.4 359.3 1000.7 360.6 1017.4 361.9 992.8 363.2 1011.6 364.5 1002.4 365.8 1012.1 367.1 1001.9 368.4 1018.9 369.7 1006.8 371.0 1016.1 372.3 1011.4 373.6 1019.9 374.9 1004.3 376.2 1025.4 377.5 1011.0 378.8 1020.8 380.1 1001.9 381.4 1024.8 382.7 1007.9 384.0 1014.5 385.3 1009.8 386.6 1022.8 387.9 1007.7 389.2 1014.8 390.5 1001.0 391.8 1018.6 393.1 1014.2 394.4 1022.3 395.7 1013.6 397.1 1027.5 398.4 1025.4 399.7 1032.1 401.0 1013.9 402.3 1026.0 403.6 1013.8 404.9 1025.1 406.2 1014.5 407.5 1022.5 408.8 1013.8 410.1 1029.2 411.4 1013.1 412.7 1024.7 414.0 1022.0 415.3 1029.9 416.6 1021.2 417.9 1029.9 419.2 1023.0 420.5 1026.8 421.8 1020.7 423.1 1028.4 424.4 1002.4 425.7 1029.2 427.0 1027.2 428.3 1026.4 429.6 1017.9 430.9 1022.3 432.2 1015.2 433.5 1021.9 434.8 1011.1 436.1 1025.8 437.4 1008.8 438.7 1020.2 440.0 1004.3 441.4 995.9 442.7 1005.0 444.0 1012.2 445.3 1005.7 446.6 1019.8 447.9 1007.6 449.2 1020.5 450.5 1011.5 451.8 995.0 453.1 1012.7 454.4 1025.4 455.7 1008.1 457.0 1014.6 458.3 996.9 459.6 1012.8 460.9 1003.0 462.2 1019.9 463.5 1014.1 464.8 1027.7 466.1 1016.2 467.4 1022.3 468.7 1017.3 470.0 1018.2 471.3 996.0 472.6 1020.5 473.9 1006.6 475.2 1014.6 476.5 1004.8 477.8 1020.5 479.1 1010.8 480.4 1019.3 481.7 1014.3 483.0 1022.4 484.3 1014.1 485.7 1018.3 487.0 1009.4 488.3 1022.5 489.6 1017.9 490.9 1022.0 492.2 1017.8 493.5 1024.8 494.8 1012.6 496.1 1021.8 497.4 1014.1 498.7 1032.5 500.0 1019.0 501.3 1017.5 502.6 1007.6 503.9 1015.4 505.2 1014.5 506.5 1019.3 507.8 997.8 509.1 1026.4 510.4 1016.4 511.7 1023.7 513.0 1006.6 514.3 1023.0 515.6 1017.2 516.9 1017.4 518.2 1002.2 519.5 1019.7 520.8 1009.1 522.1 1018.2 523.4 1012.2 524.7 1021.6 526.0 1004.1 527.3 1021.3 528.6 1011.4 530.0 1020.2 531.3 1006.9 532.6 1020.6 533.9 1016.1 535.2 1020.5 536.5 1008.2 537.8 1020.5 539.1 1011.0 540.4 1016.4 541.7 1013.6 543.0 1022.0 544.3 1008.9 545.6 1023.0 546.9 1011.6 548.2 1017.5 549.5 1009.3 550.8 1019.2 552.1 1006.2 553.4 1030.5 554.7 1001.2 556.0 1011.5 557.3 997.3 558.6 1022.4 559.9 998.5 561.2 1011.7 562.5 1003.8 563.8 1012.0 565.1 1009.3 566.4 995.9 567.7 1010.4 569.0 1014.5 570.3 1006.3 571.6 1016.6 572.9 1023.0 574.2 1038.3 575.6 1048.3 576.9 1037.6 578.2 1033.3 579.5 1039.2 580.8 1032.5 582.1 1036.2 583.4 1050.0 584.7 1035.2 586.0 1017.1 587.3 1047.2 588.6 1019.5 589.9 1031.2 591.2 1026.4 592.5 992.5 593.8 1029.1 595.1 1036.7 596.4 1003.0 597.7 1027.7 599.0 1000.4 600.3 1035.8 601.6 1017.0 602.9 1038.1 604.2 1021.1 605.5 1036.5 606.8 1011.7 608.1 1047.2 609.4 1050.2 610.7 1053.4 612.0 1049.9 613.3 1057.6 614.6 1033.9 615.9 1043.0" fill="none" stroke="#000" stroke-width="2.1" stroke-linejoin="round"/>
<line x1="354.2" y1="1165.5" x2="354.2" y2="889.2" stroke="#4fa872" stroke-width="1.6"/>
<rect x="354.2" y="1157.0" width="173.4" height="8.5" fill="#23904a"/>
<path d="M91.2 826.1V1165.5H617.2" fill="none" stroke="#3a3a3a" stroke-width="1.4"/>
<line x1="87.4" y1="1165.5" x2="91.2" y2="1165.5" stroke="#3a3a3a" stroke-width="1.4"/>
<text x="0" y="0" transform="translate(83.4,1171.1) scale(0.80,1)" text-anchor="end" font-size="14">0.0</text>
<line x1="87.4" y1="1108.9" x2="91.2" y2="1108.9" stroke="#3a3a3a" stroke-width="1.4"/>
<text x="0" y="0" transform="translate(83.4,1114.5) scale(0.80,1)" text-anchor="end" font-size="14">0.2</text>
<line x1="87.4" y1="1052.4" x2="91.2" y2="1052.4" stroke="#3a3a3a" stroke-width="1.4"/>
<text x="0" y="0" transform="translate(83.4,1058.0) scale(0.80,1)" text-anchor="end" font-size="14">0.4</text>
<line x1="87.4" y1="995.8" x2="91.2" y2="995.8" stroke="#3a3a3a" stroke-width="1.4"/>
<text x="0" y="0" transform="translate(83.4,1001.4) scale(0.80,1)" text-anchor="end" font-size="14">0.6</text>
<line x1="87.4" y1="939.3" x2="91.2" y2="939.3" stroke="#3a3a3a" stroke-width="1.4"/>
<text x="0" y="0" transform="translate(83.4,944.9) scale(0.80,1)" text-anchor="end" font-size="14">0.8</text>
<line x1="87.4" y1="882.7" x2="91.2" y2="882.7" stroke="#3a3a3a" stroke-width="1.4"/>
<text x="0" y="0" transform="translate(83.4,888.3) scale(0.80,1)" text-anchor="end" font-size="14">1.0</text>
<line x1="87.4" y1="826.1" x2="91.2" y2="826.1" stroke="#3a3a3a" stroke-width="1.4"/>
<text x="0" y="0" transform="translate(83.4,831.7) scale(0.80,1)" text-anchor="end" font-size="14">1.2</text>
<line x1="120.0" y1="1165.5" x2="120.0" y2="1170.5" stroke="#3a3a3a" stroke-width="1.4"/>
<text x="0" y="0" transform="translate(120.0,1186.5) scale(0.794,1)" text-anchor="middle" font-size="14">−40</text>
<line x1="178.5" y1="1165.5" x2="178.5" y2="1170.5" stroke="#3a3a3a" stroke-width="1.4"/>
<text x="0" y="0" transform="translate(178.5,1186.5) scale(0.794,1)" text-anchor="middle" font-size="14">−30</text>
<line x1="237.0" y1="1165.5" x2="237.0" y2="1170.5" stroke="#3a3a3a" stroke-width="1.4"/>
<text x="0" y="0" transform="translate(237.0,1186.5) scale(0.794,1)" text-anchor="middle" font-size="14">−20</text>
<line x1="295.5" y1="1165.5" x2="295.5" y2="1170.5" stroke="#3a3a3a" stroke-width="1.4"/>
<text x="0" y="0" transform="translate(295.5,1186.5) scale(0.794,1)" text-anchor="middle" font-size="14">−10</text>
<line x1="354.0" y1="1165.5" x2="354.0" y2="1170.5" stroke="#3a3a3a" stroke-width="1.4"/>
<text x="0" y="0" transform="translate(354.0,1186.5) scale(0.794,1)" text-anchor="middle" font-size="14">0</text>
<line x1="412.5" y1="1165.5" x2="412.5" y2="1170.5" stroke="#3a3a3a" stroke-width="1.4"/>
<text x="0" y="0" transform="translate(412.5,1186.5) scale(0.794,1)" text-anchor="middle" font-size="14">10</text>
<line x1="471.0" y1="1165.5" x2="471.0" y2="1170.5" stroke="#3a3a3a" stroke-width="1.4"/>
<text x="0" y="0" transform="translate(471.0,1186.5) scale(0.794,1)" text-anchor="middle" font-size="14">20</text>
<line x1="529.5" y1="1165.5" x2="529.5" y2="1170.5" stroke="#3a3a3a" stroke-width="1.4"/>
<text x="0" y="0" transform="translate(529.5,1186.5) scale(0.794,1)" text-anchor="middle" font-size="14">30</text>
<line x1="588.0" y1="1165.5" x2="588.0" y2="1170.5" stroke="#3a3a3a" stroke-width="1.4"/>
<text x="0" y="0" transform="translate(588.0,1186.5) scale(0.794,1)" text-anchor="middle" font-size="14">40</text>
<text class="ti" transform="translate(359.0,858.9) scale(1,1.02)" text-anchor="middle">Afternoon, Once</text>
<path d="M665.4 970.4 666.7 958.0 668.0 943.7 669.3 932.3 670.6 944.5 671.9 953.3 673.2 954.4 674.5 949.4 675.8 945.7 677.1 952.9 678.4 963.4 679.7 957.4 681.0 967.8 682.3 962.9 683.6 972.6 684.9 968.2 686.2 971.4 687.5 962.1 688.8 970.0 690.1 957.1 691.4 971.0 692.7 950.7 694.0 968.7 695.3 958.2 696.6 971.3 697.9 968.9 699.2 969.7 700.5 956.9 701.8 972.2 703.1 960.8 704.5 972.8 705.8 963.5 707.1 974.0 708.4 964.1 709.7 969.4 711.0 962.8 712.3 970.7 713.6 961.2 714.9 967.3 716.2 961.9 717.5 967.6 718.8 958.5 720.1 970.1 721.4 960.5 722.7 969.5 724.0 966.4 725.3 973.5 726.6 964.4 727.9 983.6 729.2 971.3 730.5 977.9 731.8 972.0 733.1 980.1 734.4 973.6 735.7 979.1 737.0 969.4 738.3 985.1 739.6 973.8 740.9 988.9 742.2 970.1 743.5 979.0 744.8 976.3 746.1 981.2 747.4 965.5 748.7 980.5 750.0 972.1 751.3 983.6 752.6 956.5 753.9 977.1 755.2 969.2 756.5 982.2 757.8 971.8 759.1 978.7 760.4 974.1 761.8 970.0 763.1 970.6 764.4 982.4 765.7 969.0 767.0 977.0 768.3 968.7 769.6 976.1 770.9 972.0 772.2 980.5 773.5 964.6 774.8 972.4 776.1 965.9 777.4 975.8 778.7 969.4 780.0 973.9 781.3 971.9 782.6 963.4 783.9 944.3 785.2 964.9 786.5 979.3 787.8 986.8 789.1 982.2 790.4 986.5 791.7 974.0 793.0 983.4 794.3 973.8 795.6 978.0 796.9 969.2 798.2 978.6 799.5 966.2 800.8 968.8 802.1 962.9 803.4 972.2 804.7 963.8 806.0 978.8 807.3 975.9 808.6 982.0 809.9 975.8 811.2 980.4 812.5 968.8 813.8 975.7 815.1 977.7 816.4 984.3 817.7 971.6 819.0 979.6 820.4 969.1 821.7 977.0 823.0 961.4 824.3 978.1 825.6 969.5 826.9 972.0 828.2 964.1 829.5 976.1 830.8 968.7 832.1 979.5 833.4 968.0 834.7 984.0 836.0 974.5 837.3 983.3 838.6 971.2 839.9 978.8 841.2 975.4 842.5 985.5 843.8 977.7 845.1 984.4 846.4 977.3 847.7 986.1 849.0 978.6 850.3 985.5 851.6 981.0 852.9 986.3 854.2 970.4 855.5 983.6 856.8 977.6 858.1 984.2 859.4 973.3 860.7 980.4 862.0 993.6 863.3 983.9 864.6 988.5 865.9 979.7 867.2 976.4 868.5 996.1 869.8 963.5 871.1 980.5 872.4 974.3 873.7 980.0 875.0 970.2 876.3 982.9 877.6 971.7 879.0 982.4 880.3 976.3 881.6 980.9 882.9 976.5 884.2 980.4 885.5 959.5 886.8 977.9 888.1 972.5 889.4 987.0 890.7 966.9 892.0 979.0 893.3 971.6 894.6 988.6 895.9 971.3 897.2 978.0 898.5 965.4 899.8 982.2 901.1 975.0 902.4 986.3 903.7 968.8 905.0 980.7 906.3 973.9 907.6 980.3 908.9 970.5 910.2 981.6 911.5 975.7 912.8 977.7 914.1 973.2 915.4 976.8 916.7 976.2 918.0 982.6 919.3 975.1 920.6 983.2 921.9 942.5 923.2 905.4 924.5 945.3 925.8 944.1 927.1 939.5 928.4 941.5 929.7 917.4 931.0 943.4 932.3 963.7 933.6 968.0 934.9 952.6 936.3 966.2 937.6 955.2 938.9 971.9 940.2 958.3 941.5 970.0 942.8 964.6 944.1 974.4 945.4 966.2 946.7 975.5 948.0 964.5 949.3 980.3 950.6 960.4 951.9 976.6 953.2 975.4 954.5 977.7 955.8 976.3 957.1 984.9 958.4 975.8 959.7 985.2 961.0 973.9 962.3 986.5 963.6 970.9 964.9 984.1 966.2 976.5 967.5 990.2 968.8 996.5 970.1 984.2 971.4 981.5 972.7 991.5 974.0 981.4 975.3 987.0 976.6 974.1 977.9 961.5 979.2 941.3 980.5 963.0 981.8 980.8 983.1 986.0 984.4 977.4 985.7 981.8 987.0 979.5 988.3 986.8 989.6 979.4 990.9 985.1 992.2 978.9 993.5 983.0 994.9 966.3 996.2 987.8 997.5 975.3 998.8 982.9 1000.1 988.6 1001.4 984.9 1002.7 976.4 1004.0 980.3 1005.3 970.3 1006.6 974.8 1007.9 966.7 1009.2 969.7 1010.5 954.1 1011.8 964.1 1013.1 957.5 1014.4 972.2 1015.7 962.4 1017.0 977.5 1018.3 977.0 1019.6 985.3 1020.9 977.2 1022.2 960.8 1023.5 978.5 1024.8 984.2 1026.1 975.4 1027.4 992.3 1028.7 983.4 1030.0 986.9 1031.3 982.0 1032.6 992.8 1033.9 984.1 1035.2 988.9 1036.5 980.1 1037.8 989.6 1039.1 981.6 1040.4 990.4 1041.7 978.6 1043.0 991.0 1044.3 982.2 1045.6 978.3 1046.9 965.3 1048.2 979.3 1049.5 982.2 1050.8 988.2 1052.1 982.4 1053.5 988.4 1054.8 983.8 1056.1 990.0 1057.4 978.4 1058.7 985.8 1060.0 976.0 1061.3 986.9 1062.6 981.1 1063.9 996.7 1065.2 981.9 1066.5 987.1 1067.8 983.0 1069.1 989.5 1070.4 979.7 1071.7 987.6 1073.0 983.9 1074.3 988.3 1075.6 980.5 1076.9 988.1 1078.2 981.0 1079.5 985.7 1080.8 980.1 1082.1 1009.2 1083.4 981.8 1084.7 982.7 1086.0 977.1 1087.3 987.7 1088.6 981.5 1089.9 966.6 1091.2 947.3 1092.5 968.1 1093.8 979.3 1095.1 983.7 1096.4 978.6 1097.7 980.3 1099.0 969.5 1100.3 979.7 1101.6 975.5 1102.9 985.0 1104.2 971.9 1105.5 986.4 1106.8 975.8 1108.1 986.7 1109.4 975.6 1110.7 982.5 1112.1 972.0 1113.4 981.8 1114.7 970.5 1116.0 980.0 1117.3 967.8 1118.6 982.2 1119.9 974.2 1121.2 980.6 1122.5 966.9 1123.8 985.3 1125.1 974.2 1126.4 981.1 1127.7 974.7 1129.0 979.2 1130.3 972.0 1131.6 974.9 1132.9 965.8 1134.2 970.9 1135.5 962.7 1136.8 934.4 1138.1 896.5 1139.4 937.3 1140.7 962.1 1142.0 965.2 1143.3 959.9 1144.6 969.9 1145.9 962.0 1147.2 974.4 1148.5 960.0 1149.8 972.0 1151.1 961.3 1152.4 971.8 1153.7 963.9 1155.0 959.6 1156.3 956.3 1157.6 959.8 1158.9 961.6 1160.2 972.9 1161.5 963.5 1162.8 975.3 1164.1 969.2 1165.4 982.7 1166.7 975.9 1168.0 985.1 1169.4 985.5 1170.7 987.5 1172.0 979.1 1173.3 983.6 1174.6 976.5 1175.9 982.3 1177.2 976.4 1178.5 989.4 1179.8 982.6 1181.1 994.1 1182.4 983.0 1183.7 987.8 1185.0 985.7" fill="none" stroke="#c4c4c4" stroke-width="1.9" stroke-linejoin="round"/>
<path d="M665.4 1031.7 666.7 1025.9 668.0 1022.8 669.3 1024.8 670.6 1032.5 671.9 1025.7 673.2 1031.2 674.5 1012.2 675.8 1030.8 677.1 1019.2 678.4 1027.4 679.7 1035.0 681.0 1027.1 682.3 1017.6 683.6 1029.2 684.9 1017.7 686.2 1032.0 687.5 1028.0 688.8 1032.4 690.1 1026.9 691.4 1036.2 692.7 1023.5 694.0 1029.3 695.3 1025.2 696.6 1028.6 697.9 1018.6 699.2 1028.8 700.5 1013.0 701.8 1024.7 703.1 1015.5 704.5 1029.5 705.8 1019.4 707.1 1028.9 708.4 1022.7 709.7 1029.4 711.0 1020.1 712.3 1023.2 713.6 1018.5 714.9 1035.8 716.2 1018.9 717.5 1028.1 718.8 1018.5 720.1 1028.6 721.4 1022.5 722.7 1035.4 724.0 1020.1 725.3 1023.7 726.6 1019.7 727.9 1023.2 729.2 1014.7 730.5 1022.8 731.8 1020.2 733.1 1024.8 734.4 1019.8 735.7 1025.8 737.0 1022.9 738.3 1026.7 739.6 1016.3 740.9 1029.5 742.2 1020.9 743.5 1034.2 744.8 1024.0 746.1 1034.6 747.4 1029.8 748.7 1033.8 750.0 1025.5 751.3 1035.9 752.6 1025.9 753.9 1040.9 755.2 1026.1 756.5 1032.2 757.8 1022.7 759.1 1031.4 760.4 1017.2 761.8 1034.9 763.1 1026.5 764.4 1034.4 765.7 1027.4 767.0 1053.4 768.3 1028.8 769.6 1034.8 770.9 1026.7 772.2 1040.4 773.5 1026.5 774.8 1034.7 776.1 1023.5 777.4 1036.0 778.7 1026.8 780.0 1037.8 781.3 1031.6 782.6 1045.2 783.9 1038.5 785.2 1041.4 786.5 1036.9 787.8 1037.9 789.1 1032.7 790.4 1029.0 791.7 1032.8 793.0 1038.3 794.3 1031.4 795.6 1032.6 796.9 1025.5 798.2 1031.8 799.5 1025.8 800.8 1029.7 802.1 1024.2 803.4 1029.2 804.7 1023.5 806.0 1029.7 807.3 1014.4 808.6 1027.5 809.9 1019.5 811.2 1026.3 812.5 1021.0 813.8 1026.1 815.1 1018.2 816.4 1026.9 817.7 1022.7 819.0 1030.5 820.4 1027.7 821.7 1030.4 823.0 1021.0 824.3 1034.4 825.6 1027.4 826.9 1040.3 828.2 1028.9 829.5 1033.9 830.8 1029.1 832.1 1033.9 833.4 1012.4 834.7 1037.6 836.0 1027.9 837.3 1032.5 838.6 1027.4 839.9 1032.1 841.2 1024.0 842.5 1037.0 843.8 1027.9 845.1 1036.9 846.4 1026.9 847.7 1036.0 849.0 1019.4 850.3 1037.3 851.6 1031.7 852.9 1037.6 854.2 1029.4 855.5 1038.4 856.8 1026.2 858.1 1040.1 859.4 1030.9 860.7 1040.6 862.0 1036.1 863.3 1034.8 864.6 1029.5 865.9 1038.0 867.2 1033.7 868.5 1042.7 869.8 1023.8 871.1 1036.0 872.4 1031.7 873.7 1045.5 875.0 1026.6 876.3 1031.9 877.6 1033.3 879.0 1030.6 880.3 1019.7 881.6 1033.7 882.9 1023.8 884.2 1032.1 885.5 1021.1 886.8 1033.6 888.1 1022.6 889.4 1028.6 890.7 1022.0 892.0 1027.8 893.3 1019.2 894.6 1030.0 895.9 1016.6 897.2 1031.0 898.5 1023.2 899.8 1030.3 901.1 1030.5 902.4 1033.7 903.7 1030.0 905.0 1034.9 906.3 1032.4 907.6 1035.4 908.9 1029.6 910.2 1032.5 911.5 1029.2 912.8 1035.1 914.1 1030.4 915.4 1042.7 916.7 1038.1 918.0 1054.1 919.3 1046.4 920.6 1053.4 921.9 1062.5 923.2 1052.7 924.5 1031.5 925.8 1024.3 927.1 1013.4 928.4 1025.1 929.7 1020.6 931.0 1027.7 932.3 1018.5 933.6 1021.5 934.9 1018.7 936.3 1031.2 937.6 1016.9 938.9 1024.3 940.2 1013.7 941.5 1028.5 942.8 1016.6 944.1 1022.7 945.4 1026.1 946.7 1036.7 948.0 1034.1 949.3 1037.5 950.6 1032.0 951.9 1037.3 953.2 1025.1 954.5 1030.7 955.8 1016.9 957.1 1026.6 958.4 1021.2 959.7 1023.3 961.0 1019.8 962.3 1026.5 963.6 1021.5 964.9 1031.4 966.2 1019.8 967.5 1032.4 968.8 1020.9 970.1 1023.3 971.4 1015.1 972.7 1020.8 974.0 1011.4 975.3 1024.6 976.6 1020.6 977.9 1034.7 979.2 1033.6 980.5 1040.5 981.8 1035.9 983.1 1037.8 984.4 1029.8 985.7 1037.6 987.0 1027.9 988.3 1039.3 989.6 1032.8 990.9 1040.6 992.2 1025.1 993.5 1034.9 994.9 1026.9 996.2 1038.4 997.5 1029.4 998.8 1036.7 1000.1 1041.7 1001.4 1037.2 1002.7 1037.3 1004.0 1039.6 1005.3 1036.6 1006.6 1040.8 1007.9 1037.3 1009.2 1042.3 1010.5 1035.8 1011.8 1041.7 1013.1 1025.6 1014.4 1040.3 1015.7 1031.7 1017.0 1040.3 1018.3 1033.4 1019.6 1036.5 1020.9 1029.0 1022.2 1042.0 1023.5 1032.9 1024.8 1046.1 1026.1 1032.7 1027.4 1044.0 1028.7 1034.8 1030.0 1045.9 1031.3 1044.6 1032.6 1047.0 1033.9 1041.7 1035.2 1053.0 1036.5 1042.4 1037.8 1044.7 1039.1 1039.6 1040.4 1048.0 1041.7 1040.8 1043.0 1047.4 1044.3 1040.1 1045.6 1038.3 1046.9 1057.6 1048.2 1047.3 1049.5 1040.4 1050.8 1047.0 1052.1 1037.5 1053.5 1048.1 1054.8 1036.9 1056.1 1044.4 1057.4 1039.3 1058.7 1045.9 1060.0 1034.8 1061.3 1045.1 1062.6 1040.0 1063.9 1045.8 1065.2 1037.0 1066.5 1044.9 1067.8 1035.8 1069.1 1044.1 1070.4 1038.1 1071.7 1047.7 1073.0 1036.3 1074.3 1043.5 1075.6 1033.6 1076.9 1051.0 1078.2 1035.1 1079.5 1037.7 1080.8 1031.1 1082.1 1046.0 1083.4 1031.3 1084.7 1033.0 1086.0 1027.6 1087.3 1040.1 1088.6 1033.6 1089.9 1042.0 1091.2 1038.3 1092.5 1039.5 1093.8 1031.8 1095.1 1035.0 1096.4 1020.0 1097.7 1031.3 1099.0 1028.3 1100.3 1028.5 1101.6 1021.2 1102.9 1033.2 1104.2 1025.3 1105.5 1033.8 1106.8 1025.3 1108.1 1034.9 1109.4 1019.5 1110.7 1030.5 1112.1 1026.8 1113.4 1036.3 1114.7 1024.9 1116.0 1031.4 1117.3 1025.0 1118.6 1029.7 1119.9 1016.0 1121.2 1029.7 1122.5 1024.4 1123.8 1030.0 1125.1 1024.9 1126.4 1034.4 1127.7 1027.0 1129.0 1030.4 1130.3 1028.1 1131.6 1036.1 1132.9 1023.3 1134.2 1035.9 1135.5 1026.9 1136.8 1042.3 1138.1 1067.0 1139.4 1040.4 1140.7 1030.1 1142.0 1035.2 1143.3 1021.6 1144.6 1039.8 1145.9 1024.5 1147.2 1035.5 1148.5 1024.8 1149.8 1035.6 1151.1 1016.0 1152.4 1026.8 1153.7 1017.4 1155.0 1027.1 1156.3 1022.4 1157.6 1030.8 1158.9 1023.4 1160.2 1011.7 1161.5 1024.9 1162.8 1032.6 1164.1 1024.1 1165.4 1034.0 1166.7 1023.4 1168.0 1033.6 1169.4 1028.1 1170.7 1035.3 1172.0 1032.3 1173.3 1044.6 1174.6 1035.7 1175.9 1047.7 1177.2 1038.4 1178.5 1042.1 1179.8 1032.3 1181.1 1038.8 1182.4 1034.5 1183.7 1038.3 1185.0 1028.2" fill="none" stroke="#c4c4c4" stroke-width="1.9" stroke-linejoin="round"/>
<path d="M665.4 1000.6 666.7 994.9 668.0 996.2 669.3 983.2 670.6 997.2 671.9 992.9 673.2 997.4 674.5 991.0 675.8 998.2 677.1 994.6 678.4 1005.3 679.7 993.4 681.0 1004.3 682.3 995.1 683.6 1005.0 684.9 999.8 686.2 1004.3 687.5 998.0 688.8 1012.2 690.1 999.3 691.4 994.2 692.7 983.2 694.0 995.0 695.3 1002.3 696.6 1008.0 697.9 1001.3 699.2 1014.2 700.5 1000.0 701.8 1005.6 703.1 1000.7 704.5 1002.0 705.8 997.6 707.1 1004.7 708.4 999.9 709.7 1002.0 711.0 995.1 712.3 1001.9 713.6 1007.7 714.9 1000.9 716.2 997.3 717.5 1004.2 718.8 993.2 720.1 1004.2 721.4 997.2 722.7 1003.3 724.0 999.1 725.3 1003.6 726.6 1002.1 727.9 1008.4 729.2 1001.3 730.5 1006.1 731.8 1003.1 733.1 1007.5 734.4 1003.0 735.7 1005.0 737.0 1003.0 738.3 1005.3 739.6 1002.1 740.9 1016.8 742.2 1001.3 743.5 1009.7 744.8 998.6 746.1 1004.6 747.4 1001.7 748.7 1005.1 750.0 1004.7 751.3 1002.5 752.6 999.3 753.9 1010.5 755.2 1000.9 756.5 1005.8 757.8 1003.0 759.1 1006.2 760.4 1002.1 761.8 1005.0 763.1 1002.2 764.4 1007.3 765.7 999.4 767.0 1004.7 768.3 997.2 769.6 1005.4 770.9 1002.3 772.2 1004.6 773.5 999.3 774.8 1001.6 776.1 997.9 777.4 1004.1 778.7 1000.2 780.0 1005.9 781.3 1004.9 782.6 1012.2 783.9 1002.7 785.2 1010.3 786.5 1005.8 787.8 1007.5 789.1 1005.0 790.4 1009.1 791.7 1003.7 793.0 1006.0 794.3 1000.7 795.6 1004.3 796.9 994.4 798.2 999.2 799.5 990.0 800.8 996.0 802.1 991.1 803.4 998.2 804.7 994.6 806.0 1000.3 807.3 996.7 808.6 1005.2 809.9 996.2 811.2 1000.8 812.5 998.1 813.8 1002.3 815.1 1003.2 816.4 1006.2 817.7 996.0 819.0 1002.1 820.4 993.5 821.7 1003.9 823.0 995.4 824.3 1002.5 825.6 995.4 826.9 1001.6 828.2 998.2 829.5 1002.5 830.8 996.3 832.1 1005.6 833.4 1001.9 834.7 1004.8 836.0 1001.8 837.3 1007.5 838.6 1000.0 839.9 1003.3 841.2 1001.0 842.5 1005.2 843.8 1001.6 845.1 1007.3 846.4 1003.7 847.7 1012.5 849.0 1004.9 850.3 1005.9 851.6 1002.1 852.9 1006.5 854.2 1003.7 855.5 1009.3 856.8 1005.1 858.1 1005.4 859.4 1004.9 860.7 1007.4 862.0 1004.3 863.3 1008.8 864.6 999.8 865.9 993.2 867.2 999.4 868.5 1004.5 869.8 995.3 871.1 1014.8 872.4 997.8 873.7 1001.2 875.0 996.1 876.3 1000.8 877.6 995.3 879.0 1001.1 880.3 997.4 881.6 1003.2 882.9 993.6 884.2 1002.3 885.5 994.8 886.8 1001.0 888.1 995.6 889.4 1000.9 890.7 1001.1 892.0 1006.4 893.3 995.6 894.6 1007.0 895.9 1000.6 897.2 1002.6 898.5 998.3 899.8 1001.5 901.1 993.4 902.4 1000.7 903.7 1000.9 905.0 1000.9 906.3 995.9 907.6 1003.9 908.9 999.6 910.2 1007.6 911.5 1001.4 912.8 1005.7 914.1 1000.1 915.4 1006.6 916.7 1001.1 918.0 1008.1 919.3 1003.5 920.6 1006.0 921.9 989.5 923.2 987.2 924.5 984.6 925.8 974.2 927.1 985.4 928.4 990.7 929.7 983.3 931.0 992.1 932.3 987.8 933.6 992.8 934.9 992.5 936.3 998.9 937.6 995.4 938.9 1003.5 940.2 996.8 941.5 1000.2 942.8 997.3 944.1 1005.0 945.4 998.5 946.7 1003.0 948.0 998.8 949.3 1003.6 950.6 999.7 951.9 1004.8 953.2 998.7 954.5 1004.4 955.8 1000.8 957.1 1004.8 958.4 1003.1 959.7 1008.8 961.0 1003.3 962.3 1005.1 963.6 1002.0 964.9 1006.1 966.2 1011.1 967.5 1003.1 968.8 1001.2 970.1 1002.4 971.4 996.1 972.7 1010.7 974.0 997.4 975.3 1001.8 976.6 998.1 977.9 999.2 979.2 992.2 980.5 999.7 981.8 1003.8 983.1 1012.0 984.4 1007.2 985.7 1012.3 987.0 998.2 988.3 1011.6 989.6 1004.6 990.9 1012.2 992.2 1007.1 993.5 1013.2 994.9 1006.1 996.2 1014.8 997.5 1006.1 998.8 1012.2 1000.1 1006.9 1001.4 1011.2 1002.7 1008.6 1004.0 1012.7 1005.3 1005.6 1006.6 1008.3 1007.9 996.1 1009.2 1003.5 1010.5 998.1 1011.8 999.5 1013.1 999.4 1014.4 1003.5 1015.7 1003.4 1017.0 1009.8 1018.3 1003.3 1019.6 1010.6 1020.9 1006.4 1022.2 1013.7 1023.5 1007.4 1024.8 1014.6 1026.1 1010.6 1027.4 1020.3 1028.7 1010.3 1030.0 1018.0 1031.3 1017.8 1032.6 1017.0 1033.9 1012.6 1035.2 1017.4 1036.5 1012.3 1037.8 1016.8 1039.1 1012.7 1040.4 1014.6 1041.7 1010.9 1043.0 1014.8 1044.3 1011.3 1045.6 1016.0 1046.9 1012.3 1048.2 1018.8 1049.5 1012.5 1050.8 1014.5 1052.1 1020.0 1053.5 1017.1 1054.8 1011.0 1056.1 1018.9 1057.4 1010.9 1058.7 1018.7 1060.0 1012.1 1061.3 1021.9 1062.6 1014.9 1063.9 1017.1 1065.2 1013.3 1066.5 1017.0 1067.8 1022.1 1069.1 1018.2 1070.4 1010.4 1071.7 1018.4 1073.0 1012.9 1074.3 1021.2 1075.6 1014.3 1076.9 1022.0 1078.2 1015.3 1079.5 1014.9 1080.8 1008.4 1082.1 1014.9 1083.4 1004.5 1084.7 1012.6 1086.0 1009.6 1087.3 1005.3 1088.6 998.3 1089.9 1001.4 1091.2 995.3 1092.5 1001.8 1093.8 996.1 1095.1 1003.7 1096.4 998.6 1097.7 1004.7 1099.0 1003.1 1100.3 1009.8 1101.6 1003.1 1102.9 1009.7 1104.2 1006.2 1105.5 1010.9 1106.8 1002.6 1108.1 1010.5 1109.4 1007.5 1110.7 1010.9 1112.1 1007.7 1113.4 1011.2 1114.7 1002.9 1116.0 1008.6 1117.3 1006.1 1118.6 1009.3 1119.9 1003.7 1121.2 1009.1 1122.5 1005.6 1123.8 1006.5 1125.1 1002.0 1126.4 1005.8 1127.7 1001.2 1129.0 1005.6 1130.3 1004.6 1131.6 1005.1 1132.9 1002.0 1134.2 1006.2 1135.5 1000.1 1136.8 992.1 1138.1 980.2 1139.4 993.0 1140.7 998.6 1142.0 1013.7 1143.3 1000.9 1144.6 991.3 1145.9 998.6 1147.2 1002.0 1148.5 999.3 1149.8 1004.8 1151.1 998.6 1152.4 1003.7 1153.7 1000.4 1155.0 1006.8 1156.3 994.2 1157.6 1005.5 1158.9 998.7 1160.2 1002.3 1161.5 994.4 1162.8 1001.3 1164.1 986.3 1165.4 1007.2 1166.7 1006.5 1168.0 1021.1 1169.4 1007.4 1170.7 1017.1 1172.0 1006.2 1173.3 1017.1 1174.6 1010.5 1175.9 1015.6 1177.2 1012.1 1178.5 1015.9 1179.8 998.1 1181.1 1013.2 1182.4 1002.5 1183.7 1024.2 1185.0 1018.9" fill="none" stroke="#000" stroke-width="2.1" stroke-linejoin="round"/>
<line x1="924.8" y1="1162.0" x2="924.8" y2="886.1" stroke="#3a8a62" stroke-width="1.4"/>
<rect x="924.8" y="1153.8" width="86.6" height="8.2" fill="#23904a"/>
<path d="M664.6 832.1V1162.0H1184.8" fill="none" stroke="#3a3a3a" stroke-width="1.4"/>
<line x1="660.8" y1="1162.0" x2="664.6" y2="1162.0" stroke="#3a3a3a" stroke-width="1.4"/>
<text x="0" y="0" transform="translate(656.8,1167.6) scale(0.80,1)" text-anchor="end" font-size="14">0.0</text>
<line x1="660.8" y1="1107.0" x2="664.6" y2="1107.0" stroke="#3a3a3a" stroke-width="1.4"/>
<text x="0" y="0" transform="translate(656.8,1112.6) scale(0.80,1)" text-anchor="end" font-size="14">0.2</text>
<line x1="660.8" y1="1052.0" x2="664.6" y2="1052.0" stroke="#3a3a3a" stroke-width="1.4"/>
<text x="0" y="0" transform="translate(656.8,1057.6) scale(0.80,1)" text-anchor="end" font-size="14">0.4</text>
<line x1="660.8" y1="997.1" x2="664.6" y2="997.1" stroke="#3a3a3a" stroke-width="1.4"/>
<text x="0" y="0" transform="translate(656.8,1002.7) scale(0.80,1)" text-anchor="end" font-size="14">0.6</text>
<line x1="660.8" y1="942.1" x2="664.6" y2="942.1" stroke="#3a3a3a" stroke-width="1.4"/>
<text x="0" y="0" transform="translate(656.8,947.7) scale(0.80,1)" text-anchor="end" font-size="14">0.8</text>
<line x1="660.8" y1="887.1" x2="664.6" y2="887.1" stroke="#3a3a3a" stroke-width="1.4"/>
<text x="0" y="0" transform="translate(656.8,892.7) scale(0.80,1)" text-anchor="end" font-size="14">1.0</text>
<line x1="660.8" y1="832.1" x2="664.6" y2="832.1" stroke="#3a3a3a" stroke-width="1.4"/>
<text x="0" y="0" transform="translate(656.8,837.7) scale(0.80,1)" text-anchor="end" font-size="14">1.2</text>
<line x1="693.3" y1="1162.0" x2="693.3" y2="1167.0" stroke="#3a3a3a" stroke-width="1.4"/>
<text x="0" y="0" transform="translate(693.3,1183.0) scale(0.794,1)" text-anchor="middle" font-size="14">−40</text>
<line x1="751.1" y1="1162.0" x2="751.1" y2="1167.0" stroke="#3a3a3a" stroke-width="1.4"/>
<text x="0" y="0" transform="translate(751.1,1183.0) scale(0.794,1)" text-anchor="middle" font-size="14">−30</text>
<line x1="808.9" y1="1162.0" x2="808.9" y2="1167.0" stroke="#3a3a3a" stroke-width="1.4"/>
<text x="0" y="0" transform="translate(808.9,1183.0) scale(0.794,1)" text-anchor="middle" font-size="14">−20</text>
<line x1="866.8" y1="1162.0" x2="866.8" y2="1167.0" stroke="#3a3a3a" stroke-width="1.4"/>
<text x="0" y="0" transform="translate(866.8,1183.0) scale(0.794,1)" text-anchor="middle" font-size="14">−10</text>
<line x1="924.6" y1="1162.0" x2="924.6" y2="1167.0" stroke="#3a3a3a" stroke-width="1.4"/>
<text x="0" y="0" transform="translate(924.6,1183.0) scale(0.794,1)" text-anchor="middle" font-size="14">0</text>
<line x1="982.4" y1="1162.0" x2="982.4" y2="1167.0" stroke="#3a3a3a" stroke-width="1.4"/>
<text x="0" y="0" transform="translate(982.4,1183.0) scale(0.794,1)" text-anchor="middle" font-size="14">10</text>
<line x1="1040.3" y1="1162.0" x2="1040.3" y2="1167.0" stroke="#3a3a3a" stroke-width="1.4"/>
<text x="0" y="0" transform="translate(1040.3,1183.0) scale(0.794,1)" text-anchor="middle" font-size="14">20</text>
<line x1="1098.1" y1="1162.0" x2="1098.1" y2="1167.0" stroke="#3a3a3a" stroke-width="1.4"/>
<text x="0" y="0" transform="translate(1098.1,1183.0) scale(0.794,1)" text-anchor="middle" font-size="14">30</text>
<line x1="1155.9" y1="1162.0" x2="1155.9" y2="1167.0" stroke="#3a3a3a" stroke-width="1.4"/>
<text x="0" y="0" transform="translate(1155.9,1183.0) scale(0.794,1)" text-anchor="middle" font-size="14">40</text>
<text class="ti" transform="translate(920.3,860.6) scale(1,1.02)" text-anchor="middle">Afternoon, Twice</text>
<path d="M1236.5 1020.6 1237.8 1003.9 1239.1 1002.7 1240.4 989.2 1241.7 984.6 1243.0 973.1 1244.3 973.7 1245.6 963.0 1246.9 964.5 1248.2 957.6 1249.5 962.6 1250.8 952.3 1252.1 951.2 1253.4 946.4 1254.7 955.2 1256.0 950.7 1257.3 951.5 1258.6 944.3 1259.9 952.0 1261.2 959.9 1262.5 967.7 1263.8 960.6 1265.1 966.4 1266.4 961.9 1267.7 969.2 1269.0 964.5 1270.3 942.8 1271.6 966.2 1272.9 976.8 1274.2 974.2 1275.5 983.1 1276.8 982.0 1278.1 986.7 1279.4 981.4 1280.7 993.9 1282.0 983.2 1283.3 994.1 1284.6 981.7 1285.9 993.7 1287.2 988.9 1288.5 993.4 1289.8 985.1 1291.1 994.7 1292.4 989.3 1293.7 992.4 1295.0 989.4 1296.3 990.6 1297.6 986.2 1298.9 988.9 1300.2 989.2 1301.5 994.5 1302.8 986.1 1304.2 988.0 1305.5 982.4 1306.8 991.5 1308.1 985.0 1309.4 996.7 1310.7 978.8 1312.0 989.7 1313.3 974.7 1314.6 984.2 1315.9 971.5 1317.2 983.1 1318.5 973.3 1319.8 981.6 1321.1 974.7 1322.4 972.1 1323.7 971.0 1325.0 975.4 1326.3 968.3 1327.6 973.0 1328.9 968.3 1330.2 972.1 1331.5 967.6 1332.8 973.8 1334.1 972.2 1335.4 975.3 1336.7 971.3 1338.0 974.8 1339.3 967.2 1340.6 973.4 1341.9 964.0 1343.2 974.6 1344.5 966.4 1345.8 971.5 1347.1 968.8 1348.4 972.6 1349.7 966.6 1351.0 971.7 1352.3 963.3 1353.6 978.9 1354.9 974.1 1356.2 984.7 1357.5 981.4 1358.8 987.4 1360.1 984.2 1361.4 988.3 1362.7 979.2 1364.0 983.0 1365.3 975.4 1366.6 983.1 1367.9 976.2 1369.2 983.1 1370.5 971.4 1371.8 979.0 1373.1 970.1 1374.4 979.2 1375.7 971.3 1377.0 980.2 1378.3 974.6 1379.6 981.4 1380.9 967.9 1382.2 976.4 1383.5 971.3 1384.8 977.8 1386.1 972.6 1387.4 986.8 1388.7 969.8 1390.0 950.3 1391.3 971.3 1392.6 992.3 1393.9 976.8 1395.2 984.5 1396.5 977.9 1397.8 985.5 1399.1 980.0 1400.4 984.8 1401.7 981.5 1403.0 983.5 1404.3 974.3 1405.6 982.2 1406.9 974.1 1408.2 982.0 1409.6 972.6 1410.9 978.8 1412.2 973.9 1413.5 981.6 1414.8 973.9 1416.1 981.3 1417.4 976.1 1418.7 985.9 1420.0 976.7 1421.3 981.3 1422.6 976.4 1423.9 982.5 1425.2 976.5 1426.5 981.1 1427.8 976.2 1429.1 983.1 1430.4 978.2 1431.7 981.6 1433.0 976.6 1434.3 979.9 1435.6 976.0 1436.9 982.3 1438.2 975.6 1439.5 982.9 1440.8 978.2 1442.1 984.5 1443.4 977.9 1444.7 985.0 1446.0 982.0 1447.3 988.3 1448.6 979.8 1449.9 988.6 1451.2 973.7 1452.5 984.1 1453.8 978.8 1455.1 989.8 1456.4 981.9 1457.7 990.4 1459.0 988.6 1460.3 998.8 1461.6 993.7 1462.9 1003.5 1464.2 996.3 1465.5 1000.2 1466.8 994.1 1468.1 999.5 1469.4 990.5 1470.7 992.9 1472.0 987.5 1473.3 995.5 1474.6 984.9 1475.9 996.1 1477.2 988.7 1478.5 1000.5 1479.8 988.9 1481.1 998.7 1482.4 986.9 1483.7 991.3 1485.0 984.1 1486.3 988.7 1487.6 981.4 1488.9 988.0 1490.2 980.7 1491.5 985.5 1492.8 980.0 1494.1 988.9 1495.4 978.6 1496.7 955.7 1498.0 927.3 1499.3 935.7 1500.6 932.6 1501.9 941.0 1503.2 934.7 1504.5 948.6 1505.8 947.3 1507.1 957.2 1508.4 945.5 1509.7 961.3 1511.0 949.0 1512.3 967.5 1513.6 948.7 1514.9 968.2 1516.3 965.5 1517.6 977.2 1518.9 972.2 1520.2 982.9 1521.5 978.3 1522.8 984.5 1524.1 978.4 1525.4 984.4 1526.7 994.2 1528.0 984.5 1529.3 981.2 1530.6 990.6 1531.9 980.8 1533.2 988.4 1534.5 972.3 1535.8 989.0 1537.1 986.3 1538.4 993.7 1539.7 980.9 1541.0 993.1 1542.3 979.5 1543.6 973.7 1544.9 986.5 1546.2 1002.8 1547.5 983.0 1548.8 968.2 1550.1 984.1 1551.4 993.5 1552.7 987.8 1554.0 989.7 1555.3 987.2 1556.6 993.7 1557.9 990.9 1559.2 995.3 1560.5 992.6 1561.8 994.2 1563.1 997.9 1564.4 998.9 1565.7 988.5 1567.0 968.2 1568.3 990.1 1569.6 1008.4 1570.9 989.8 1572.2 996.4 1573.5 990.0 1574.8 992.9 1576.1 991.8 1577.4 999.3 1578.7 990.5 1580.0 1000.3 1581.3 994.9 1582.6 999.1 1583.9 993.7 1585.2 1004.5 1586.5 991.9 1587.8 1007.0 1589.1 996.0 1590.4 1003.1 1591.7 995.0 1593.0 1006.0 1594.3 999.8 1595.6 1006.6 1596.9 1003.5 1598.2 1005.7 1599.5 994.8 1600.8 1010.2 1602.1 1000.8 1603.4 992.9 1604.7 1001.7 1606.0 1012.3 1607.3 999.5 1608.6 1004.6 1609.9 1001.3 1611.2 1010.0 1612.5 974.7 1613.8 1004.9 1615.1 999.4 1616.4 1006.4 1617.7 998.7 1619.0 1000.3 1620.3 988.9 1621.7 1001.4 1623.0 997.8 1624.3 999.9 1625.6 996.1 1626.9 999.5 1628.2 991.5 1629.5 1006.2 1630.8 996.5 1632.1 998.0 1633.4 1000.8 1634.7 1006.1 1636.0 995.1 1637.3 1000.0 1638.6 994.4 1639.9 1002.2 1641.2 995.0 1642.5 1005.0 1643.8 993.7 1645.1 1004.5 1646.4 995.6 1647.7 997.5 1649.0 985.9 1650.3 994.9 1651.6 992.4 1652.9 996.1 1654.2 992.2 1655.5 995.1 1656.8 989.2 1658.1 997.2 1659.4 984.5 1660.7 995.6 1662.0 989.6 1663.3 1001.0 1664.6 984.5 1665.9 996.3 1667.2 985.5 1668.5 993.5 1669.8 981.9 1671.1 996.8 1672.4 992.0 1673.7 998.8 1675.0 993.6 1676.3 997.4 1677.6 989.0 1678.9 996.7 1680.2 989.7 1681.5 995.6 1682.8 988.8 1684.1 997.3 1685.4 989.2 1686.7 1000.9 1688.0 987.3 1689.3 990.6 1690.6 992.7 1691.9 998.4 1693.2 994.3 1694.5 1000.3 1695.8 995.3 1697.1 1007.2 1698.4 992.6 1699.7 998.9 1701.0 991.3 1702.3 998.1 1703.6 994.0 1704.9 999.9 1706.2 991.2 1707.5 1000.5 1708.8 990.1 1710.1 1003.2 1711.4 993.5 1712.7 971.5 1714.0 939.8 1715.3 974.0 1716.6 988.4 1717.9 969.6 1719.2 939.8 1720.5 971.9 1721.8 990.1 1723.1 994.3 1724.4 988.8 1725.7 998.6 1727.0 992.0 1728.4 999.3 1729.7 989.5 1731.0 1000.7 1732.3 994.8 1733.6 1001.3 1734.9 991.3 1736.2 997.1 1737.5 985.5 1738.8 989.3 1740.1 973.2 1741.4 981.9 1742.7 981.0 1744.0 998.8 1745.3 994.8 1746.6 1006.0 1747.9 998.6 1749.2 1004.9 1750.5 996.1 1751.8 1003.7 1753.1 996.6 1754.4 1004.3 1755.7 985.1 1757.0 1003.4" fill="none" stroke="#c4c4c4" stroke-width="1.9" stroke-linejoin="round"/>
<path d="M1236.5 1048.9 1237.8 1039.8 1239.1 1046.3 1240.4 1041.9 1241.7 1045.6 1243.0 1039.0 1244.3 1051.1 1245.6 1044.9 1246.9 1057.0 1248.2 1041.3 1249.5 1054.0 1250.8 1051.9 1252.1 1060.4 1253.4 1050.9 1254.7 1074.1 1256.0 1046.7 1257.3 1067.4 1258.6 1055.1 1259.9 1064.4 1261.2 1066.6 1262.5 1069.9 1263.8 1066.4 1265.1 1063.1 1266.4 1052.5 1267.7 1063.3 1269.0 1052.3 1270.3 1057.7 1271.6 1049.3 1272.9 1054.1 1274.2 1055.7 1275.5 1041.8 1276.8 1038.2 1278.1 1051.3 1279.4 1038.9 1280.7 1046.9 1282.0 1036.7 1283.3 1050.7 1284.6 1037.0 1285.9 1043.2 1287.2 1037.7 1288.5 1040.2 1289.8 1035.3 1291.1 1041.2 1292.4 1031.3 1293.7 1038.6 1295.0 1032.8 1296.3 1037.9 1297.6 1030.1 1298.9 1040.7 1300.2 1034.5 1301.5 1039.6 1302.8 1039.6 1304.2 1042.5 1305.5 1031.0 1306.8 1038.1 1308.1 1034.1 1309.4 1039.6 1310.7 1033.2 1312.0 1041.0 1313.3 1034.7 1314.6 1046.6 1315.9 1032.5 1317.2 1037.2 1318.5 1032.4 1319.8 1041.7 1321.1 1036.5 1322.4 1045.1 1323.7 1035.3 1325.0 1039.6 1326.3 1031.2 1327.6 1038.9 1328.9 1032.9 1330.2 1042.0 1331.5 1036.0 1332.8 1045.7 1334.1 1036.4 1335.4 1046.8 1336.7 1032.2 1338.0 1046.7 1339.3 1038.3 1340.6 1043.1 1341.9 1035.5 1343.2 1040.9 1344.5 1036.9 1345.8 1047.3 1347.1 1036.2 1348.4 1041.6 1349.7 1028.5 1351.0 1046.4 1352.3 1039.2 1353.6 1042.7 1354.9 1040.7 1356.2 1044.0 1357.5 1039.1 1358.8 1042.8 1360.1 1035.7 1361.4 1040.4 1362.7 1035.0 1364.0 1040.4 1365.3 1033.0 1366.6 1039.7 1367.9 1035.8 1369.2 1044.0 1370.5 1034.3 1371.8 1048.9 1373.1 1032.0 1374.4 1046.3 1375.7 1038.3 1377.0 1040.8 1378.3 1034.1 1379.6 1043.5 1380.9 1038.2 1382.2 1046.3 1383.5 1038.4 1384.8 1053.1 1386.1 1044.6 1387.4 1051.5 1388.7 1061.1 1390.0 1061.0 1391.3 1061.1 1392.6 1056.5 1393.9 1046.6 1395.2 1048.5 1396.5 1038.8 1397.8 1045.5 1399.1 1038.9 1400.4 1045.4 1401.7 1041.7 1403.0 1049.9 1404.3 1042.3 1405.6 1045.6 1406.9 1041.9 1408.2 1044.0 1409.6 1035.6 1410.9 1045.1 1412.2 1041.9 1413.5 1035.0 1414.8 1044.1 1416.1 1050.2 1417.4 1034.6 1418.7 1052.5 1420.0 1041.4 1421.3 1045.7 1422.6 1040.0 1423.9 1047.2 1425.2 1039.8 1426.5 1046.4 1427.8 1037.1 1429.1 1050.6 1430.4 1040.7 1431.7 1046.8 1433.0 1035.7 1434.3 1041.6 1435.6 1037.5 1436.9 1041.6 1438.2 1033.7 1439.5 1041.9 1440.8 1034.6 1442.1 1044.5 1443.4 1034.7 1444.7 1042.3 1446.0 1035.1 1447.3 1040.6 1448.6 1035.6 1449.9 1042.9 1451.2 1038.8 1452.5 1041.3 1453.8 1039.1 1455.1 1042.5 1456.4 1035.6 1457.7 1048.8 1459.0 1033.1 1460.3 1043.0 1461.6 1039.2 1462.9 1051.4 1464.2 1037.6 1465.5 1048.8 1466.8 1038.6 1468.1 1042.3 1469.4 1039.8 1470.7 1048.2 1472.0 1039.5 1473.3 1044.8 1474.6 1036.9 1475.9 1044.6 1477.2 1043.8 1478.5 1041.5 1479.8 1036.3 1481.1 1043.8 1482.4 1038.1 1483.7 1050.3 1485.0 1039.9 1486.3 1041.9 1487.6 1024.3 1488.9 1044.2 1490.2 1037.9 1491.5 1044.4 1492.8 1036.9 1494.1 1051.7 1495.4 1036.1 1496.7 1046.5 1498.0 1036.8 1499.3 1040.7 1500.6 1035.1 1501.9 1041.5 1503.2 1035.9 1504.5 1045.5 1505.8 1036.2 1507.1 1041.6 1508.4 1030.0 1509.7 1040.9 1511.0 1041.6 1512.3 1047.7 1513.6 1038.3 1514.9 1046.8 1516.3 1042.5 1517.6 1044.4 1518.9 1040.1 1520.2 1046.0 1521.5 1042.3 1522.8 1048.7 1524.1 1043.2 1525.4 1051.2 1526.7 1044.1 1528.0 1054.5 1529.3 1056.2 1530.6 1048.0 1531.9 1040.4 1533.2 1049.0 1534.5 1044.5 1535.8 1047.7 1537.1 1038.4 1538.4 1048.0 1539.7 1044.8 1541.0 1052.3 1542.3 1041.2 1543.6 1050.4 1544.9 1039.7 1546.2 1049.7 1547.5 1044.6 1548.8 1054.1 1550.1 1041.0 1551.4 1049.6 1552.7 1052.2 1554.0 1051.2 1555.3 1044.3 1556.6 1048.3 1557.9 1041.6 1559.2 1050.1 1560.5 1042.1 1561.8 1046.2 1563.1 1044.3 1564.4 1047.6 1565.7 1052.9 1567.0 1044.7 1568.3 1045.6 1569.6 1045.5 1570.9 1040.3 1572.2 1050.2 1573.5 1040.8 1574.8 1048.0 1576.1 1040.6 1577.4 1049.2 1578.7 1038.3 1580.0 1049.6 1581.3 1041.9 1582.6 1047.1 1583.9 1045.1 1585.2 1047.8 1586.5 1042.3 1587.8 1044.8 1589.1 1044.5 1590.4 1044.6 1591.7 1039.5 1593.0 1051.7 1594.3 1040.0 1595.6 1050.0 1596.9 1045.4 1598.2 1067.4 1599.5 1045.1 1600.8 1052.0 1602.1 1048.0 1603.4 1058.0 1604.7 1050.3 1606.0 1058.1 1607.3 1052.9 1608.6 1055.9 1609.9 1051.2 1611.2 1059.6 1612.5 1041.1 1613.8 1053.1 1615.1 1030.7 1616.4 1054.0 1617.7 1045.8 1619.0 1052.0 1620.3 1055.4 1621.7 1048.0 1623.0 1043.5 1624.3 1048.9 1625.6 1045.7 1626.9 1052.4 1628.2 1045.0 1629.5 1051.3 1630.8 1043.2 1632.1 1054.0 1633.4 1046.3 1634.7 1049.9 1636.0 1044.8 1637.3 1048.6 1638.6 1043.5 1639.9 1053.8 1641.2 1048.8 1642.5 1056.7 1643.8 1048.2 1645.1 1054.0 1646.4 1048.3 1647.7 1052.5 1649.0 1049.0 1650.3 1054.4 1651.6 1043.0 1652.9 1052.6 1654.2 1045.3 1655.5 1053.7 1656.8 1050.8 1658.1 1051.9 1659.4 1055.8 1660.7 1056.8 1662.0 1040.8 1663.3 1051.5 1664.6 1043.4 1665.9 1050.2 1667.2 1047.2 1668.5 1052.4 1669.8 1048.6 1671.1 1057.2 1672.4 1053.8 1673.7 1062.6 1675.0 1052.6 1676.3 1062.8 1677.6 1049.1 1678.9 1061.4 1680.2 1054.8 1681.5 1061.4 1682.8 1062.9 1684.1 1068.5 1685.4 1062.4 1686.7 1061.2 1688.0 1049.0 1689.3 1059.9 1690.6 1049.0 1691.9 1061.2 1693.2 1054.0 1694.5 1060.9 1695.8 1053.0 1697.1 1056.5 1698.4 1052.9 1699.7 1058.2 1701.0 1049.7 1702.3 1057.3 1703.6 1046.9 1704.9 1053.2 1706.2 1047.1 1707.5 1057.1 1708.8 1054.3 1710.1 1059.8 1711.4 1050.5 1712.7 1061.2 1714.0 1063.8 1715.3 1084.9 1716.6 1062.2 1717.9 1051.6 1719.2 1045.9 1720.5 1052.1 1721.8 1040.4 1723.1 1052.9 1724.4 1049.2 1725.7 1053.3 1727.0 1043.5 1728.4 1048.9 1729.7 1044.2 1731.0 1053.8 1732.3 1045.8 1733.6 1052.4 1734.9 1043.9 1736.2 1044.8 1737.5 1036.5 1738.8 1044.6 1740.1 1037.4 1741.4 1045.9 1742.7 1038.9 1744.0 1055.3 1745.3 1047.1 1746.6 1056.1 1747.9 1049.6 1749.2 1055.2 1750.5 1051.2 1751.8 1051.0 1753.1 1046.5 1754.4 1052.3 1755.7 1046.2 1757.0 1057.9" fill="none" stroke="#c4c4c4" stroke-width="1.9" stroke-linejoin="round"/>
<path d="M1236.5 1018.2 1237.8 1018.3 1239.1 1026.9 1240.4 1028.2 1241.7 1032.6 1243.0 1022.6 1244.3 1021.4 1245.6 1005.3 1246.9 1014.6 1248.2 1010.0 1249.5 1007.9 1250.8 1004.5 1252.1 1008.5 1253.4 1004.1 1254.7 1009.6 1256.0 1005.2 1257.3 1007.2 1258.6 1000.1 1259.9 1007.5 1261.2 997.8 1262.5 1013.5 1263.8 1008.2 1265.1 1013.3 1266.4 1002.6 1267.7 1013.7 1269.0 1012.9 1270.3 998.2 1271.6 1014.0 1272.9 1018.7 1274.2 1012.9 1275.5 1016.9 1276.8 1012.3 1278.1 1016.3 1279.4 1009.9 1280.7 1016.0 1282.0 1013.4 1283.3 1016.8 1284.6 1012.6 1285.9 1015.6 1287.2 1011.1 1288.5 1015.4 1289.8 1011.1 1291.1 1015.4 1292.4 1009.3 1293.7 1015.9 1295.0 1012.6 1296.3 1014.5 1297.6 1011.9 1298.9 1014.2 1300.2 1010.7 1301.5 1015.5 1302.8 1013.9 1304.2 1019.3 1305.5 1014.4 1306.8 1015.2 1308.1 1012.9 1309.4 1015.5 1310.7 1010.1 1312.0 1015.8 1313.3 1012.1 1314.6 1013.0 1315.9 1010.8 1317.2 1015.7 1318.5 1006.8 1319.8 1015.9 1321.1 1010.5 1322.4 1014.3 1323.7 1008.2 1325.0 1013.9 1326.3 1005.0 1327.6 1010.5 1328.9 1004.0 1330.2 1006.6 1331.5 1005.8 1332.8 1009.2 1334.1 1007.7 1335.4 1010.6 1336.7 1009.6 1338.0 1012.0 1339.3 1008.0 1340.6 1011.2 1341.9 1007.2 1343.2 1013.0 1344.5 1006.6 1345.8 1009.0 1347.1 1004.6 1348.4 1009.5 1349.7 1005.1 1351.0 1007.9 1352.3 1005.1 1353.6 1007.7 1354.9 1001.7 1356.2 1008.7 1357.5 1001.5 1358.8 1009.7 1360.1 1025.1 1361.4 1008.5 1362.7 1005.4 1364.0 1009.6 1365.3 1004.1 1366.6 1009.1 1367.9 1005.3 1369.2 1011.3 1370.5 1004.4 1371.8 1005.9 1373.1 1003.3 1374.4 1007.2 1375.7 1004.1 1377.0 1008.5 1378.3 1003.9 1379.6 1007.5 1380.9 1003.3 1382.2 1006.8 1383.5 1001.3 1384.8 1003.4 1386.1 1001.8 1387.4 1006.1 1388.7 1002.1 1390.0 1009.8 1391.3 1002.6 1392.6 1005.7 1393.9 1002.4 1395.2 1005.2 1396.5 1004.6 1397.8 1010.0 1399.1 1022.7 1400.4 1018.7 1401.7 1009.0 1403.0 1012.2 1404.3 1013.4 1405.6 1015.2 1406.9 1012.6 1408.2 1015.0 1409.6 1013.1 1410.9 1007.7 1412.2 1010.0 1413.5 1019.9 1414.8 1014.6 1416.1 1017.3 1417.4 1012.3 1418.7 1014.7 1420.0 1009.9 1421.3 1013.9 1422.6 1009.6 1423.9 1018.5 1425.2 1011.8 1426.5 1014.7 1427.8 1008.5 1429.1 1013.3 1430.4 1008.8 1431.7 1014.8 1433.0 1007.8 1434.3 1012.3 1435.6 1007.5 1436.9 1011.5 1438.2 1014.6 1439.5 1010.4 1440.8 1007.1 1442.1 1013.2 1443.4 1007.9 1444.7 1013.1 1446.0 1008.7 1447.3 1015.3 1448.6 1009.7 1449.9 1020.0 1451.2 1008.8 1452.5 1011.3 1453.8 1010.3 1455.1 1013.1 1456.4 1009.0 1457.7 1017.5 1459.0 1013.9 1460.3 1019.4 1461.6 1020.2 1462.9 1022.1 1464.2 1020.1 1465.5 1024.5 1466.8 1017.5 1468.1 1021.1 1469.4 1015.9 1470.7 1024.2 1472.0 1013.9 1473.3 1021.2 1474.6 1019.3 1475.9 1019.2 1477.2 1013.8 1478.5 1015.7 1479.8 1015.0 1481.1 1017.8 1482.4 1005.9 1483.7 1019.1 1485.0 1014.7 1486.3 1018.8 1487.6 1015.2 1488.9 1008.6 1490.2 1011.6 1491.5 1017.7 1492.8 1010.9 1494.1 1013.6 1495.4 1012.9 1496.7 999.3 1498.0 987.4 1499.3 991.7 1500.6 990.8 1501.9 998.3 1503.2 992.4 1504.5 1002.3 1505.8 999.1 1507.1 1005.7 1508.4 1002.1 1509.7 1006.7 1511.0 1002.1 1512.3 1007.4 1513.6 1005.3 1514.9 1013.0 1516.3 1005.5 1517.6 1014.0 1518.9 1006.3 1520.2 1007.6 1521.5 1011.3 1522.8 1014.6 1524.1 1010.5 1525.4 1025.9 1526.7 1014.9 1528.0 1019.8 1529.3 1017.3 1530.6 1019.1 1531.9 1017.6 1533.2 1021.8 1534.5 1015.6 1535.8 1019.5 1537.1 1016.9 1538.4 1021.3 1539.7 1001.6 1541.0 1022.2 1542.3 1020.7 1543.6 1025.4 1544.9 1020.8 1546.2 1023.6 1547.5 1019.9 1548.8 1024.7 1550.1 1021.0 1551.4 1025.4 1552.7 1018.7 1554.0 1023.4 1555.3 1017.4 1556.6 1023.1 1557.9 1018.8 1559.2 1022.2 1560.5 1017.4 1561.8 1021.6 1563.1 1016.3 1564.4 1021.7 1565.7 1019.0 1567.0 1022.5 1568.3 1018.2 1569.6 1021.4 1570.9 1015.7 1572.2 1020.5 1573.5 1016.9 1574.8 1020.2 1576.1 1018.4 1577.4 1024.4 1578.7 1018.6 1580.0 1021.1 1581.3 1016.5 1582.6 1022.7 1583.9 1018.7 1585.2 1023.8 1586.5 1019.9 1587.8 1027.0 1589.1 1021.4 1590.4 1025.6 1591.7 1022.3 1593.0 1027.7 1594.3 1021.3 1595.6 1024.8 1596.9 1022.7 1598.2 1029.5 1599.5 1022.3 1600.8 1026.0 1602.1 1023.6 1603.4 1029.9 1604.7 1024.1 1606.0 1029.3 1607.3 1025.3 1608.6 1029.9 1609.9 1028.2 1611.2 1027.6 1612.5 1020.3 1613.8 1026.6 1615.1 1016.7 1616.4 1026.0 1617.7 1024.1 1619.0 1028.1 1620.3 1024.3 1621.7 1024.8 1623.0 1021.7 1624.3 1027.2 1625.6 1024.3 1626.9 1021.7 1628.2 1023.0 1629.5 1025.9 1630.8 1021.8 1632.1 1027.4 1633.4 1022.4 1634.7 1027.9 1636.0 1019.7 1637.3 1025.1 1638.6 1018.7 1639.9 1023.2 1641.2 1019.5 1642.5 1026.4 1643.8 1024.1 1645.1 1027.2 1646.4 1025.1 1647.7 1046.3 1649.0 1023.9 1650.3 1030.0 1651.6 1025.6 1652.9 1028.5 1654.2 1020.2 1655.5 1026.1 1656.8 1017.8 1658.1 1027.0 1659.4 1023.9 1660.7 1025.0 1662.0 1022.2 1663.3 1028.8 1664.6 1022.6 1665.9 1024.6 1667.2 1021.1 1668.5 1025.2 1669.8 1018.0 1671.1 1024.6 1672.4 1019.1 1673.7 1024.0 1675.0 1020.2 1676.3 1025.0 1677.6 1019.2 1678.9 1024.8 1680.2 1020.2 1681.5 1028.2 1682.8 1022.8 1684.1 1028.4 1685.4 1021.7 1686.7 1024.4 1688.0 1021.0 1689.3 1026.5 1690.6 1023.1 1691.9 1028.3 1693.2 1023.4 1694.5 1026.4 1695.8 1024.2 1697.1 1029.0 1698.4 1025.0 1699.7 1031.5 1701.0 1027.0 1702.3 1031.6 1703.6 1028.5 1704.9 1030.7 1706.2 1024.3 1707.5 1028.0 1708.8 1022.2 1710.1 1022.8 1711.4 1015.8 1712.7 1019.5 1714.0 1015.4 1715.3 1015.2 1716.6 1015.2 1717.9 1016.4 1719.2 1010.6 1720.5 1004.1 1721.8 1011.1 1723.1 1017.9 1724.4 1014.4 1725.7 1016.9 1727.0 1013.2 1728.4 1020.3 1729.7 1012.2 1731.0 1023.2 1732.3 1013.6 1733.6 1015.6 1734.9 1013.4 1736.2 1018.0 1737.5 997.4 1738.8 1008.8 1740.1 1004.6 1741.4 1008.0 1742.7 1006.2 1744.0 1020.9 1745.3 1014.7 1746.6 1021.3 1747.9 1020.6 1749.2 1030.9 1750.5 1026.8 1751.8 1028.2 1753.1 1027.7 1754.4 1029.6 1755.7 1023.1 1757.0 1026.6" fill="none" stroke="#000" stroke-width="2.1" stroke-linejoin="round"/>
<line x1="1496.1" y1="1162.3" x2="1496.1" y2="886.0" stroke="#2a7a58" stroke-width="1.3"/>
<rect x="1496.1" y="1154.0" width="57.7" height="8.3" fill="#23904a"/>
<path d="M1236.1 831.9V1162.3H1756.6" fill="none" stroke="#3a3a3a" stroke-width="1.4"/>
<line x1="1232.3" y1="1162.3" x2="1236.1" y2="1162.3" stroke="#3a3a3a" stroke-width="1.4"/>
<text x="0" y="0" transform="translate(1228.3,1167.9) scale(0.80,1)" text-anchor="end" font-size="14">0.0</text>
<line x1="1232.3" y1="1107.2" x2="1236.1" y2="1107.2" stroke="#3a3a3a" stroke-width="1.4"/>
<text x="0" y="0" transform="translate(1228.3,1112.8) scale(0.80,1)" text-anchor="end" font-size="14">0.2</text>
<line x1="1232.3" y1="1052.2" x2="1236.1" y2="1052.2" stroke="#3a3a3a" stroke-width="1.4"/>
<text x="0" y="0" transform="translate(1228.3,1057.8) scale(0.80,1)" text-anchor="end" font-size="14">0.4</text>
<line x1="1232.3" y1="997.1" x2="1236.1" y2="997.1" stroke="#3a3a3a" stroke-width="1.4"/>
<text x="0" y="0" transform="translate(1228.3,1002.7) scale(0.80,1)" text-anchor="end" font-size="14">0.6</text>
<line x1="1232.3" y1="942.1" x2="1236.1" y2="942.1" stroke="#3a3a3a" stroke-width="1.4"/>
<text x="0" y="0" transform="translate(1228.3,947.7) scale(0.80,1)" text-anchor="end" font-size="14">0.8</text>
<line x1="1232.3" y1="887.0" x2="1236.1" y2="887.0" stroke="#3a3a3a" stroke-width="1.4"/>
<text x="0" y="0" transform="translate(1228.3,892.6) scale(0.80,1)" text-anchor="end" font-size="14">1.0</text>
<line x1="1232.3" y1="831.9" x2="1236.1" y2="831.9" stroke="#3a3a3a" stroke-width="1.4"/>
<text x="0" y="0" transform="translate(1228.3,837.5) scale(0.80,1)" text-anchor="end" font-size="14">1.2</text>
<line x1="1264.5" y1="1162.3" x2="1264.5" y2="1167.3" stroke="#3a3a3a" stroke-width="1.4"/>
<text x="0" y="0" transform="translate(1264.5,1183.3) scale(0.794,1)" text-anchor="middle" font-size="14">−40</text>
<line x1="1322.4" y1="1162.3" x2="1322.4" y2="1167.3" stroke="#3a3a3a" stroke-width="1.4"/>
<text x="0" y="0" transform="translate(1322.4,1183.3) scale(0.794,1)" text-anchor="middle" font-size="14">−30</text>
<line x1="1380.3" y1="1162.3" x2="1380.3" y2="1167.3" stroke="#3a3a3a" stroke-width="1.4"/>
<text x="0" y="0" transform="translate(1380.3,1183.3) scale(0.794,1)" text-anchor="middle" font-size="14">−20</text>
<line x1="1438.2" y1="1162.3" x2="1438.2" y2="1167.3" stroke="#3a3a3a" stroke-width="1.4"/>
<text x="0" y="0" transform="translate(1438.2,1183.3) scale(0.794,1)" text-anchor="middle" font-size="14">−10</text>
<line x1="1496.0" y1="1162.3" x2="1496.0" y2="1167.3" stroke="#3a3a3a" stroke-width="1.4"/>
<text x="0" y="0" transform="translate(1496.0,1183.3) scale(0.794,1)" text-anchor="middle" font-size="14">0</text>
<line x1="1553.9" y1="1162.3" x2="1553.9" y2="1167.3" stroke="#3a3a3a" stroke-width="1.4"/>
<text x="0" y="0" transform="translate(1553.9,1183.3) scale(0.794,1)" text-anchor="middle" font-size="14">10</text>
<line x1="1611.8" y1="1162.3" x2="1611.8" y2="1167.3" stroke="#3a3a3a" stroke-width="1.4"/>
<text x="0" y="0" transform="translate(1611.8,1183.3) scale(0.794,1)" text-anchor="middle" font-size="14">20</text>
<line x1="1669.7" y1="1162.3" x2="1669.7" y2="1167.3" stroke="#3a3a3a" stroke-width="1.4"/>
<text x="0" y="0" transform="translate(1669.7,1183.3) scale(0.794,1)" text-anchor="middle" font-size="14">30</text>
<line x1="1727.6" y1="1162.3" x2="1727.6" y2="1167.3" stroke="#3a3a3a" stroke-width="1.4"/>
<text x="0" y="0" transform="translate(1727.6,1183.3) scale(0.794,1)" text-anchor="middle" font-size="14">40</text>
<text class="ti" transform="translate(1471.7,860.8) scale(1,1.02)" text-anchor="middle">Afternoon, Three times</text>
<line x1="92.75" y1="188.45" x2="1754.5" y2="188.45" stroke="#111" stroke-width="2.6" stroke-dasharray="2.6 3.05"/>
<line x1="93.6" y1="592.8" x2="1762.5" y2="592.8" stroke="#111" stroke-width="2.6" stroke-dasharray="2.6 3.05"/>
<line x1="91.1" y1="996.95" x2="1762.5" y2="996.95" stroke="#111" stroke-width="2.6" stroke-dasharray="2.6 3.05"/>
<text class="lab" x="895" y="1252.4" text-anchor="middle">Time (minutes)</text>
<text class="lab" transform="translate(38.6,606) rotate(-90)" text-anchor="middle">Speed (bd/sec)</text>
</svg>
</body></html>
